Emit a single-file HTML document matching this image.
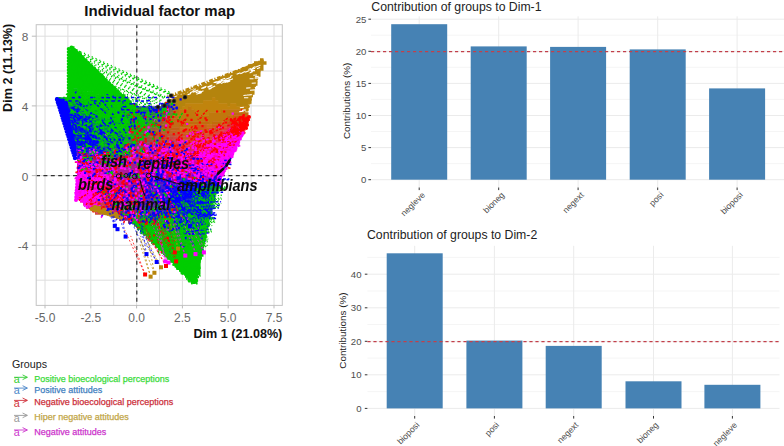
<!DOCTYPE html>
<html><head><meta charset="utf-8"><style>
html,body{margin:0;padding:0;background:#fff;width:784px;height:446px;overflow:hidden}
svg{display:block;font-family:"Liberation Sans",sans-serif}
</style></head><body>
<svg width="784" height="446" viewBox="0 0 784 446" font-family="Liberation Sans, sans-serif">
<rect width="784" height="446" fill="#fff"/>
<rect x="36.2" y="24.7" width="246.10000000000002" height="280.7" fill="#fff"/>
<line x1="45.0" y1="24.7" x2="45.0" y2="305.4" stroke="#dedede" stroke-width="1"/>
<line x1="67.9" y1="24.7" x2="67.9" y2="305.4" stroke="#dedede" stroke-width="1"/>
<line x1="90.8" y1="24.7" x2="90.8" y2="305.4" stroke="#dedede" stroke-width="1"/>
<line x1="113.7" y1="24.7" x2="113.7" y2="305.4" stroke="#dedede" stroke-width="1"/>
<line x1="136.6" y1="24.7" x2="136.6" y2="305.4" stroke="#dedede" stroke-width="1"/>
<line x1="159.5" y1="24.7" x2="159.5" y2="305.4" stroke="#dedede" stroke-width="1"/>
<line x1="182.4" y1="24.7" x2="182.4" y2="305.4" stroke="#dedede" stroke-width="1"/>
<line x1="205.3" y1="24.7" x2="205.3" y2="305.4" stroke="#dedede" stroke-width="1"/>
<line x1="228.2" y1="24.7" x2="228.2" y2="305.4" stroke="#dedede" stroke-width="1"/>
<line x1="251.1" y1="24.7" x2="251.1" y2="305.4" stroke="#dedede" stroke-width="1"/>
<line x1="274.0" y1="24.7" x2="274.0" y2="305.4" stroke="#dedede" stroke-width="1"/>
<line x1="36.2" y1="36.2" x2="282.3" y2="36.2" stroke="#dedede" stroke-width="1"/>
<line x1="36.2" y1="71.0" x2="282.3" y2="71.0" stroke="#dedede" stroke-width="1"/>
<line x1="36.2" y1="105.9" x2="282.3" y2="105.9" stroke="#dedede" stroke-width="1"/>
<line x1="36.2" y1="140.7" x2="282.3" y2="140.7" stroke="#dedede" stroke-width="1"/>
<line x1="36.2" y1="175.6" x2="282.3" y2="175.6" stroke="#dedede" stroke-width="1"/>
<line x1="36.2" y1="210.5" x2="282.3" y2="210.5" stroke="#dedede" stroke-width="1"/>
<line x1="36.2" y1="245.3" x2="282.3" y2="245.3" stroke="#dedede" stroke-width="1"/>
<line x1="36.2" y1="280.2" x2="282.3" y2="280.2" stroke="#dedede" stroke-width="1"/>
<clipPath id="pc"><rect x="36.2" y="24.7" width="246.10000000000002" height="280.7"/></clipPath>
<filter id="bl" x="-2%" y="-2%" width="104%" height="104%"><feGaussianBlur stdDeviation="0.4"/></filter>
<g clip-path="url(#pc)"><g filter="url(#bl)">
<line x1="36" y1="175.6" x2="283" y2="175.6" stroke="#333" stroke-width="1.2" stroke-dasharray="4,3.4"/>
<line x1="136.8" y1="24" x2="136.8" y2="306" stroke="#333" stroke-width="1.2" stroke-dasharray="4,3.4"/>
<path d="M73.3 49.3L172.2 94.3M76.1 52L171.3 94.3M78.5 54.2L170.3 95M82.3 57.9L170.3 94.4M83.9 59.5L167 97.3M86.6 62.1L165.2 99M90.5 65.8L165 97.5M92.2 67.5L164.6 97.6M95.3 70.4L164.4 97.7M98.5 73.6L162.3 100.7M101.4 76.4L160.4 101.2M104.5 79.3L159.8 101.2M107.8 82.6L156.5 104.5M110.1 84.8L158 102.2M112.2 86.8L158.1 103.3M115.2 89.7L154 105.2M119 93.3L152.4 105.4M120.5 94.8L151.6 106.9M124.6 98.7L151.8 106M126.8 100.9L150 107.5M72.5 48L172 93" stroke="#00cd00" stroke-width="1.25" fill="none" stroke-dasharray="1.2,3"/>
<path d="M254.7 63.7L179.5 102.1M252.1 64.5L166.5 96.5M195.1 86.7L173.4 99.6M246 68.1L167 101.1M252.2 64.9L168.2 98.2M180.4 94L169.6 103.1M244.3 67.9L177.8 101.1M253.6 65.8L168.2 98.1M197.1 86.3L169.4 96.6M254.4 64.4L168.6 100.8M230.8 73.4L179.4 99.9M213.7 81.1L167.7 97.2M185.7 92L168.7 97.5M199.9 86.8L167.9 103.6" stroke="#b8860b" stroke-width="1.3" fill="none" stroke-dasharray="4,1.6,1.2,1.6"/>
<path d="M71 46.3h3.5v3.5h-3.5zM68 49.3h3.5v3.5h-3.5zM71 49.3h3.5v3.5h-3.5zM74 49.3h3.5v3.5h-3.5zM68 52.3h3.5v3.5h-3.5zM71 52.3h3.5v3.5h-3.5zM74 52.3h3.5v3.5h-3.5zM77 52.3h3.5v3.5h-3.5zM68 55.3h3.5v3.5h-3.5zM71 55.3h3.5v3.5h-3.5zM74 55.3h3.5v3.5h-3.5zM77 55.3h3.5v3.5h-3.5zM80 55.3h3.5v3.5h-3.5zM68 58.3h3.5v3.5h-3.5zM71 58.3h3.5v3.5h-3.5zM74 58.3h3.5v3.5h-3.5zM77 58.3h3.5v3.5h-3.5zM80 58.3h3.5v3.5h-3.5zM83 58.3h3.5v3.5h-3.5zM68 61.3h3.5v3.5h-3.5zM71 61.3h3.5v3.5h-3.5zM74 61.3h3.5v3.5h-3.5zM77 61.3h3.5v3.5h-3.5zM80 61.3h3.5v3.5h-3.5zM83 61.3h3.5v3.5h-3.5zM86 61.3h3.5v3.5h-3.5zM68 64.3h3.5v3.5h-3.5zM71 64.3h3.5v3.5h-3.5zM74 64.3h3.5v3.5h-3.5zM77 64.3h3.5v3.5h-3.5zM80 64.3h3.5v3.5h-3.5zM83 64.3h3.5v3.5h-3.5zM86 64.3h3.5v3.5h-3.5zM89 64.3h3.5v3.5h-3.5zM68 67.3h3.5v3.5h-3.5zM71 67.3h3.5v3.5h-3.5zM74 67.3h3.5v3.5h-3.5zM77 67.3h3.5v3.5h-3.5zM80 67.3h3.5v3.5h-3.5zM83 67.3h3.5v3.5h-3.5zM86 67.3h3.5v3.5h-3.5zM89 67.3h3.5v3.5h-3.5zM92 67.3h3.5v3.5h-3.5zM68 70.3h3.5v3.5h-3.5zM71 70.3h3.5v3.5h-3.5zM74 70.3h3.5v3.5h-3.5zM77 70.3h3.5v3.5h-3.5zM80 70.3h3.5v3.5h-3.5zM83 70.3h3.5v3.5h-3.5zM86 70.3h3.5v3.5h-3.5zM89 70.3h3.5v3.5h-3.5zM92 70.3h3.5v3.5h-3.5zM95 70.3h3.5v3.5h-3.5zM68 73.3h3.5v3.5h-3.5zM71 73.3h3.5v3.5h-3.5zM74 73.3h3.5v3.5h-3.5zM77 73.3h3.5v3.5h-3.5zM80 73.3h3.5v3.5h-3.5zM83 73.3h3.5v3.5h-3.5zM86 73.3h3.5v3.5h-3.5zM89 73.3h3.5v3.5h-3.5zM92 73.3h3.5v3.5h-3.5zM95 73.3h3.5v3.5h-3.5zM98 73.3h3.5v3.5h-3.5zM68 76.3h3.5v3.5h-3.5zM71 76.3h3.5v3.5h-3.5zM74 76.3h3.5v3.5h-3.5zM77 76.3h3.5v3.5h-3.5zM80 76.3h3.5v3.5h-3.5zM83 76.3h3.5v3.5h-3.5zM86 76.3h3.5v3.5h-3.5zM89 76.3h3.5v3.5h-3.5zM92 76.3h3.5v3.5h-3.5zM95 76.3h3.5v3.5h-3.5zM98 76.3h3.5v3.5h-3.5zM101 76.3h3.5v3.5h-3.5zM68 79.3h3.5v3.5h-3.5zM71 79.3h3.5v3.5h-3.5zM74 79.3h3.5v3.5h-3.5zM77 79.3h3.5v3.5h-3.5zM80 79.3h3.5v3.5h-3.5zM83 79.3h3.5v3.5h-3.5zM86 79.3h3.5v3.5h-3.5zM89 79.3h3.5v3.5h-3.5zM92 79.3h3.5v3.5h-3.5zM95 79.3h3.5v3.5h-3.5zM98 79.3h3.5v3.5h-3.5zM101 79.3h3.5v3.5h-3.5zM104 79.3h3.5v3.5h-3.5zM68 82.3h3.5v3.5h-3.5zM71 82.3h3.5v3.5h-3.5zM74 82.3h3.5v3.5h-3.5zM77 82.3h3.5v3.5h-3.5zM80 82.3h3.5v3.5h-3.5zM83 82.3h3.5v3.5h-3.5zM86 82.3h3.5v3.5h-3.5zM89 82.3h3.5v3.5h-3.5zM92 82.3h3.5v3.5h-3.5zM95 82.3h3.5v3.5h-3.5zM98 82.3h3.5v3.5h-3.5zM101 82.3h3.5v3.5h-3.5zM104 82.3h3.5v3.5h-3.5zM107 82.3h3.5v3.5h-3.5zM68 85.3h3.5v3.5h-3.5zM71 85.3h3.5v3.5h-3.5zM74 85.3h3.5v3.5h-3.5zM77 85.3h3.5v3.5h-3.5zM80 85.3h3.5v3.5h-3.5zM83 85.3h3.5v3.5h-3.5zM86 85.3h3.5v3.5h-3.5zM89 85.3h3.5v3.5h-3.5zM92 85.3h3.5v3.5h-3.5zM95 85.3h3.5v3.5h-3.5zM98 85.3h3.5v3.5h-3.5zM101 85.3h3.5v3.5h-3.5zM104 85.3h3.5v3.5h-3.5zM107 85.3h3.5v3.5h-3.5zM110 85.3h3.5v3.5h-3.5zM83 88.3h3.5v3.5h-3.5zM86 88.3h3.5v3.5h-3.5zM89 88.3h3.5v3.5h-3.5zM92 88.3h3.5v3.5h-3.5zM95 88.3h3.5v3.5h-3.5zM98 88.3h3.5v3.5h-3.5zM101 88.3h3.5v3.5h-3.5zM104 88.3h3.5v3.5h-3.5zM107 88.3h3.5v3.5h-3.5zM110 88.3h3.5v3.5h-3.5zM113 88.3h3.5v3.5h-3.5zM95 91.3h3.5v3.5h-3.5zM98 91.3h3.5v3.5h-3.5zM101 91.3h3.5v3.5h-3.5zM104 91.3h3.5v3.5h-3.5zM107 91.3h3.5v3.5h-3.5zM110 91.3h3.5v3.5h-3.5zM113 91.3h3.5v3.5h-3.5zM116 91.3h3.5v3.5h-3.5zM110 94.3h3.5v3.5h-3.5zM113 94.3h3.5v3.5h-3.5zM182 250.3h3.5v3.5h-3.5zM185 250.3h3.5v3.5h-3.5zM188 250.3h3.5v3.5h-3.5zM173 253.3h3.5v3.5h-3.5zM176 253.3h3.5v3.5h-3.5zM179 253.3h3.5v3.5h-3.5zM182 253.3h3.5v3.5h-3.5zM185 253.3h3.5v3.5h-3.5zM188 253.3h3.5v3.5h-3.5zM191 253.3h3.5v3.5h-3.5zM194 253.3h3.5v3.5h-3.5zM170 256.3h3.5v3.5h-3.5zM173 256.3h3.5v3.5h-3.5zM176 256.3h3.5v3.5h-3.5zM179 256.3h3.5v3.5h-3.5zM182 256.3h3.5v3.5h-3.5zM185 256.3h3.5v3.5h-3.5zM188 256.3h3.5v3.5h-3.5zM191 256.3h3.5v3.5h-3.5zM194 256.3h3.5v3.5h-3.5zM197 256.3h3.5v3.5h-3.5zM170 259.3h3.5v3.5h-3.5zM173 259.3h3.5v3.5h-3.5zM176 259.3h3.5v3.5h-3.5zM179 259.3h3.5v3.5h-3.5zM182 259.3h3.5v3.5h-3.5zM185 259.3h3.5v3.5h-3.5zM188 259.3h3.5v3.5h-3.5zM191 259.3h3.5v3.5h-3.5zM194 259.3h3.5v3.5h-3.5zM197 259.3h3.5v3.5h-3.5zM173 262.3h3.5v3.5h-3.5zM176 262.3h3.5v3.5h-3.5zM179 262.3h3.5v3.5h-3.5zM182 262.3h3.5v3.5h-3.5zM185 262.3h3.5v3.5h-3.5zM188 262.3h3.5v3.5h-3.5zM191 262.3h3.5v3.5h-3.5zM194 262.3h3.5v3.5h-3.5zM197 262.3h3.5v3.5h-3.5zM176 265.3h3.5v3.5h-3.5zM179 265.3h3.5v3.5h-3.5zM182 265.3h3.5v3.5h-3.5zM185 265.3h3.5v3.5h-3.5zM188 265.3h3.5v3.5h-3.5zM191 265.3h3.5v3.5h-3.5zM194 265.3h3.5v3.5h-3.5zM197 265.3h3.5v3.5h-3.5zM179 268.3h3.5v3.5h-3.5zM182 268.3h3.5v3.5h-3.5zM185 268.3h3.5v3.5h-3.5zM188 268.3h3.5v3.5h-3.5zM191 268.3h3.5v3.5h-3.5zM194 268.3h3.5v3.5h-3.5zM197 268.3h3.5v3.5h-3.5zM182 271.3h3.5v3.5h-3.5zM185 271.3h3.5v3.5h-3.5zM188 271.3h3.5v3.5h-3.5zM191 271.3h3.5v3.5h-3.5zM194 271.3h3.5v3.5h-3.5zM197 271.3h3.5v3.5h-3.5zM185 274.3h3.5v3.5h-3.5zM188 274.3h3.5v3.5h-3.5zM191 274.3h3.5v3.5h-3.5zM194 274.3h3.5v3.5h-3.5zM188 277.3h3.5v3.5h-3.5zM191 277.3h3.5v3.5h-3.5zM194 277.3h3.5v3.5h-3.5zM191 280.3h3.5v3.5h-3.5zM194 280.3h3.5v3.5h-3.5z" fill="#00cc00"/>
<path d="M260 58.3h3.5v3.5h-3.5zM254 61.3h3.5v3.5h-3.5zM257 61.3h3.5v3.5h-3.5zM260 61.3h3.5v3.5h-3.5zM263 61.3h3.5v3.5h-3.5zM248 64.3h3.5v3.5h-3.5zM251 64.3h3.5v3.5h-3.5zM254 64.3h3.5v3.5h-3.5zM257 64.3h3.5v3.5h-3.5zM260 64.3h3.5v3.5h-3.5zM242 67.3h3.5v3.5h-3.5zM245 67.3h3.5v3.5h-3.5zM248 67.3h3.5v3.5h-3.5zM251 67.3h3.5v3.5h-3.5zM254 67.3h3.5v3.5h-3.5zM257 67.3h3.5v3.5h-3.5zM260 67.3h3.5v3.5h-3.5zM236 70.3h3.5v3.5h-3.5zM239 70.3h3.5v3.5h-3.5zM242 70.3h3.5v3.5h-3.5zM245 70.3h3.5v3.5h-3.5zM248 70.3h3.5v3.5h-3.5zM251 70.3h3.5v3.5h-3.5zM254 70.3h3.5v3.5h-3.5zM257 70.3h3.5v3.5h-3.5zM230 73.3h3.5v3.5h-3.5zM233 73.3h3.5v3.5h-3.5zM236 73.3h3.5v3.5h-3.5zM239 73.3h3.5v3.5h-3.5zM242 73.3h3.5v3.5h-3.5zM245 73.3h3.5v3.5h-3.5zM248 73.3h3.5v3.5h-3.5zM251 73.3h3.5v3.5h-3.5zM254 73.3h3.5v3.5h-3.5zM257 73.3h3.5v3.5h-3.5zM221 76.3h3.5v3.5h-3.5zM224 76.3h3.5v3.5h-3.5zM227 76.3h3.5v3.5h-3.5zM230 76.3h3.5v3.5h-3.5zM233 76.3h3.5v3.5h-3.5zM236 76.3h3.5v3.5h-3.5zM239 76.3h3.5v3.5h-3.5zM242 76.3h3.5v3.5h-3.5zM245 76.3h3.5v3.5h-3.5zM248 76.3h3.5v3.5h-3.5zM251 76.3h3.5v3.5h-3.5zM254 76.3h3.5v3.5h-3.5zM215 79.3h3.5v3.5h-3.5zM218 79.3h3.5v3.5h-3.5zM221 79.3h3.5v3.5h-3.5zM224 79.3h3.5v3.5h-3.5zM227 79.3h3.5v3.5h-3.5zM230 79.3h3.5v3.5h-3.5zM233 79.3h3.5v3.5h-3.5zM236 79.3h3.5v3.5h-3.5zM239 79.3h3.5v3.5h-3.5zM242 79.3h3.5v3.5h-3.5zM245 79.3h3.5v3.5h-3.5zM248 79.3h3.5v3.5h-3.5zM251 79.3h3.5v3.5h-3.5zM254 79.3h3.5v3.5h-3.5zM209 82.3h3.5v3.5h-3.5zM212 82.3h3.5v3.5h-3.5zM215 82.3h3.5v3.5h-3.5zM218 82.3h3.5v3.5h-3.5zM221 82.3h3.5v3.5h-3.5zM224 82.3h3.5v3.5h-3.5zM227 82.3h3.5v3.5h-3.5zM230 82.3h3.5v3.5h-3.5zM233 82.3h3.5v3.5h-3.5zM236 82.3h3.5v3.5h-3.5zM239 82.3h3.5v3.5h-3.5zM242 82.3h3.5v3.5h-3.5zM245 82.3h3.5v3.5h-3.5zM248 82.3h3.5v3.5h-3.5zM251 82.3h3.5v3.5h-3.5zM254 82.3h3.5v3.5h-3.5zM203 85.3h3.5v3.5h-3.5zM206 85.3h3.5v3.5h-3.5zM209 85.3h3.5v3.5h-3.5zM212 85.3h3.5v3.5h-3.5zM215 85.3h3.5v3.5h-3.5zM218 85.3h3.5v3.5h-3.5zM221 85.3h3.5v3.5h-3.5zM224 85.3h3.5v3.5h-3.5zM227 85.3h3.5v3.5h-3.5zM230 85.3h3.5v3.5h-3.5zM233 85.3h3.5v3.5h-3.5zM236 85.3h3.5v3.5h-3.5zM239 85.3h3.5v3.5h-3.5zM242 85.3h3.5v3.5h-3.5zM245 85.3h3.5v3.5h-3.5zM248 85.3h3.5v3.5h-3.5zM251 85.3h3.5v3.5h-3.5zM197 88.3h3.5v3.5h-3.5zM200 88.3h3.5v3.5h-3.5zM203 88.3h3.5v3.5h-3.5zM206 88.3h3.5v3.5h-3.5zM209 88.3h3.5v3.5h-3.5zM212 88.3h3.5v3.5h-3.5zM215 88.3h3.5v3.5h-3.5zM218 88.3h3.5v3.5h-3.5zM221 88.3h3.5v3.5h-3.5zM224 88.3h3.5v3.5h-3.5zM227 88.3h3.5v3.5h-3.5zM230 88.3h3.5v3.5h-3.5zM233 88.3h3.5v3.5h-3.5zM236 88.3h3.5v3.5h-3.5zM239 88.3h3.5v3.5h-3.5zM242 88.3h3.5v3.5h-3.5zM245 88.3h3.5v3.5h-3.5zM248 88.3h3.5v3.5h-3.5zM251 88.3h3.5v3.5h-3.5zM191 91.3h3.5v3.5h-3.5zM194 91.3h3.5v3.5h-3.5zM197 91.3h3.5v3.5h-3.5zM200 91.3h3.5v3.5h-3.5zM203 91.3h3.5v3.5h-3.5zM206 91.3h3.5v3.5h-3.5zM209 91.3h3.5v3.5h-3.5zM212 91.3h3.5v3.5h-3.5zM215 91.3h3.5v3.5h-3.5zM218 91.3h3.5v3.5h-3.5zM221 91.3h3.5v3.5h-3.5zM224 91.3h3.5v3.5h-3.5zM227 91.3h3.5v3.5h-3.5zM230 91.3h3.5v3.5h-3.5zM233 91.3h3.5v3.5h-3.5zM236 91.3h3.5v3.5h-3.5zM239 91.3h3.5v3.5h-3.5zM242 91.3h3.5v3.5h-3.5zM245 91.3h3.5v3.5h-3.5zM248 91.3h3.5v3.5h-3.5zM251 91.3h3.5v3.5h-3.5zM185 94.3h3.5v3.5h-3.5zM188 94.3h3.5v3.5h-3.5zM191 94.3h3.5v3.5h-3.5zM194 94.3h3.5v3.5h-3.5zM197 94.3h3.5v3.5h-3.5zM200 94.3h3.5v3.5h-3.5zM203 94.3h3.5v3.5h-3.5zM206 94.3h3.5v3.5h-3.5zM209 94.3h3.5v3.5h-3.5zM212 94.3h3.5v3.5h-3.5zM215 94.3h3.5v3.5h-3.5zM218 94.3h3.5v3.5h-3.5zM221 94.3h3.5v3.5h-3.5zM224 94.3h3.5v3.5h-3.5zM227 94.3h3.5v3.5h-3.5zM230 94.3h3.5v3.5h-3.5zM233 94.3h3.5v3.5h-3.5zM236 94.3h3.5v3.5h-3.5zM239 94.3h3.5v3.5h-3.5zM242 94.3h3.5v3.5h-3.5zM245 94.3h3.5v3.5h-3.5zM248 94.3h3.5v3.5h-3.5zM176 97.3h3.5v3.5h-3.5zM179 97.3h3.5v3.5h-3.5zM182 97.3h3.5v3.5h-3.5zM185 97.3h3.5v3.5h-3.5zM188 97.3h3.5v3.5h-3.5zM191 97.3h3.5v3.5h-3.5zM194 97.3h3.5v3.5h-3.5zM197 97.3h3.5v3.5h-3.5zM200 97.3h3.5v3.5h-3.5zM203 97.3h3.5v3.5h-3.5zM206 97.3h3.5v3.5h-3.5zM209 97.3h3.5v3.5h-3.5zM215 97.3h3.5v3.5h-3.5zM218 97.3h3.5v3.5h-3.5zM221 97.3h3.5v3.5h-3.5zM224 97.3h3.5v3.5h-3.5zM227 97.3h3.5v3.5h-3.5zM230 97.3h3.5v3.5h-3.5zM233 97.3h3.5v3.5h-3.5zM236 97.3h3.5v3.5h-3.5zM239 97.3h3.5v3.5h-3.5zM242 97.3h3.5v3.5h-3.5zM245 97.3h3.5v3.5h-3.5zM248 97.3h3.5v3.5h-3.5zM176 100.3h3.5v3.5h-3.5zM179 100.3h3.5v3.5h-3.5zM182 100.3h3.5v3.5h-3.5zM185 100.3h3.5v3.5h-3.5zM188 100.3h3.5v3.5h-3.5zM191 100.3h3.5v3.5h-3.5zM194 100.3h3.5v3.5h-3.5zM197 100.3h3.5v3.5h-3.5zM200 100.3h3.5v3.5h-3.5zM218 100.3h3.5v3.5h-3.5zM221 100.3h3.5v3.5h-3.5zM224 100.3h3.5v3.5h-3.5zM227 100.3h3.5v3.5h-3.5zM230 100.3h3.5v3.5h-3.5zM233 100.3h3.5v3.5h-3.5zM236 100.3h3.5v3.5h-3.5zM239 100.3h3.5v3.5h-3.5zM242 100.3h3.5v3.5h-3.5zM245 100.3h3.5v3.5h-3.5zM248 100.3h3.5v3.5h-3.5zM176 103.3h3.5v3.5h-3.5zM179 103.3h3.5v3.5h-3.5zM182 103.3h3.5v3.5h-3.5zM227 103.3h3.5v3.5h-3.5zM236 103.3h3.5v3.5h-3.5zM239 103.3h3.5v3.5h-3.5zM242 103.3h3.5v3.5h-3.5zM245 103.3h3.5v3.5h-3.5zM179 106.3h3.5v3.5h-3.5z" fill="#b4840c"/>
<path d="M68 88.3h3.5v3.5h-3.5zM71 88.3h3.5v3.5h-3.5zM74 88.3h3.5v3.5h-3.5zM77 91.3h3.5v3.5h-3.5zM80 91.3h3.5v3.5h-3.5zM83 91.3h3.5v3.5h-3.5zM86 94.3h3.5v3.5h-3.5zM89 94.3h3.5v3.5h-3.5zM92 94.3h3.5v3.5h-3.5zM95 94.3h3.5v3.5h-3.5zM98 94.3h3.5v3.5h-3.5zM101 94.3h3.5v3.5h-3.5zM119 94.3h3.5v3.5h-3.5zM122 94.3h3.5v3.5h-3.5zM98 97.3h3.5v3.5h-3.5zM101 97.3h3.5v3.5h-3.5zM104 97.3h3.5v3.5h-3.5zM107 97.3h3.5v3.5h-3.5zM110 97.3h3.5v3.5h-3.5zM113 97.3h3.5v3.5h-3.5zM116 97.3h3.5v3.5h-3.5zM119 97.3h3.5v3.5h-3.5zM104 100.3h3.5v3.5h-3.5zM107 100.3h3.5v3.5h-3.5zM110 100.3h3.5v3.5h-3.5zM113 100.3h3.5v3.5h-3.5zM116 100.3h3.5v3.5h-3.5zM107 103.3h3.5v3.5h-3.5zM110 103.3h3.5v3.5h-3.5zM113 103.3h3.5v3.5h-3.5zM185 247.3h3.5v3.5h-3.5zM188 247.3h3.5v3.5h-3.5zM194 250.3h3.5v3.5h-3.5zM200 253.3h3.5v3.5h-3.5z" fill="#00c00c"/>
<path d="M77 88.3h3.5v3.5h-3.5zM80 88.3h3.5v3.5h-3.5zM86 91.3h3.5v3.5h-3.5zM89 91.3h3.5v3.5h-3.5zM92 91.3h3.5v3.5h-3.5zM104 94.3h3.5v3.5h-3.5zM107 94.3h3.5v3.5h-3.5zM116 94.3h3.5v3.5h-3.5zM191 250.3h3.5v3.5h-3.5zM197 253.3h3.5v3.5h-3.5z" fill="#00cc0c"/>
<path d="M68 91.3h3.5v3.5h-3.5zM71 91.3h3.5v3.5h-3.5zM74 91.3h3.5v3.5h-3.5zM83 94.3h3.5v3.5h-3.5zM89 97.3h3.5v3.5h-3.5zM92 97.3h3.5v3.5h-3.5zM95 97.3h3.5v3.5h-3.5zM122 97.3h3.5v3.5h-3.5zM125 97.3h3.5v3.5h-3.5zM98 100.3h3.5v3.5h-3.5zM101 100.3h3.5v3.5h-3.5zM119 100.3h3.5v3.5h-3.5zM122 100.3h3.5v3.5h-3.5zM101 103.3h3.5v3.5h-3.5zM104 103.3h3.5v3.5h-3.5zM116 103.3h3.5v3.5h-3.5zM119 103.3h3.5v3.5h-3.5zM104 106.3h3.5v3.5h-3.5zM107 106.3h3.5v3.5h-3.5zM110 106.3h3.5v3.5h-3.5zM113 106.3h3.5v3.5h-3.5zM116 106.3h3.5v3.5h-3.5zM119 106.3h3.5v3.5h-3.5zM107 109.3h3.5v3.5h-3.5zM110 109.3h3.5v3.5h-3.5zM113 109.3h3.5v3.5h-3.5zM116 109.3h3.5v3.5h-3.5zM113 112.3h3.5v3.5h-3.5zM116 112.3h3.5v3.5h-3.5zM191 247.3h3.5v3.5h-3.5zM194 247.3h3.5v3.5h-3.5zM197 250.3h3.5v3.5h-3.5zM200 250.3h3.5v3.5h-3.5z" fill="#00c018"/>
<path d="M68 94.3h3.5v3.5h-3.5zM71 94.3h3.5v3.5h-3.5zM74 94.3h3.5v3.5h-3.5zM80 97.3h3.5v3.5h-3.5zM86 100.3h3.5v3.5h-3.5zM92 103.3h3.5v3.5h-3.5zM95 106.3h3.5v3.5h-3.5zM98 109.3h3.5v3.5h-3.5zM101 112.3h3.5v3.5h-3.5zM104 112.3h3.5v3.5h-3.5zM104 115.3h3.5v3.5h-3.5zM107 115.3h3.5v3.5h-3.5zM110 118.3h3.5v3.5h-3.5zM113 118.3h3.5v3.5h-3.5zM116 118.3h3.5v3.5h-3.5zM116 121.3h3.5v3.5h-3.5zM119 121.3h3.5v3.5h-3.5zM191 232.3h3.5v3.5h-3.5zM194 232.3h3.5v3.5h-3.5zM197 232.3h3.5v3.5h-3.5zM200 232.3h3.5v3.5h-3.5zM203 232.3h3.5v3.5h-3.5zM185 235.3h3.5v3.5h-3.5zM188 235.3h3.5v3.5h-3.5zM191 235.3h3.5v3.5h-3.5zM194 235.3h3.5v3.5h-3.5zM197 235.3h3.5v3.5h-3.5zM191 238.3h3.5v3.5h-3.5zM194 238.3h3.5v3.5h-3.5z" fill="#00b424"/>
<path d="M77 94.3h3.5v3.5h-3.5zM80 94.3h3.5v3.5h-3.5zM83 97.3h3.5v3.5h-3.5zM86 97.3h3.5v3.5h-3.5zM89 100.3h3.5v3.5h-3.5zM92 100.3h3.5v3.5h-3.5zM95 100.3h3.5v3.5h-3.5zM125 100.3h3.5v3.5h-3.5zM128 100.3h3.5v3.5h-3.5zM95 103.3h3.5v3.5h-3.5zM98 103.3h3.5v3.5h-3.5zM122 103.3h3.5v3.5h-3.5zM125 103.3h3.5v3.5h-3.5zM128 103.3h3.5v3.5h-3.5zM98 106.3h3.5v3.5h-3.5zM101 106.3h3.5v3.5h-3.5zM122 106.3h3.5v3.5h-3.5zM125 106.3h3.5v3.5h-3.5zM101 109.3h3.5v3.5h-3.5zM104 109.3h3.5v3.5h-3.5zM119 109.3h3.5v3.5h-3.5zM122 109.3h3.5v3.5h-3.5zM107 112.3h3.5v3.5h-3.5zM110 112.3h3.5v3.5h-3.5zM119 112.3h3.5v3.5h-3.5zM122 112.3h3.5v3.5h-3.5zM110 115.3h3.5v3.5h-3.5zM113 115.3h3.5v3.5h-3.5zM116 115.3h3.5v3.5h-3.5zM119 115.3h3.5v3.5h-3.5zM122 115.3h3.5v3.5h-3.5zM119 118.3h3.5v3.5h-3.5zM200 235.3h3.5v3.5h-3.5zM203 235.3h3.5v3.5h-3.5zM185 238.3h3.5v3.5h-3.5zM188 238.3h3.5v3.5h-3.5zM197 238.3h3.5v3.5h-3.5zM200 238.3h3.5v3.5h-3.5zM188 241.3h3.5v3.5h-3.5zM191 241.3h3.5v3.5h-3.5zM194 241.3h3.5v3.5h-3.5zM197 241.3h3.5v3.5h-3.5zM200 241.3h3.5v3.5h-3.5zM188 244.3h3.5v3.5h-3.5zM191 244.3h3.5v3.5h-3.5zM194 244.3h3.5v3.5h-3.5zM197 244.3h3.5v3.5h-3.5zM200 244.3h3.5v3.5h-3.5zM197 247.3h3.5v3.5h-3.5zM200 247.3h3.5v3.5h-3.5z" fill="#00b418"/>
<path d="M56 97.3h3.5v3.5h-3.5zM68 100.3h3.5v3.5h-3.5zM71 100.3h3.5v3.5h-3.5zM77 103.3h3.5v3.5h-3.5zM86 109.3h3.5v3.5h-3.5zM89 112.3h3.5v3.5h-3.5zM92 115.3h3.5v3.5h-3.5zM95 118.3h3.5v3.5h-3.5zM98 121.3h3.5v3.5h-3.5zM101 124.3h3.5v3.5h-3.5zM104 127.3h3.5v3.5h-3.5zM107 130.3h3.5v3.5h-3.5zM110 133.3h3.5v3.5h-3.5zM194 223.3h3.5v3.5h-3.5zM197 223.3h3.5v3.5h-3.5zM200 223.3h3.5v3.5h-3.5zM203 223.3h3.5v3.5h-3.5zM206 223.3h3.5v3.5h-3.5zM179 226.3h3.5v3.5h-3.5zM182 226.3h3.5v3.5h-3.5z" fill="#009048"/>
<path d="M59 97.3h3.5v3.5h-3.5zM62 97.3h3.5v3.5h-3.5zM65 97.3h3.5v3.5h-3.5zM68 97.3h3.5v3.5h-3.5zM77 100.3h3.5v3.5h-3.5zM80 103.3h3.5v3.5h-3.5zM86 106.3h3.5v3.5h-3.5zM89 109.3h3.5v3.5h-3.5zM92 112.3h3.5v3.5h-3.5zM95 115.3h3.5v3.5h-3.5zM98 118.3h3.5v3.5h-3.5zM101 121.3h3.5v3.5h-3.5zM104 121.3h3.5v3.5h-3.5zM104 124.3h3.5v3.5h-3.5zM107 127.3h3.5v3.5h-3.5zM110 127.3h3.5v3.5h-3.5zM110 130.3h3.5v3.5h-3.5zM113 130.3h3.5v3.5h-3.5zM188 226.3h3.5v3.5h-3.5zM191 226.3h3.5v3.5h-3.5zM194 226.3h3.5v3.5h-3.5zM197 226.3h3.5v3.5h-3.5zM200 226.3h3.5v3.5h-3.5zM203 226.3h3.5v3.5h-3.5zM179 229.3h3.5v3.5h-3.5zM182 229.3h3.5v3.5h-3.5z" fill="#009c3c"/>
<path d="M71 97.3h3.5v3.5h-3.5zM83 103.3h3.5v3.5h-3.5zM107 124.3h3.5v3.5h-3.5z" fill="#009c30"/>
<path d="M74 97.3h3.5v3.5h-3.5zM77 97.3h3.5v3.5h-3.5zM80 100.3h3.5v3.5h-3.5zM86 103.3h3.5v3.5h-3.5zM89 106.3h3.5v3.5h-3.5zM92 109.3h3.5v3.5h-3.5zM95 112.3h3.5v3.5h-3.5zM98 115.3h3.5v3.5h-3.5zM101 115.3h3.5v3.5h-3.5zM101 118.3h3.5v3.5h-3.5zM104 118.3h3.5v3.5h-3.5zM107 121.3h3.5v3.5h-3.5zM110 121.3h3.5v3.5h-3.5zM110 124.3h3.5v3.5h-3.5zM113 124.3h3.5v3.5h-3.5zM113 127.3h3.5v3.5h-3.5zM116 127.3h3.5v3.5h-3.5zM185 229.3h3.5v3.5h-3.5zM188 229.3h3.5v3.5h-3.5zM191 229.3h3.5v3.5h-3.5zM194 229.3h3.5v3.5h-3.5zM197 229.3h3.5v3.5h-3.5zM200 229.3h3.5v3.5h-3.5z" fill="#00a830"/>
<path d="M212 97.3h3.5v3.5h-3.5zM203 100.3h3.5v3.5h-3.5zM206 100.3h3.5v3.5h-3.5zM209 100.3h3.5v3.5h-3.5zM212 100.3h3.5v3.5h-3.5zM215 100.3h3.5v3.5h-3.5zM185 103.3h3.5v3.5h-3.5zM188 103.3h3.5v3.5h-3.5zM191 103.3h3.5v3.5h-3.5zM194 103.3h3.5v3.5h-3.5zM197 103.3h3.5v3.5h-3.5zM200 103.3h3.5v3.5h-3.5zM203 103.3h3.5v3.5h-3.5zM206 103.3h3.5v3.5h-3.5zM209 103.3h3.5v3.5h-3.5zM212 103.3h3.5v3.5h-3.5zM215 103.3h3.5v3.5h-3.5zM218 103.3h3.5v3.5h-3.5zM221 103.3h3.5v3.5h-3.5zM224 103.3h3.5v3.5h-3.5zM230 103.3h3.5v3.5h-3.5zM233 103.3h3.5v3.5h-3.5zM182 106.3h3.5v3.5h-3.5zM185 106.3h3.5v3.5h-3.5zM191 106.3h3.5v3.5h-3.5zM194 106.3h3.5v3.5h-3.5zM197 106.3h3.5v3.5h-3.5zM200 106.3h3.5v3.5h-3.5zM203 106.3h3.5v3.5h-3.5zM206 106.3h3.5v3.5h-3.5zM209 106.3h3.5v3.5h-3.5zM212 106.3h3.5v3.5h-3.5zM215 106.3h3.5v3.5h-3.5zM218 106.3h3.5v3.5h-3.5zM221 106.3h3.5v3.5h-3.5zM224 106.3h3.5v3.5h-3.5zM227 106.3h3.5v3.5h-3.5zM230 106.3h3.5v3.5h-3.5zM233 106.3h3.5v3.5h-3.5zM236 106.3h3.5v3.5h-3.5zM239 106.3h3.5v3.5h-3.5zM242 106.3h3.5v3.5h-3.5zM245 106.3h3.5v3.5h-3.5zM194 109.3h3.5v3.5h-3.5zM197 109.3h3.5v3.5h-3.5zM200 109.3h3.5v3.5h-3.5zM203 109.3h3.5v3.5h-3.5zM206 109.3h3.5v3.5h-3.5zM209 109.3h3.5v3.5h-3.5zM212 109.3h3.5v3.5h-3.5zM215 109.3h3.5v3.5h-3.5zM218 109.3h3.5v3.5h-3.5zM197 112.3h3.5v3.5h-3.5zM200 112.3h3.5v3.5h-3.5zM203 112.3h3.5v3.5h-3.5zM206 112.3h3.5v3.5h-3.5z" fill="#c0840c"/>
<path d="M56 100.3h3.5v3.5h-3.5zM59 100.3h3.5v3.5h-3.5zM68 103.3h3.5v3.5h-3.5zM71 103.3h3.5v3.5h-3.5zM77 106.3h3.5v3.5h-3.5zM80 109.3h3.5v3.5h-3.5zM83 112.3h3.5v3.5h-3.5zM86 115.3h3.5v3.5h-3.5zM92 121.3h3.5v3.5h-3.5zM95 124.3h3.5v3.5h-3.5zM98 127.3h3.5v3.5h-3.5zM101 130.3h3.5v3.5h-3.5zM104 133.3h3.5v3.5h-3.5zM194 220.3h3.5v3.5h-3.5zM197 220.3h3.5v3.5h-3.5zM200 220.3h3.5v3.5h-3.5zM203 220.3h3.5v3.5h-3.5z" fill="#008460"/>
<path d="M62 100.3h3.5v3.5h-3.5zM74 103.3h3.5v3.5h-3.5zM86 112.3h3.5v3.5h-3.5zM89 115.3h3.5v3.5h-3.5zM92 118.3h3.5v3.5h-3.5zM95 121.3h3.5v3.5h-3.5zM98 124.3h3.5v3.5h-3.5zM107 133.3h3.5v3.5h-3.5zM206 220.3h3.5v3.5h-3.5zM179 223.3h3.5v3.5h-3.5zM182 223.3h3.5v3.5h-3.5zM185 223.3h3.5v3.5h-3.5z" fill="#008454"/>
<path d="M65 100.3h3.5v3.5h-3.5zM80 106.3h3.5v3.5h-3.5zM83 109.3h3.5v3.5h-3.5zM101 127.3h3.5v3.5h-3.5zM104 130.3h3.5v3.5h-3.5zM188 223.3h3.5v3.5h-3.5zM191 223.3h3.5v3.5h-3.5z" fill="#009054"/>
<path d="M74 100.3h3.5v3.5h-3.5zM83 106.3h3.5v3.5h-3.5zM185 226.3h3.5v3.5h-3.5z" fill="#009c48"/>
<path d="M83 100.3h3.5v3.5h-3.5zM89 103.3h3.5v3.5h-3.5zM92 106.3h3.5v3.5h-3.5zM95 109.3h3.5v3.5h-3.5zM98 112.3h3.5v3.5h-3.5zM107 118.3h3.5v3.5h-3.5zM113 121.3h3.5v3.5h-3.5zM116 124.3h3.5v3.5h-3.5zM119 124.3h3.5v3.5h-3.5zM203 229.3h3.5v3.5h-3.5zM182 232.3h3.5v3.5h-3.5zM185 232.3h3.5v3.5h-3.5zM188 232.3h3.5v3.5h-3.5z" fill="#00a824"/>
<path d="M167 100.3h3.5v3.5h-3.5zM167 112.3h3.5v3.5h-3.5z" fill="#6c6c48"/>
<path d="M170 100.3h3.5v3.5h-3.5z" fill="#907830"/>
<path d="M173 100.3h3.5v3.5h-3.5z" fill="#a88418"/>
<path d="M59 103.3h3.5v3.5h-3.5zM95 130.3h3.5v3.5h-3.5zM98 133.3h3.5v3.5h-3.5z" fill="#006c6c"/>
<path d="M62 103.3h3.5v3.5h-3.5zM65 103.3h3.5v3.5h-3.5zM71 106.3h3.5v3.5h-3.5zM74 106.3h3.5v3.5h-3.5zM77 109.3h3.5v3.5h-3.5zM80 112.3h3.5v3.5h-3.5zM83 115.3h3.5v3.5h-3.5zM86 118.3h3.5v3.5h-3.5zM89 121.3h3.5v3.5h-3.5zM92 124.3h3.5v3.5h-3.5zM95 127.3h3.5v3.5h-3.5zM98 130.3h3.5v3.5h-3.5zM101 133.3h3.5v3.5h-3.5zM101 136.3h3.5v3.5h-3.5zM194 217.3h3.5v3.5h-3.5zM197 217.3h3.5v3.5h-3.5zM200 217.3h3.5v3.5h-3.5zM203 217.3h3.5v3.5h-3.5zM206 217.3h3.5v3.5h-3.5zM182 220.3h3.5v3.5h-3.5zM185 220.3h3.5v3.5h-3.5zM188 220.3h3.5v3.5h-3.5z" fill="#00786c"/>
<path d="M131 103.3h3.5v3.5h-3.5zM131 106.3h3.5v3.5h-3.5zM131 109.3h3.5v3.5h-3.5zM125 118.3h3.5v3.5h-3.5zM128 118.3h3.5v3.5h-3.5zM122 121.3h3.5v3.5h-3.5zM125 121.3h3.5v3.5h-3.5zM122 124.3h3.5v3.5h-3.5zM125 124.3h3.5v3.5h-3.5zM125 127.3h3.5v3.5h-3.5zM173 232.3h3.5v3.5h-3.5zM176 232.3h3.5v3.5h-3.5zM179 232.3h3.5v3.5h-3.5z" fill="#0ca824"/>
<path d="M134 103.3h3.5v3.5h-3.5zM116 130.3h3.5v3.5h-3.5zM119 130.3h3.5v3.5h-3.5zM122 130.3h3.5v3.5h-3.5zM173 229.3h3.5v3.5h-3.5z" fill="#0c9c30"/>
<path d="M161 103.3h3.5v3.5h-3.5zM158 106.3h3.5v3.5h-3.5zM161 106.3h3.5v3.5h-3.5zM164 106.3h3.5v3.5h-3.5zM158 109.3h3.5v3.5h-3.5zM161 109.3h3.5v3.5h-3.5zM128 145.3h3.5v3.5h-3.5zM122 148.3h3.5v3.5h-3.5z" fill="#486060"/>
<path d="M164 103.3h3.5v3.5h-3.5zM125 148.3h3.5v3.5h-3.5z" fill="#546060"/>
<path d="M167 103.3h3.5v3.5h-3.5zM167 106.3h3.5v3.5h-3.5zM167 109.3h3.5v3.5h-3.5zM137 142.3h3.5v3.5h-3.5z" fill="#606054"/>
<path d="M170 103.3h3.5v3.5h-3.5zM170 109.3h3.5v3.5h-3.5z" fill="#846c3c"/>
<path d="M173 103.3h3.5v3.5h-3.5zM173 112.3h3.5v3.5h-3.5z" fill="#a87818"/>
<path d="M59 106.3h3.5v3.5h-3.5zM62 109.3h3.5v3.5h-3.5zM65 109.3h3.5v3.5h-3.5zM68 109.3h3.5v3.5h-3.5zM71 112.3h3.5v3.5h-3.5zM74 112.3h3.5v3.5h-3.5zM77 115.3h3.5v3.5h-3.5zM86 124.3h3.5v3.5h-3.5zM89 127.3h3.5v3.5h-3.5zM92 133.3h3.5v3.5h-3.5zM95 136.3h3.5v3.5h-3.5zM98 139.3h3.5v3.5h-3.5zM188 214.3h3.5v3.5h-3.5zM191 214.3h3.5v3.5h-3.5z" fill="#006084"/>
<path d="M62 106.3h3.5v3.5h-3.5zM65 106.3h3.5v3.5h-3.5zM68 106.3h3.5v3.5h-3.5zM71 109.3h3.5v3.5h-3.5zM74 109.3h3.5v3.5h-3.5zM77 112.3h3.5v3.5h-3.5zM80 115.3h3.5v3.5h-3.5zM89 124.3h3.5v3.5h-3.5zM92 127.3h3.5v3.5h-3.5zM92 130.3h3.5v3.5h-3.5zM95 133.3h3.5v3.5h-3.5zM98 136.3h3.5v3.5h-3.5zM197 214.3h3.5v3.5h-3.5zM200 214.3h3.5v3.5h-3.5zM203 214.3h3.5v3.5h-3.5zM206 214.3h3.5v3.5h-3.5zM179 217.3h3.5v3.5h-3.5zM182 217.3h3.5v3.5h-3.5zM185 217.3h3.5v3.5h-3.5zM188 217.3h3.5v3.5h-3.5zM191 217.3h3.5v3.5h-3.5z" fill="#006c78"/>
<path d="M128 106.3h3.5v3.5h-3.5zM125 109.3h3.5v3.5h-3.5zM128 109.3h3.5v3.5h-3.5zM125 112.3h3.5v3.5h-3.5zM128 112.3h3.5v3.5h-3.5zM125 115.3h3.5v3.5h-3.5zM176 235.3h3.5v3.5h-3.5zM179 235.3h3.5v3.5h-3.5zM173 238.3h3.5v3.5h-3.5zM176 238.3h3.5v3.5h-3.5zM179 238.3h3.5v3.5h-3.5zM182 238.3h3.5v3.5h-3.5zM182 241.3h3.5v3.5h-3.5zM185 241.3h3.5v3.5h-3.5z" fill="#0cb418"/>
<path d="M134 106.3h3.5v3.5h-3.5zM125 130.3h3.5v3.5h-3.5zM128 130.3h3.5v3.5h-3.5zM170 229.3h3.5v3.5h-3.5z" fill="#189c30"/>
<path d="M137 106.3h3.5v3.5h-3.5zM116 139.3h3.5v3.5h-3.5zM119 139.3h3.5v3.5h-3.5zM170 223.3h3.5v3.5h-3.5z" fill="#188448"/>
<path d="M140 106.3h3.5v3.5h-3.5zM113 145.3h3.5v3.5h-3.5z" fill="#246c60"/>
<path d="M143 106.3h3.5v3.5h-3.5zM110 145.3h3.5v3.5h-3.5zM170 217.3h3.5v3.5h-3.5z" fill="#246c6c"/>
<path d="M146 106.3h3.5v3.5h-3.5z" fill="#306c6c"/>
<path d="M152 106.3h3.5v3.5h-3.5zM155 106.3h3.5v3.5h-3.5zM155 109.3h3.5v3.5h-3.5zM119 148.3h3.5v3.5h-3.5zM146 214.3h3.5v3.5h-3.5zM152 217.3h3.5v3.5h-3.5z" fill="#3c6060"/>
<path d="M170 106.3h3.5v3.5h-3.5zM161 118.3h3.5v3.5h-3.5zM155 121.3h3.5v3.5h-3.5z" fill="#786c3c"/>
<path d="M173 106.3h3.5v3.5h-3.5z" fill="#9c7824"/>
<path d="M176 106.3h3.5v3.5h-3.5zM176 109.3h3.5v3.5h-3.5zM176 112.3h3.5v3.5h-3.5z" fill="#b4780c"/>
<path d="M188 106.3h3.5v3.5h-3.5zM179 109.3h3.5v3.5h-3.5zM182 109.3h3.5v3.5h-3.5zM185 109.3h3.5v3.5h-3.5zM188 109.3h3.5v3.5h-3.5zM191 109.3h3.5v3.5h-3.5zM221 109.3h3.5v3.5h-3.5zM224 109.3h3.5v3.5h-3.5zM227 109.3h3.5v3.5h-3.5zM230 109.3h3.5v3.5h-3.5zM233 109.3h3.5v3.5h-3.5zM236 109.3h3.5v3.5h-3.5zM239 109.3h3.5v3.5h-3.5zM242 109.3h3.5v3.5h-3.5zM179 112.3h3.5v3.5h-3.5zM182 112.3h3.5v3.5h-3.5zM185 112.3h3.5v3.5h-3.5zM188 112.3h3.5v3.5h-3.5zM191 112.3h3.5v3.5h-3.5zM194 112.3h3.5v3.5h-3.5zM209 112.3h3.5v3.5h-3.5zM212 112.3h3.5v3.5h-3.5zM215 112.3h3.5v3.5h-3.5zM218 112.3h3.5v3.5h-3.5zM221 112.3h3.5v3.5h-3.5zM224 112.3h3.5v3.5h-3.5zM227 112.3h3.5v3.5h-3.5zM230 112.3h3.5v3.5h-3.5zM176 115.3h3.5v3.5h-3.5zM179 115.3h3.5v3.5h-3.5zM182 115.3h3.5v3.5h-3.5zM185 115.3h3.5v3.5h-3.5zM188 115.3h3.5v3.5h-3.5zM191 115.3h3.5v3.5h-3.5zM194 115.3h3.5v3.5h-3.5zM197 115.3h3.5v3.5h-3.5zM200 115.3h3.5v3.5h-3.5zM203 115.3h3.5v3.5h-3.5zM206 115.3h3.5v3.5h-3.5zM209 115.3h3.5v3.5h-3.5zM212 115.3h3.5v3.5h-3.5zM215 115.3h3.5v3.5h-3.5zM218 115.3h3.5v3.5h-3.5zM221 115.3h3.5v3.5h-3.5zM224 115.3h3.5v3.5h-3.5zM179 118.3h3.5v3.5h-3.5zM182 118.3h3.5v3.5h-3.5zM185 118.3h3.5v3.5h-3.5zM188 118.3h3.5v3.5h-3.5zM191 118.3h3.5v3.5h-3.5zM194 118.3h3.5v3.5h-3.5zM197 118.3h3.5v3.5h-3.5zM200 118.3h3.5v3.5h-3.5zM203 118.3h3.5v3.5h-3.5zM206 118.3h3.5v3.5h-3.5zM209 118.3h3.5v3.5h-3.5zM212 118.3h3.5v3.5h-3.5zM215 118.3h3.5v3.5h-3.5zM218 118.3h3.5v3.5h-3.5zM221 118.3h3.5v3.5h-3.5zM209 121.3h3.5v3.5h-3.5z" fill="#c0780c"/>
<path d="M134 109.3h3.5v3.5h-3.5zM134 112.3h3.5v3.5h-3.5zM131 124.3h3.5v3.5h-3.5zM128 127.3h3.5v3.5h-3.5zM167 229.3h3.5v3.5h-3.5z" fill="#189c24"/>
<path d="M137 109.3h3.5v3.5h-3.5zM125 136.3h3.5v3.5h-3.5z" fill="#24903c"/>
<path d="M140 109.3h3.5v3.5h-3.5zM122 142.3h3.5v3.5h-3.5zM125 142.3h3.5v3.5h-3.5zM155 220.3h3.5v3.5h-3.5zM158 220.3h3.5v3.5h-3.5zM161 220.3h3.5v3.5h-3.5zM164 220.3h3.5v3.5h-3.5z" fill="#307854"/>
<path d="M143 109.3h3.5v3.5h-3.5zM146 109.3h3.5v3.5h-3.5zM149 109.3h3.5v3.5h-3.5zM116 145.3h3.5v3.5h-3.5zM119 145.3h3.5v3.5h-3.5zM167 217.3h3.5v3.5h-3.5z" fill="#306c60"/>
<path d="M152 109.3h3.5v3.5h-3.5z" fill="#3c6c60"/>
<path d="M164 109.3h3.5v3.5h-3.5zM164 112.3h3.5v3.5h-3.5zM134 142.3h3.5v3.5h-3.5zM140 214.3h3.5v3.5h-3.5zM137 217.3h3.5v3.5h-3.5z" fill="#546054"/>
<path d="M173 109.3h3.5v3.5h-3.5z" fill="#a87824"/>
<path d="M62 112.3h3.5v3.5h-3.5zM65 112.3h3.5v3.5h-3.5zM65 115.3h3.5v3.5h-3.5zM68 115.3h3.5v3.5h-3.5zM71 115.3h3.5v3.5h-3.5zM77 118.3h3.5v3.5h-3.5zM86 127.3h3.5v3.5h-3.5zM92 136.3h3.5v3.5h-3.5zM188 211.3h3.5v3.5h-3.5zM191 211.3h3.5v3.5h-3.5zM194 211.3h3.5v3.5h-3.5zM197 211.3h3.5v3.5h-3.5zM200 211.3h3.5v3.5h-3.5zM203 211.3h3.5v3.5h-3.5zM206 211.3h3.5v3.5h-3.5zM209 211.3h3.5v3.5h-3.5z" fill="#005490"/>
<path d="M68 112.3h3.5v3.5h-3.5zM74 115.3h3.5v3.5h-3.5zM80 118.3h3.5v3.5h-3.5zM83 121.3h3.5v3.5h-3.5zM89 130.3h3.5v3.5h-3.5zM95 139.3h3.5v3.5h-3.5zM182 214.3h3.5v3.5h-3.5zM185 214.3h3.5v3.5h-3.5z" fill="#006090"/>
<path d="M131 112.3h3.5v3.5h-3.5zM128 115.3h3.5v3.5h-3.5zM173 235.3h3.5v3.5h-3.5z" fill="#0ca818"/>
<path d="M137 112.3h3.5v3.5h-3.5zM131 130.3h3.5v3.5h-3.5zM128 133.3h3.5v3.5h-3.5zM152 223.3h3.5v3.5h-3.5zM158 226.3h3.5v3.5h-3.5zM161 226.3h3.5v3.5h-3.5zM164 226.3h3.5v3.5h-3.5zM167 226.3h3.5v3.5h-3.5z" fill="#249030"/>
<path d="M140 112.3h3.5v3.5h-3.5zM128 136.3h3.5v3.5h-3.5zM131 136.3h3.5v3.5h-3.5z" fill="#30843c"/>
<path d="M143 112.3h3.5v3.5h-3.5zM131 139.3h3.5v3.5h-3.5zM128 142.3h3.5v3.5h-3.5z" fill="#3c7848"/>
<path d="M146 112.3h3.5v3.5h-3.5zM149 112.3h3.5v3.5h-3.5zM152 112.3h3.5v3.5h-3.5zM155 112.3h3.5v3.5h-3.5zM122 145.3h3.5v3.5h-3.5z" fill="#3c6c54"/>
<path d="M158 112.3h3.5v3.5h-3.5zM125 145.3h3.5v3.5h-3.5z" fill="#486c54"/>
<path d="M161 112.3h3.5v3.5h-3.5z" fill="#486054"/>
<path d="M170 112.3h3.5v3.5h-3.5zM161 121.3h3.5v3.5h-3.5z" fill="#906c30"/>
<path d="M233 112.3h3.5v3.5h-3.5zM236 112.3h3.5v3.5h-3.5zM239 112.3h3.5v3.5h-3.5zM242 112.3h3.5v3.5h-3.5zM245 112.3h3.5v3.5h-3.5zM227 115.3h3.5v3.5h-3.5zM176 118.3h3.5v3.5h-3.5zM224 118.3h3.5v3.5h-3.5zM179 121.3h3.5v3.5h-3.5zM182 121.3h3.5v3.5h-3.5zM185 121.3h3.5v3.5h-3.5zM188 121.3h3.5v3.5h-3.5zM191 121.3h3.5v3.5h-3.5zM194 121.3h3.5v3.5h-3.5zM197 121.3h3.5v3.5h-3.5zM200 121.3h3.5v3.5h-3.5zM203 121.3h3.5v3.5h-3.5zM206 121.3h3.5v3.5h-3.5zM212 121.3h3.5v3.5h-3.5zM215 121.3h3.5v3.5h-3.5zM218 121.3h3.5v3.5h-3.5zM179 124.3h3.5v3.5h-3.5zM182 124.3h3.5v3.5h-3.5zM185 124.3h3.5v3.5h-3.5z" fill="#c06c0c"/>
<path d="M62 115.3h3.5v3.5h-3.5zM65 118.3h3.5v3.5h-3.5zM68 118.3h3.5v3.5h-3.5zM71 118.3h3.5v3.5h-3.5zM74 118.3h3.5v3.5h-3.5zM80 121.3h3.5v3.5h-3.5zM83 124.3h3.5v3.5h-3.5zM86 130.3h3.5v3.5h-3.5zM89 133.3h3.5v3.5h-3.5zM92 139.3h3.5v3.5h-3.5zM182 211.3h3.5v3.5h-3.5zM185 211.3h3.5v3.5h-3.5z" fill="#00549c"/>
<path d="M131 115.3h3.5v3.5h-3.5zM167 235.3h3.5v3.5h-3.5zM170 235.3h3.5v3.5h-3.5z" fill="#18a818"/>
<path d="M134 115.3h3.5v3.5h-3.5zM134 118.3h3.5v3.5h-3.5zM134 121.3h3.5v3.5h-3.5zM134 124.3h3.5v3.5h-3.5zM131 127.3h3.5v3.5h-3.5zM134 127.3h3.5v3.5h-3.5zM152 226.3h3.5v3.5h-3.5zM155 226.3h3.5v3.5h-3.5zM161 229.3h3.5v3.5h-3.5zM164 229.3h3.5v3.5h-3.5z" fill="#249c24"/>
<path d="M137 115.3h3.5v3.5h-3.5zM137 118.3h3.5v3.5h-3.5zM137 121.3h3.5v3.5h-3.5zM137 124.3h3.5v3.5h-3.5zM137 127.3h3.5v3.5h-3.5zM140 220.3h3.5v3.5h-3.5zM143 220.3h3.5v3.5h-3.5zM140 223.3h3.5v3.5h-3.5zM137 226.3h3.5v3.5h-3.5z" fill="#309024"/>
<path d="M140 115.3h3.5v3.5h-3.5zM137 130.3h3.5v3.5h-3.5zM134 133.3h3.5v3.5h-3.5z" fill="#3c8430"/>
<path d="M143 115.3h3.5v3.5h-3.5zM134 136.3h3.5v3.5h-3.5zM137 220.3h3.5v3.5h-3.5z" fill="#3c783c"/>
<path d="M146 115.3h3.5v3.5h-3.5zM134 139.3h3.5v3.5h-3.5z" fill="#487848"/>
<path d="M149 115.3h3.5v3.5h-3.5zM152 115.3h3.5v3.5h-3.5zM155 115.3h3.5v3.5h-3.5zM131 142.3h3.5v3.5h-3.5z" fill="#486c48"/>
<path d="M158 115.3h3.5v3.5h-3.5zM161 115.3h3.5v3.5h-3.5zM137 139.3h3.5v3.5h-3.5z" fill="#546c48"/>
<path d="M164 115.3h3.5v3.5h-3.5zM143 136.3h3.5v3.5h-3.5z" fill="#6c6c3c"/>
<path d="M167 115.3h3.5v3.5h-3.5zM164 118.3h3.5v3.5h-3.5zM158 121.3h3.5v3.5h-3.5zM152 124.3h3.5v3.5h-3.5zM149 127.3h3.5v3.5h-3.5z" fill="#846c30"/>
<path d="M170 115.3h3.5v3.5h-3.5z" fill="#a86c24"/>
<path d="M173 115.3h3.5v3.5h-3.5zM170 118.3h3.5v3.5h-3.5zM170 121.3h3.5v3.5h-3.5z" fill="#b46c18"/>
<path d="M230 115.3h3.5v3.5h-3.5zM188 124.3h3.5v3.5h-3.5zM191 124.3h3.5v3.5h-3.5z" fill="#cc6c0c"/>
<path d="M233 115.3h3.5v3.5h-3.5zM236 115.3h3.5v3.5h-3.5zM239 115.3h3.5v3.5h-3.5zM227 118.3h3.5v3.5h-3.5z" fill="#cc600c"/>
<path d="M242 115.3h3.5v3.5h-3.5zM245 115.3h3.5v3.5h-3.5zM230 118.3h3.5v3.5h-3.5z" fill="#cc540c"/>
<path d="M83 118.3h3.5v3.5h-3.5zM86 121.3h3.5v3.5h-3.5zM194 214.3h3.5v3.5h-3.5z" fill="#006c84"/>
<path d="M89 118.3h3.5v3.5h-3.5zM104 136.3h3.5v3.5h-3.5zM179 220.3h3.5v3.5h-3.5zM191 220.3h3.5v3.5h-3.5z" fill="#007860"/>
<path d="M122 118.3h3.5v3.5h-3.5zM182 235.3h3.5v3.5h-3.5z" fill="#0cb424"/>
<path d="M131 118.3h3.5v3.5h-3.5zM128 121.3h3.5v3.5h-3.5zM131 121.3h3.5v3.5h-3.5zM128 124.3h3.5v3.5h-3.5zM170 232.3h3.5v3.5h-3.5z" fill="#18a824"/>
<path d="M140 118.3h3.5v3.5h-3.5z" fill="#3c9030"/>
<path d="M143 118.3h3.5v3.5h-3.5zM140 130.3h3.5v3.5h-3.5zM137 133.3h3.5v3.5h-3.5z" fill="#488430"/>
<path d="M146 118.3h3.5v3.5h-3.5zM149 118.3h3.5v3.5h-3.5zM140 133.3h3.5v3.5h-3.5z" fill="#54783c"/>
<path d="M152 118.3h3.5v3.5h-3.5zM140 136.3h3.5v3.5h-3.5z" fill="#546c3c"/>
<path d="M155 118.3h3.5v3.5h-3.5zM140 139.3h3.5v3.5h-3.5z" fill="#606c48"/>
<path d="M158 118.3h3.5v3.5h-3.5zM143 133.3h3.5v3.5h-3.5z" fill="#606c3c"/>
<path d="M167 118.3h3.5v3.5h-3.5zM164 121.3h3.5v3.5h-3.5z" fill="#9c6c24"/>
<path d="M173 118.3h3.5v3.5h-3.5zM173 121.3h3.5v3.5h-3.5zM176 121.3h3.5v3.5h-3.5zM170 124.3h3.5v3.5h-3.5zM173 124.3h3.5v3.5h-3.5zM176 124.3h3.5v3.5h-3.5z" fill="#c06c18"/>
<path d="M233 118.3h3.5v3.5h-3.5zM236 118.3h3.5v3.5h-3.5z" fill="#d8480c"/>
<path d="M239 118.3h3.5v3.5h-3.5z" fill="#d83c0c"/>
<path d="M242 118.3h3.5v3.5h-3.5zM245 118.3h3.5v3.5h-3.5z" fill="#e43c0c"/>
<path d="M65 121.3h3.5v3.5h-3.5zM68 121.3h3.5v3.5h-3.5zM71 121.3h3.5v3.5h-3.5zM74 121.3h3.5v3.5h-3.5zM77 121.3h3.5v3.5h-3.5zM80 124.3h3.5v3.5h-3.5zM83 130.3h3.5v3.5h-3.5zM83 133.3h3.5v3.5h-3.5zM86 133.3h3.5v3.5h-3.5zM86 136.3h3.5v3.5h-3.5zM89 139.3h3.5v3.5h-3.5zM188 205.3h3.5v3.5h-3.5zM191 205.3h3.5v3.5h-3.5zM194 205.3h3.5v3.5h-3.5zM194 208.3h3.5v3.5h-3.5zM197 208.3h3.5v3.5h-3.5zM200 208.3h3.5v3.5h-3.5zM203 208.3h3.5v3.5h-3.5zM206 208.3h3.5v3.5h-3.5zM209 208.3h3.5v3.5h-3.5z" fill="#0048a8"/>
<path d="M140 121.3h3.5v3.5h-3.5zM140 124.3h3.5v3.5h-3.5z" fill="#3c9024"/>
<path d="M143 121.3h3.5v3.5h-3.5zM143 127.3h3.5v3.5h-3.5z" fill="#548430"/>
<path d="M146 121.3h3.5v3.5h-3.5z" fill="#547830"/>
<path d="M149 121.3h3.5v3.5h-3.5zM146 124.3h3.5v3.5h-3.5zM143 130.3h3.5v3.5h-3.5z" fill="#607830"/>
<path d="M152 121.3h3.5v3.5h-3.5z" fill="#6c6c30"/>
<path d="M167 121.3h3.5v3.5h-3.5z" fill="#b46c24"/>
<path d="M221 121.3h3.5v3.5h-3.5zM194 124.3h3.5v3.5h-3.5zM206 124.3h3.5v3.5h-3.5zM209 124.3h3.5v3.5h-3.5zM179 127.3h3.5v3.5h-3.5zM182 127.3h3.5v3.5h-3.5zM185 127.3h3.5v3.5h-3.5zM188 127.3h3.5v3.5h-3.5z" fill="#cc6c18"/>
<path d="M224 121.3h3.5v3.5h-3.5zM197 124.3h3.5v3.5h-3.5zM200 124.3h3.5v3.5h-3.5zM203 124.3h3.5v3.5h-3.5zM212 124.3h3.5v3.5h-3.5zM215 124.3h3.5v3.5h-3.5zM218 124.3h3.5v3.5h-3.5zM191 127.3h3.5v3.5h-3.5zM194 127.3h3.5v3.5h-3.5zM197 127.3h3.5v3.5h-3.5zM200 127.3h3.5v3.5h-3.5zM203 127.3h3.5v3.5h-3.5zM206 127.3h3.5v3.5h-3.5zM209 127.3h3.5v3.5h-3.5zM179 130.3h3.5v3.5h-3.5zM182 130.3h3.5v3.5h-3.5zM185 130.3h3.5v3.5h-3.5zM188 130.3h3.5v3.5h-3.5zM191 130.3h3.5v3.5h-3.5z" fill="#cc6018"/>
<path d="M227 121.3h3.5v3.5h-3.5z" fill="#cc5418"/>
<path d="M230 121.3h3.5v3.5h-3.5z" fill="#d84818"/>
<path d="M233 121.3h3.5v3.5h-3.5zM236 121.3h3.5v3.5h-3.5z" fill="#e43018"/>
<path d="M239 121.3h3.5v3.5h-3.5zM242 121.3h3.5v3.5h-3.5zM245 121.3h3.5v3.5h-3.5z" fill="#f02418"/>
<path d="M65 124.3h3.5v3.5h-3.5zM68 124.3h3.5v3.5h-3.5zM71 124.3h3.5v3.5h-3.5zM74 124.3h3.5v3.5h-3.5zM68 127.3h3.5v3.5h-3.5zM71 127.3h3.5v3.5h-3.5zM74 127.3h3.5v3.5h-3.5zM77 127.3h3.5v3.5h-3.5zM74 130.3h3.5v3.5h-3.5zM77 130.3h3.5v3.5h-3.5zM80 130.3h3.5v3.5h-3.5zM74 133.3h3.5v3.5h-3.5zM77 133.3h3.5v3.5h-3.5zM80 133.3h3.5v3.5h-3.5zM71 136.3h3.5v3.5h-3.5zM74 136.3h3.5v3.5h-3.5zM77 136.3h3.5v3.5h-3.5zM80 136.3h3.5v3.5h-3.5zM83 136.3h3.5v3.5h-3.5zM71 139.3h3.5v3.5h-3.5zM74 139.3h3.5v3.5h-3.5zM77 139.3h3.5v3.5h-3.5zM80 139.3h3.5v3.5h-3.5zM83 139.3h3.5v3.5h-3.5zM71 142.3h3.5v3.5h-3.5zM74 142.3h3.5v3.5h-3.5zM77 142.3h3.5v3.5h-3.5zM80 142.3h3.5v3.5h-3.5zM206 187.3h3.5v3.5h-3.5zM209 187.3h3.5v3.5h-3.5zM212 187.3h3.5v3.5h-3.5zM200 190.3h3.5v3.5h-3.5zM203 190.3h3.5v3.5h-3.5zM206 190.3h3.5v3.5h-3.5zM209 190.3h3.5v3.5h-3.5zM212 190.3h3.5v3.5h-3.5zM215 190.3h3.5v3.5h-3.5zM197 193.3h3.5v3.5h-3.5zM200 193.3h3.5v3.5h-3.5zM203 193.3h3.5v3.5h-3.5zM206 193.3h3.5v3.5h-3.5zM209 193.3h3.5v3.5h-3.5zM212 193.3h3.5v3.5h-3.5zM197 196.3h3.5v3.5h-3.5zM200 196.3h3.5v3.5h-3.5zM203 196.3h3.5v3.5h-3.5zM206 196.3h3.5v3.5h-3.5zM209 196.3h3.5v3.5h-3.5zM212 196.3h3.5v3.5h-3.5zM194 199.3h3.5v3.5h-3.5zM197 199.3h3.5v3.5h-3.5zM200 199.3h3.5v3.5h-3.5zM203 199.3h3.5v3.5h-3.5zM206 199.3h3.5v3.5h-3.5zM209 199.3h3.5v3.5h-3.5zM212 199.3h3.5v3.5h-3.5zM188 202.3h3.5v3.5h-3.5zM191 202.3h3.5v3.5h-3.5zM194 202.3h3.5v3.5h-3.5zM197 202.3h3.5v3.5h-3.5zM200 202.3h3.5v3.5h-3.5zM203 202.3h3.5v3.5h-3.5zM206 202.3h3.5v3.5h-3.5zM209 202.3h3.5v3.5h-3.5zM200 205.3h3.5v3.5h-3.5zM203 205.3h3.5v3.5h-3.5zM206 205.3h3.5v3.5h-3.5zM209 205.3h3.5v3.5h-3.5z" fill="#003cb4"/>
<path d="M77 124.3h3.5v3.5h-3.5zM80 127.3h3.5v3.5h-3.5zM86 139.3h3.5v3.5h-3.5zM197 205.3h3.5v3.5h-3.5z" fill="#003ca8"/>
<path d="M143 124.3h3.5v3.5h-3.5z" fill="#548424"/>
<path d="M149 124.3h3.5v3.5h-3.5zM146 130.3h3.5v3.5h-3.5zM146 133.3h3.5v3.5h-3.5z" fill="#786c30"/>
<path d="M155 124.3h3.5v3.5h-3.5zM158 124.3h3.5v3.5h-3.5zM152 127.3h3.5v3.5h-3.5zM149 130.3h3.5v3.5h-3.5zM149 133.3h3.5v3.5h-3.5z" fill="#906030"/>
<path d="M161 124.3h3.5v3.5h-3.5z" fill="#9c6024"/>
<path d="M164 124.3h3.5v3.5h-3.5zM161 127.3h3.5v3.5h-3.5z" fill="#a86024"/>
<path d="M167 124.3h3.5v3.5h-3.5zM164 127.3h3.5v3.5h-3.5zM167 127.3h3.5v3.5h-3.5zM164 130.3h3.5v3.5h-3.5zM167 130.3h3.5v3.5h-3.5z" fill="#b46024"/>
<path d="M221 124.3h3.5v3.5h-3.5zM212 127.3h3.5v3.5h-3.5zM176 130.3h3.5v3.5h-3.5zM194 130.3h3.5v3.5h-3.5zM185 133.3h3.5v3.5h-3.5zM188 133.3h3.5v3.5h-3.5z" fill="#cc6024"/>
<path d="M224 124.3h3.5v3.5h-3.5zM209 130.3h3.5v3.5h-3.5zM194 133.3h3.5v3.5h-3.5z" fill="#d85424"/>
<path d="M227 124.3h3.5v3.5h-3.5z" fill="#d83c30"/>
<path d="M230 124.3h3.5v3.5h-3.5z" fill="#e43030"/>
<path d="M233 124.3h3.5v3.5h-3.5z" fill="#f02430"/>
<path d="M236 124.3h3.5v3.5h-3.5zM239 124.3h3.5v3.5h-3.5z" fill="#f01830"/>
<path d="M242 124.3h3.5v3.5h-3.5z" fill="#fc0c24"/>
<path d="M83 127.3h3.5v3.5h-3.5zM89 136.3h3.5v3.5h-3.5zM185 208.3h3.5v3.5h-3.5zM188 208.3h3.5v3.5h-3.5zM191 208.3h3.5v3.5h-3.5z" fill="#00489c"/>
<path d="M119 127.3h3.5v3.5h-3.5zM122 127.3h3.5v3.5h-3.5z" fill="#0ca830"/>
<path d="M140 127.3h3.5v3.5h-3.5z" fill="#488424"/>
<path d="M146 127.3h3.5v3.5h-3.5z" fill="#6c7830"/>
<path d="M155 127.3h3.5v3.5h-3.5zM152 130.3h3.5v3.5h-3.5z" fill="#9c6030"/>
<path d="M158 127.3h3.5v3.5h-3.5zM155 130.3h3.5v3.5h-3.5zM158 130.3h3.5v3.5h-3.5z" fill="#a86030"/>
<path d="M170 127.3h3.5v3.5h-3.5zM173 127.3h3.5v3.5h-3.5zM176 127.3h3.5v3.5h-3.5z" fill="#c06018"/>
<path d="M215 127.3h3.5v3.5h-3.5zM197 130.3h3.5v3.5h-3.5zM200 130.3h3.5v3.5h-3.5zM203 130.3h3.5v3.5h-3.5zM206 130.3h3.5v3.5h-3.5zM179 133.3h3.5v3.5h-3.5zM182 133.3h3.5v3.5h-3.5zM191 133.3h3.5v3.5h-3.5zM185 136.3h3.5v3.5h-3.5zM188 136.3h3.5v3.5h-3.5z" fill="#cc5424"/>
<path d="M218 127.3h3.5v3.5h-3.5zM212 130.3h3.5v3.5h-3.5zM197 133.3h3.5v3.5h-3.5zM200 133.3h3.5v3.5h-3.5zM203 133.3h3.5v3.5h-3.5zM206 133.3h3.5v3.5h-3.5z" fill="#d85430"/>
<path d="M221 127.3h3.5v3.5h-3.5zM215 130.3h3.5v3.5h-3.5zM209 133.3h3.5v3.5h-3.5zM191 136.3h3.5v3.5h-3.5zM194 136.3h3.5v3.5h-3.5zM203 136.3h3.5v3.5h-3.5z" fill="#d84830"/>
<path d="M224 127.3h3.5v3.5h-3.5z" fill="#e43c3c"/>
<path d="M227 127.3h3.5v3.5h-3.5z" fill="#e43048"/>
<path d="M230 127.3h3.5v3.5h-3.5zM233 127.3h3.5v3.5h-3.5z" fill="#f01848"/>
<path d="M236 127.3h3.5v3.5h-3.5z" fill="#fc0c48"/>
<path d="M239 127.3h3.5v3.5h-3.5zM242 127.3h3.5v3.5h-3.5z" fill="#ff0c3c"/>
<path d="M68 130.3h3.5v3.5h-3.5zM71 130.3h3.5v3.5h-3.5zM71 133.3h3.5v3.5h-3.5zM197 190.3h3.5v3.5h-3.5zM194 196.3h3.5v3.5h-3.5z" fill="#003cc0"/>
<path d="M134 130.3h3.5v3.5h-3.5zM131 133.3h3.5v3.5h-3.5z" fill="#309030"/>
<path d="M161 130.3h3.5v3.5h-3.5z" fill="#b46030"/>
<path d="M170 130.3h3.5v3.5h-3.5zM173 130.3h3.5v3.5h-3.5z" fill="#c06024"/>
<path d="M218 130.3h3.5v3.5h-3.5zM212 133.3h3.5v3.5h-3.5zM197 136.3h3.5v3.5h-3.5zM200 136.3h3.5v3.5h-3.5zM206 136.3h3.5v3.5h-3.5zM209 136.3h3.5v3.5h-3.5zM182 139.3h3.5v3.5h-3.5zM185 139.3h3.5v3.5h-3.5zM188 139.3h3.5v3.5h-3.5zM191 139.3h3.5v3.5h-3.5zM98 205.3h3.5v3.5h-3.5zM95 208.3h3.5v3.5h-3.5z" fill="#d8483c"/>
<path d="M221 130.3h3.5v3.5h-3.5zM218 133.3h3.5v3.5h-3.5zM209 139.3h3.5v3.5h-3.5z" fill="#e43c54"/>
<path d="M224 130.3h3.5v3.5h-3.5zM212 139.3h3.5v3.5h-3.5zM191 145.3h3.5v3.5h-3.5zM95 202.3h3.5v3.5h-3.5z" fill="#e43060"/>
<path d="M227 130.3h3.5v3.5h-3.5zM230 130.3h3.5v3.5h-3.5z" fill="#f01860"/>
<path d="M233 130.3h3.5v3.5h-3.5z" fill="#fc0c60"/>
<path d="M236 130.3h3.5v3.5h-3.5z" fill="#ff0c60"/>
<path d="M239 130.3h3.5v3.5h-3.5z" fill="#ff0054"/>
<path d="M68 133.3h3.5v3.5h-3.5zM194 193.3h3.5v3.5h-3.5zM191 196.3h3.5v3.5h-3.5zM191 199.3h3.5v3.5h-3.5z" fill="#0030c0"/>
<path d="M113 133.3h3.5v3.5h-3.5zM113 136.3h3.5v3.5h-3.5zM116 136.3h3.5v3.5h-3.5zM176 226.3h3.5v3.5h-3.5z" fill="#0c9048"/>
<path d="M116 133.3h3.5v3.5h-3.5zM173 226.3h3.5v3.5h-3.5z" fill="#0c903c"/>
<path d="M119 133.3h3.5v3.5h-3.5zM176 229.3h3.5v3.5h-3.5z" fill="#0c9c3c"/>
<path d="M122 133.3h3.5v3.5h-3.5zM119 136.3h3.5v3.5h-3.5zM122 136.3h3.5v3.5h-3.5zM170 226.3h3.5v3.5h-3.5z" fill="#18903c"/>
<path d="M125 133.3h3.5v3.5h-3.5z" fill="#189030"/>
<path d="M152 133.3h3.5v3.5h-3.5z" fill="#9c5430"/>
<path d="M155 133.3h3.5v3.5h-3.5z" fill="#a85430"/>
<path d="M158 133.3h3.5v3.5h-3.5zM161 133.3h3.5v3.5h-3.5zM164 133.3h3.5v3.5h-3.5zM164 136.3h3.5v3.5h-3.5z" fill="#b45430"/>
<path d="M167 133.3h3.5v3.5h-3.5zM170 133.3h3.5v3.5h-3.5zM173 133.3h3.5v3.5h-3.5z" fill="#c05430"/>
<path d="M176 133.3h3.5v3.5h-3.5zM182 136.3h3.5v3.5h-3.5zM98 208.3h3.5v3.5h-3.5zM101 208.3h3.5v3.5h-3.5zM95 211.3h3.5v3.5h-3.5zM98 211.3h3.5v3.5h-3.5zM101 211.3h3.5v3.5h-3.5z" fill="#cc5430"/>
<path d="M215 133.3h3.5v3.5h-3.5zM179 139.3h3.5v3.5h-3.5zM182 142.3h3.5v3.5h-3.5zM185 142.3h3.5v3.5h-3.5zM188 142.3h3.5v3.5h-3.5zM98 202.3h3.5v3.5h-3.5z" fill="#d83c48"/>
<path d="M221 133.3h3.5v3.5h-3.5z" fill="#e4306c"/>
<path d="M224 133.3h3.5v3.5h-3.5zM221 136.3h3.5v3.5h-3.5zM212 142.3h3.5v3.5h-3.5z" fill="#f02478"/>
<path d="M227 133.3h3.5v3.5h-3.5zM218 139.3h3.5v3.5h-3.5zM215 142.3h3.5v3.5h-3.5zM212 145.3h3.5v3.5h-3.5zM206 148.3h3.5v3.5h-3.5zM200 151.3h3.5v3.5h-3.5zM203 151.3h3.5v3.5h-3.5z" fill="#f01884"/>
<path d="M230 133.3h3.5v3.5h-3.5z" fill="#fc0c84"/>
<path d="M233 133.3h3.5v3.5h-3.5z" fill="#ff0c78"/>
<path d="M236 133.3h3.5v3.5h-3.5zM239 133.3h3.5v3.5h-3.5z" fill="#ff0078"/>
<path d="M107 136.3h3.5v3.5h-3.5z" fill="#0c8460"/>
<path d="M110 136.3h3.5v3.5h-3.5zM110 139.3h3.5v3.5h-3.5zM113 139.3h3.5v3.5h-3.5zM176 223.3h3.5v3.5h-3.5z" fill="#0c8454"/>
<path d="M137 136.3h3.5v3.5h-3.5zM134 223.3h3.5v3.5h-3.5z" fill="#48783c"/>
<path d="M146 136.3h3.5v3.5h-3.5z" fill="#84603c"/>
<path d="M149 136.3h3.5v3.5h-3.5z" fill="#9c543c"/>
<path d="M152 136.3h3.5v3.5h-3.5z" fill="#a8543c"/>
<path d="M155 136.3h3.5v3.5h-3.5zM158 136.3h3.5v3.5h-3.5zM161 136.3h3.5v3.5h-3.5z" fill="#b4543c"/>
<path d="M167 136.3h3.5v3.5h-3.5z" fill="#c0543c"/>
<path d="M170 136.3h3.5v3.5h-3.5zM164 139.3h3.5v3.5h-3.5z" fill="#c0483c"/>
<path d="M173 136.3h3.5v3.5h-3.5zM176 136.3h3.5v3.5h-3.5zM101 205.3h3.5v3.5h-3.5zM104 208.3h3.5v3.5h-3.5zM104 211.3h3.5v3.5h-3.5z" fill="#cc483c"/>
<path d="M179 136.3h3.5v3.5h-3.5z" fill="#cc4830"/>
<path d="M212 136.3h3.5v3.5h-3.5zM194 139.3h3.5v3.5h-3.5zM197 139.3h3.5v3.5h-3.5zM200 139.3h3.5v3.5h-3.5zM203 139.3h3.5v3.5h-3.5zM206 139.3h3.5v3.5h-3.5zM191 142.3h3.5v3.5h-3.5z" fill="#e43c48"/>
<path d="M215 136.3h3.5v3.5h-3.5zM194 142.3h3.5v3.5h-3.5zM197 142.3h3.5v3.5h-3.5zM200 142.3h3.5v3.5h-3.5zM203 142.3h3.5v3.5h-3.5zM206 142.3h3.5v3.5h-3.5z" fill="#e43054"/>
<path d="M218 136.3h3.5v3.5h-3.5zM191 148.3h3.5v3.5h-3.5zM194 148.3h3.5v3.5h-3.5z" fill="#e4246c"/>
<path d="M224 136.3h3.5v3.5h-3.5zM221 139.3h3.5v3.5h-3.5zM218 142.3h3.5v3.5h-3.5z" fill="#f01890"/>
<path d="M227 136.3h3.5v3.5h-3.5zM224 139.3h3.5v3.5h-3.5zM221 142.3h3.5v3.5h-3.5zM218 145.3h3.5v3.5h-3.5zM212 148.3h3.5v3.5h-3.5zM215 148.3h3.5v3.5h-3.5zM209 151.3h3.5v3.5h-3.5z" fill="#fc0c9c"/>
<path d="M230 136.3h3.5v3.5h-3.5z" fill="#ff0c9c"/>
<path d="M233 136.3h3.5v3.5h-3.5z" fill="#ff009c"/>
<path d="M236 136.3h3.5v3.5h-3.5z" fill="#ff0090"/>
<path d="M101 139.3h3.5v3.5h-3.5z" fill="#0c6c78"/>
<path d="M104 139.3h3.5v3.5h-3.5zM107 142.3h3.5v3.5h-3.5z" fill="#0c786c"/>
<path d="M107 139.3h3.5v3.5h-3.5zM176 220.3h3.5v3.5h-3.5z" fill="#0c7860"/>
<path d="M122 139.3h3.5v3.5h-3.5zM164 223.3h3.5v3.5h-3.5zM167 223.3h3.5v3.5h-3.5z" fill="#248448"/>
<path d="M125 139.3h3.5v3.5h-3.5zM128 139.3h3.5v3.5h-3.5z" fill="#308448"/>
<path d="M143 139.3h3.5v3.5h-3.5z" fill="#6c6048"/>
<path d="M146 139.3h3.5v3.5h-3.5z" fill="#845448"/>
<path d="M149 139.3h3.5v3.5h-3.5z" fill="#9c4848"/>
<path d="M152 139.3h3.5v3.5h-3.5z" fill="#a84848"/>
<path d="M155 139.3h3.5v3.5h-3.5z" fill="#b44848"/>
<path d="M158 139.3h3.5v3.5h-3.5zM161 139.3h3.5v3.5h-3.5z" fill="#b4483c"/>
<path d="M167 139.3h3.5v3.5h-3.5z" fill="#c04848"/>
<path d="M170 139.3h3.5v3.5h-3.5zM176 139.3h3.5v3.5h-3.5zM101 202.3h3.5v3.5h-3.5zM104 205.3h3.5v3.5h-3.5zM107 211.3h3.5v3.5h-3.5z" fill="#cc3c48"/>
<path d="M173 139.3h3.5v3.5h-3.5zM107 208.3h3.5v3.5h-3.5z" fill="#cc3c54"/>
<path d="M215 139.3h3.5v3.5h-3.5zM206 145.3h3.5v3.5h-3.5zM197 148.3h3.5v3.5h-3.5zM200 148.3h3.5v3.5h-3.5z" fill="#f0246c"/>
<path d="M227 139.3h3.5v3.5h-3.5zM221 145.3h3.5v3.5h-3.5zM218 148.3h3.5v3.5h-3.5zM212 151.3h3.5v3.5h-3.5z" fill="#ff0ca8"/>
<path d="M230 139.3h3.5v3.5h-3.5zM233 139.3h3.5v3.5h-3.5zM236 139.3h3.5v3.5h-3.5zM224 145.3h3.5v3.5h-3.5zM221 148.3h3.5v3.5h-3.5zM218 151.3h3.5v3.5h-3.5zM212 154.3h3.5v3.5h-3.5zM215 154.3h3.5v3.5h-3.5z" fill="#ff00b4"/>
<path d="M83 142.3h3.5v3.5h-3.5zM80 145.3h3.5v3.5h-3.5zM200 187.3h3.5v3.5h-3.5zM203 187.3h3.5v3.5h-3.5zM215 187.3h3.5v3.5h-3.5zM182 205.3h3.5v3.5h-3.5z" fill="#0c3cb4"/>
<path d="M86 142.3h3.5v3.5h-3.5zM185 205.3h3.5v3.5h-3.5zM179 208.3h3.5v3.5h-3.5z" fill="#0c3ca8"/>
<path d="M89 142.3h3.5v3.5h-3.5zM182 208.3h3.5v3.5h-3.5z" fill="#0c48a8"/>
<path d="M92 142.3h3.5v3.5h-3.5zM176 211.3h3.5v3.5h-3.5zM179 211.3h3.5v3.5h-3.5z" fill="#0c489c"/>
<path d="M95 142.3h3.5v3.5h-3.5z" fill="#0c5490"/>
<path d="M98 142.3h3.5v3.5h-3.5zM179 214.3h3.5v3.5h-3.5z" fill="#0c6084"/>
<path d="M101 142.3h3.5v3.5h-3.5z" fill="#0c6078"/>
<path d="M104 142.3h3.5v3.5h-3.5zM176 217.3h3.5v3.5h-3.5z" fill="#0c6c6c"/>
<path d="M110 142.3h3.5v3.5h-3.5zM173 220.3h3.5v3.5h-3.5z" fill="#187860"/>
<path d="M113 142.3h3.5v3.5h-3.5z" fill="#187854"/>
<path d="M116 142.3h3.5v3.5h-3.5zM119 142.3h3.5v3.5h-3.5zM167 220.3h3.5v3.5h-3.5zM170 220.3h3.5v3.5h-3.5z" fill="#247854"/>
<path d="M140 142.3h3.5v3.5h-3.5z" fill="#6c5454"/>
<path d="M143 142.3h3.5v3.5h-3.5z" fill="#785454"/>
<path d="M146 142.3h3.5v3.5h-3.5z" fill="#904860"/>
<path d="M149 142.3h3.5v3.5h-3.5z" fill="#a83c60"/>
<path d="M152 142.3h3.5v3.5h-3.5zM155 142.3h3.5v3.5h-3.5z" fill="#b43c54"/>
<path d="M158 142.3h3.5v3.5h-3.5zM161 142.3h3.5v3.5h-3.5zM164 142.3h3.5v3.5h-3.5z" fill="#c03c48"/>
<path d="M167 142.3h3.5v3.5h-3.5z" fill="#c03c54"/>
<path d="M170 142.3h3.5v3.5h-3.5zM167 145.3h3.5v3.5h-3.5z" fill="#cc3060"/>
<path d="M173 142.3h3.5v3.5h-3.5zM179 145.3h3.5v3.5h-3.5z" fill="#d83060"/>
<path d="M176 142.3h3.5v3.5h-3.5zM179 142.3h3.5v3.5h-3.5zM182 145.3h3.5v3.5h-3.5zM185 145.3h3.5v3.5h-3.5zM188 145.3h3.5v3.5h-3.5z" fill="#d83054"/>
<path d="M209 142.3h3.5v3.5h-3.5zM194 145.3h3.5v3.5h-3.5zM197 145.3h3.5v3.5h-3.5zM200 145.3h3.5v3.5h-3.5z" fill="#e42460"/>
<path d="M224 142.3h3.5v3.5h-3.5zM206 154.3h3.5v3.5h-3.5z" fill="#fc0ca8"/>
<path d="M227 142.3h3.5v3.5h-3.5zM230 142.3h3.5v3.5h-3.5zM227 145.3h3.5v3.5h-3.5zM224 148.3h3.5v3.5h-3.5zM221 151.3h3.5v3.5h-3.5zM218 154.3h3.5v3.5h-3.5z" fill="#ff00c0"/>
<path d="M233 142.3h3.5v3.5h-3.5zM236 142.3h3.5v3.5h-3.5zM230 145.3h3.5v3.5h-3.5zM227 148.3h3.5v3.5h-3.5zM224 151.3h3.5v3.5h-3.5zM221 154.3h3.5v3.5h-3.5zM77 178.3h3.5v3.5h-3.5zM80 178.3h3.5v3.5h-3.5zM83 181.3h3.5v3.5h-3.5zM86 184.3h3.5v3.5h-3.5zM86 190.3h3.5v3.5h-3.5zM83 193.3h3.5v3.5h-3.5z" fill="#ff00cc"/>
<path d="M74 145.3h3.5v3.5h-3.5zM77 145.3h3.5v3.5h-3.5zM83 145.3h3.5v3.5h-3.5zM86 145.3h3.5v3.5h-3.5z" fill="#183cb4"/>
<path d="M89 145.3h3.5v3.5h-3.5zM92 145.3h3.5v3.5h-3.5zM176 208.3h3.5v3.5h-3.5z" fill="#183ca8"/>
<path d="M95 145.3h3.5v3.5h-3.5zM173 211.3h3.5v3.5h-3.5z" fill="#18489c"/>
<path d="M98 145.3h3.5v3.5h-3.5z" fill="#185490"/>
<path d="M101 145.3h3.5v3.5h-3.5z" fill="#186084"/>
<path d="M104 145.3h3.5v3.5h-3.5z" fill="#186078"/>
<path d="M107 145.3h3.5v3.5h-3.5zM173 217.3h3.5v3.5h-3.5z" fill="#186c6c"/>
<path d="M131 145.3h3.5v3.5h-3.5z" fill="#606060"/>
<path d="M134 145.3h3.5v3.5h-3.5z" fill="#6c5460"/>
<path d="M137 145.3h3.5v3.5h-3.5z" fill="#784860"/>
<path d="M140 145.3h3.5v3.5h-3.5z" fill="#844860"/>
<path d="M143 145.3h3.5v3.5h-3.5z" fill="#903c6c"/>
<path d="M146 145.3h3.5v3.5h-3.5z" fill="#a8306c"/>
<path d="M149 145.3h3.5v3.5h-3.5z" fill="#b4246c"/>
<path d="M152 145.3h3.5v3.5h-3.5zM155 145.3h3.5v3.5h-3.5zM113 205.3h3.5v3.5h-3.5zM113 208.3h3.5v3.5h-3.5zM113 211.3h3.5v3.5h-3.5zM113 214.3h3.5v3.5h-3.5z" fill="#c0246c"/>
<path d="M158 145.3h3.5v3.5h-3.5zM161 145.3h3.5v3.5h-3.5zM164 145.3h3.5v3.5h-3.5zM110 208.3h3.5v3.5h-3.5zM110 211.3h3.5v3.5h-3.5z" fill="#c03060"/>
<path d="M170 145.3h3.5v3.5h-3.5zM110 202.3h3.5v3.5h-3.5z" fill="#cc246c"/>
<path d="M173 145.3h3.5v3.5h-3.5zM176 148.3h3.5v3.5h-3.5zM179 148.3h3.5v3.5h-3.5zM182 148.3h3.5v3.5h-3.5zM185 148.3h3.5v3.5h-3.5zM188 148.3h3.5v3.5h-3.5z" fill="#d8246c"/>
<path d="M176 145.3h3.5v3.5h-3.5zM98 199.3h3.5v3.5h-3.5z" fill="#d82460"/>
<path d="M203 145.3h3.5v3.5h-3.5z" fill="#f02460"/>
<path d="M209 145.3h3.5v3.5h-3.5zM203 148.3h3.5v3.5h-3.5zM197 151.3h3.5v3.5h-3.5z" fill="#f01878"/>
<path d="M215 145.3h3.5v3.5h-3.5zM206 151.3h3.5v3.5h-3.5z" fill="#fc0c90"/>
<path d="M233 145.3h3.5v3.5h-3.5zM230 148.3h3.5v3.5h-3.5zM233 148.3h3.5v3.5h-3.5zM227 151.3h3.5v3.5h-3.5zM230 151.3h3.5v3.5h-3.5zM224 154.3h3.5v3.5h-3.5zM227 154.3h3.5v3.5h-3.5zM77 181.3h3.5v3.5h-3.5zM80 181.3h3.5v3.5h-3.5zM80 184.3h3.5v3.5h-3.5zM83 184.3h3.5v3.5h-3.5zM80 187.3h3.5v3.5h-3.5zM83 187.3h3.5v3.5h-3.5zM86 187.3h3.5v3.5h-3.5zM77 190.3h3.5v3.5h-3.5zM80 190.3h3.5v3.5h-3.5zM83 190.3h3.5v3.5h-3.5zM77 193.3h3.5v3.5h-3.5zM80 193.3h3.5v3.5h-3.5z" fill="#ff00d8"/>
<path d="M74 148.3h3.5v3.5h-3.5zM77 148.3h3.5v3.5h-3.5zM89 151.3h3.5v3.5h-3.5z" fill="#3c30b4"/>
<path d="M80 148.3h3.5v3.5h-3.5zM83 148.3h3.5v3.5h-3.5z" fill="#3030b4"/>
<path d="M86 148.3h3.5v3.5h-3.5zM203 184.3h3.5v3.5h-3.5zM212 184.3h3.5v3.5h-3.5zM170 205.3h3.5v3.5h-3.5z" fill="#2430b4"/>
<path d="M89 148.3h3.5v3.5h-3.5zM92 148.3h3.5v3.5h-3.5zM95 148.3h3.5v3.5h-3.5z" fill="#243ca8"/>
<path d="M98 148.3h3.5v3.5h-3.5z" fill="#24489c"/>
<path d="M101 148.3h3.5v3.5h-3.5zM170 211.3h3.5v3.5h-3.5z" fill="#244890"/>
<path d="M104 148.3h3.5v3.5h-3.5z" fill="#245484"/>
<path d="M107 148.3h3.5v3.5h-3.5z" fill="#246078"/>
<path d="M110 148.3h3.5v3.5h-3.5z" fill="#306078"/>
<path d="M113 148.3h3.5v3.5h-3.5zM161 217.3h3.5v3.5h-3.5z" fill="#30606c"/>
<path d="M116 148.3h3.5v3.5h-3.5zM155 217.3h3.5v3.5h-3.5zM158 217.3h3.5v3.5h-3.5z" fill="#3c606c"/>
<path d="M128 148.3h3.5v3.5h-3.5zM125 151.3h3.5v3.5h-3.5z" fill="#60546c"/>
<path d="M131 148.3h3.5v3.5h-3.5zM128 151.3h3.5v3.5h-3.5zM134 217.3h3.5v3.5h-3.5z" fill="#6c486c"/>
<path d="M134 148.3h3.5v3.5h-3.5z" fill="#843c6c"/>
<path d="M137 148.3h3.5v3.5h-3.5z" fill="#903c78"/>
<path d="M140 148.3h3.5v3.5h-3.5z" fill="#9c3078"/>
<path d="M143 148.3h3.5v3.5h-3.5z" fill="#a82478"/>
<path d="M146 148.3h3.5v3.5h-3.5z" fill="#b42484"/>
<path d="M149 148.3h3.5v3.5h-3.5zM152 148.3h3.5v3.5h-3.5zM149 151.3h3.5v3.5h-3.5z" fill="#c01884"/>
<path d="M155 148.3h3.5v3.5h-3.5zM158 148.3h3.5v3.5h-3.5zM161 148.3h3.5v3.5h-3.5zM164 148.3h3.5v3.5h-3.5zM116 199.3h3.5v3.5h-3.5zM113 202.3h3.5v3.5h-3.5zM116 202.3h3.5v3.5h-3.5zM116 205.3h3.5v3.5h-3.5z" fill="#c01878"/>
<path d="M167 148.3h3.5v3.5h-3.5zM170 148.3h3.5v3.5h-3.5zM113 199.3h3.5v3.5h-3.5z" fill="#cc1878"/>
<path d="M173 148.3h3.5v3.5h-3.5zM176 151.3h3.5v3.5h-3.5z" fill="#d81878"/>
<path d="M209 148.3h3.5v3.5h-3.5zM200 154.3h3.5v3.5h-3.5z" fill="#f00c90"/>
<path d="M74 151.3h3.5v3.5h-3.5z" fill="#7818b4"/>
<path d="M77 151.3h3.5v3.5h-3.5z" fill="#6c24b4"/>
<path d="M80 151.3h3.5v3.5h-3.5zM86 154.3h3.5v3.5h-3.5z" fill="#6024b4"/>
<path d="M83 151.3h3.5v3.5h-3.5zM89 154.3h3.5v3.5h-3.5zM158 196.3h3.5v3.5h-3.5z" fill="#5424b4"/>
<path d="M86 151.3h3.5v3.5h-3.5z" fill="#4830b4"/>
<path d="M92 151.3h3.5v3.5h-3.5zM95 151.3h3.5v3.5h-3.5zM164 202.3h3.5v3.5h-3.5z" fill="#3c30a8"/>
<path d="M98 151.3h3.5v3.5h-3.5z" fill="#3c3c9c"/>
<path d="M101 151.3h3.5v3.5h-3.5z" fill="#3c4890"/>
<path d="M104 151.3h3.5v3.5h-3.5zM167 211.3h3.5v3.5h-3.5z" fill="#304884"/>
<path d="M107 151.3h3.5v3.5h-3.5z" fill="#305484"/>
<path d="M110 151.3h3.5v3.5h-3.5zM113 151.3h3.5v3.5h-3.5zM161 214.3h3.5v3.5h-3.5zM164 214.3h3.5v3.5h-3.5z" fill="#3c5478"/>
<path d="M116 151.3h3.5v3.5h-3.5z" fill="#485478"/>
<path d="M119 151.3h3.5v3.5h-3.5zM122 151.3h3.5v3.5h-3.5z" fill="#54546c"/>
<path d="M131 151.3h3.5v3.5h-3.5z" fill="#843c78"/>
<path d="M134 151.3h3.5v3.5h-3.5z" fill="#903078"/>
<path d="M137 151.3h3.5v3.5h-3.5zM134 154.3h3.5v3.5h-3.5zM128 160.3h3.5v3.5h-3.5zM131 160.3h3.5v3.5h-3.5zM122 208.3h3.5v3.5h-3.5zM122 211.3h3.5v3.5h-3.5zM119 214.3h3.5v3.5h-3.5zM119 217.3h3.5v3.5h-3.5z" fill="#9c2484"/>
<path d="M140 151.3h3.5v3.5h-3.5zM137 154.3h3.5v3.5h-3.5zM134 157.3h3.5v3.5h-3.5zM119 211.3h3.5v3.5h-3.5z" fill="#a82484"/>
<path d="M143 151.3h3.5v3.5h-3.5zM146 151.3h3.5v3.5h-3.5zM119 199.3h3.5v3.5h-3.5zM119 202.3h3.5v3.5h-3.5zM119 205.3h3.5v3.5h-3.5z" fill="#b41884"/>
<path d="M152 151.3h3.5v3.5h-3.5zM155 151.3h3.5v3.5h-3.5zM113 181.3h3.5v3.5h-3.5zM113 184.3h3.5v3.5h-3.5zM113 187.3h3.5v3.5h-3.5zM116 187.3h3.5v3.5h-3.5zM116 190.3h3.5v3.5h-3.5zM116 193.3h3.5v3.5h-3.5zM119 193.3h3.5v3.5h-3.5zM116 196.3h3.5v3.5h-3.5zM119 196.3h3.5v3.5h-3.5z" fill="#c00c84"/>
<path d="M158 151.3h3.5v3.5h-3.5zM161 151.3h3.5v3.5h-3.5zM164 151.3h3.5v3.5h-3.5zM167 151.3h3.5v3.5h-3.5zM149 154.3h3.5v3.5h-3.5zM152 154.3h3.5v3.5h-3.5zM155 154.3h3.5v3.5h-3.5zM146 157.3h3.5v3.5h-3.5zM149 157.3h3.5v3.5h-3.5zM152 157.3h3.5v3.5h-3.5zM149 160.3h3.5v3.5h-3.5zM110 175.3h3.5v3.5h-3.5zM113 175.3h3.5v3.5h-3.5zM113 178.3h3.5v3.5h-3.5zM116 178.3h3.5v3.5h-3.5zM119 178.3h3.5v3.5h-3.5zM122 178.3h3.5v3.5h-3.5zM125 178.3h3.5v3.5h-3.5zM116 181.3h3.5v3.5h-3.5zM119 181.3h3.5v3.5h-3.5zM122 181.3h3.5v3.5h-3.5zM116 184.3h3.5v3.5h-3.5zM119 184.3h3.5v3.5h-3.5zM122 184.3h3.5v3.5h-3.5zM119 187.3h3.5v3.5h-3.5zM122 187.3h3.5v3.5h-3.5zM119 190.3h3.5v3.5h-3.5z" fill="#c00c90"/>
<path d="M170 151.3h3.5v3.5h-3.5zM110 181.3h3.5v3.5h-3.5zM110 184.3h3.5v3.5h-3.5zM113 190.3h3.5v3.5h-3.5z" fill="#cc0c84"/>
<path d="M173 151.3h3.5v3.5h-3.5z" fill="#cc1884"/>
<path d="M179 151.3h3.5v3.5h-3.5zM182 151.3h3.5v3.5h-3.5zM185 151.3h3.5v3.5h-3.5zM188 151.3h3.5v3.5h-3.5z" fill="#d81884"/>
<path d="M191 151.3h3.5v3.5h-3.5zM197 154.3h3.5v3.5h-3.5zM95 196.3h3.5v3.5h-3.5z" fill="#e41884"/>
<path d="M194 151.3h3.5v3.5h-3.5z" fill="#e41878"/>
<path d="M215 151.3h3.5v3.5h-3.5zM209 154.3h3.5v3.5h-3.5z" fill="#ff00a8"/>
<path d="M77 154.3h3.5v3.5h-3.5zM83 157.3h3.5v3.5h-3.5zM89 160.3h3.5v3.5h-3.5z" fill="#9018b4"/>
<path d="M80 154.3h3.5v3.5h-3.5zM86 157.3h3.5v3.5h-3.5z" fill="#8418b4"/>
<path d="M83 154.3h3.5v3.5h-3.5zM89 157.3h3.5v3.5h-3.5z" fill="#7824b4"/>
<path d="M92 154.3h3.5v3.5h-3.5z" fill="#5430a8"/>
<path d="M95 154.3h3.5v3.5h-3.5z" fill="#4830a8"/>
<path d="M98 154.3h3.5v3.5h-3.5zM161 202.3h3.5v3.5h-3.5zM158 205.3h3.5v3.5h-3.5zM161 205.3h3.5v3.5h-3.5zM155 208.3h3.5v3.5h-3.5z" fill="#48309c"/>
<path d="M101 154.3h3.5v3.5h-3.5z" fill="#483c9c"/>
<path d="M104 154.3h3.5v3.5h-3.5zM158 208.3h3.5v3.5h-3.5zM161 208.3h3.5v3.5h-3.5zM152 211.3h3.5v3.5h-3.5zM155 211.3h3.5v3.5h-3.5zM158 211.3h3.5v3.5h-3.5z" fill="#483c90"/>
<path d="M107 154.3h3.5v3.5h-3.5zM110 154.3h3.5v3.5h-3.5zM152 214.3h3.5v3.5h-3.5zM155 214.3h3.5v3.5h-3.5z" fill="#484884"/>
<path d="M113 154.3h3.5v3.5h-3.5z" fill="#544884"/>
<path d="M116 154.3h3.5v3.5h-3.5zM119 154.3h3.5v3.5h-3.5z" fill="#604878"/>
<path d="M122 154.3h3.5v3.5h-3.5zM125 154.3h3.5v3.5h-3.5z" fill="#6c4878"/>
<path d="M128 154.3h3.5v3.5h-3.5z" fill="#783c78"/>
<path d="M131 154.3h3.5v3.5h-3.5zM128 157.3h3.5v3.5h-3.5z" fill="#903084"/>
<path d="M140 154.3h3.5v3.5h-3.5zM122 199.3h3.5v3.5h-3.5zM122 202.3h3.5v3.5h-3.5zM119 208.3h3.5v3.5h-3.5z" fill="#a81884"/>
<path d="M143 154.3h3.5v3.5h-3.5zM140 157.3h3.5v3.5h-3.5zM143 157.3h3.5v3.5h-3.5zM140 160.3h3.5v3.5h-3.5zM143 160.3h3.5v3.5h-3.5zM137 163.3h3.5v3.5h-3.5zM140 163.3h3.5v3.5h-3.5zM134 166.3h3.5v3.5h-3.5zM131 169.3h3.5v3.5h-3.5zM134 169.3h3.5v3.5h-3.5zM128 172.3h3.5v3.5h-3.5zM131 172.3h3.5v3.5h-3.5z" fill="#b41890"/>
<path d="M146 154.3h3.5v3.5h-3.5z" fill="#c01890"/>
<path d="M158 154.3h3.5v3.5h-3.5zM161 154.3h3.5v3.5h-3.5zM170 154.3h3.5v3.5h-3.5zM155 157.3h3.5v3.5h-3.5zM152 160.3h3.5v3.5h-3.5zM155 160.3h3.5v3.5h-3.5zM104 172.3h3.5v3.5h-3.5z" fill="#c00c9c"/>
<path d="M164 154.3h3.5v3.5h-3.5zM167 154.3h3.5v3.5h-3.5zM158 157.3h3.5v3.5h-3.5zM161 157.3h3.5v3.5h-3.5zM170 157.3h3.5v3.5h-3.5zM158 160.3h3.5v3.5h-3.5zM158 163.3h3.5v3.5h-3.5z" fill="#c0009c"/>
<path d="M173 154.3h3.5v3.5h-3.5zM110 178.3h3.5v3.5h-3.5z" fill="#cc0c90"/>
<path d="M176 154.3h3.5v3.5h-3.5zM179 154.3h3.5v3.5h-3.5zM182 154.3h3.5v3.5h-3.5zM188 154.3h3.5v3.5h-3.5zM107 178.3h3.5v3.5h-3.5z" fill="#d80c90"/>
<path d="M185 154.3h3.5v3.5h-3.5zM191 157.3h3.5v3.5h-3.5zM101 175.3h3.5v3.5h-3.5zM104 175.3h3.5v3.5h-3.5z" fill="#d80c9c"/>
<path d="M191 154.3h3.5v3.5h-3.5zM194 154.3h3.5v3.5h-3.5zM95 190.3h3.5v3.5h-3.5z" fill="#e40c90"/>
<path d="M203 154.3h3.5v3.5h-3.5zM200 157.3h3.5v3.5h-3.5zM92 196.3h3.5v3.5h-3.5z" fill="#f00c9c"/>
<path d="M230 154.3h3.5v3.5h-3.5zM227 157.3h3.5v3.5h-3.5zM77 184.3h3.5v3.5h-3.5zM77 187.3h3.5v3.5h-3.5z" fill="#ff00e4"/>
<path d="M77 157.3h3.5v3.5h-3.5zM83 160.3h3.5v3.5h-3.5zM89 163.3h3.5v3.5h-3.5z" fill="#a818b4"/>
<path d="M80 157.3h3.5v3.5h-3.5zM86 160.3h3.5v3.5h-3.5z" fill="#9c18b4"/>
<path d="M92 157.3h3.5v3.5h-3.5zM95 157.3h3.5v3.5h-3.5zM149 196.3h3.5v3.5h-3.5zM146 199.3h3.5v3.5h-3.5zM146 202.3h3.5v3.5h-3.5z" fill="#6c24a8"/>
<path d="M98 157.3h3.5v3.5h-3.5zM143 202.3h3.5v3.5h-3.5zM143 205.3h3.5v3.5h-3.5z" fill="#6c249c"/>
<path d="M101 157.3h3.5v3.5h-3.5zM146 208.3h3.5v3.5h-3.5z" fill="#60309c"/>
<path d="M104 157.3h3.5v3.5h-3.5z" fill="#603090"/>
<path d="M107 157.3h3.5v3.5h-3.5z" fill="#603c90"/>
<path d="M110 157.3h3.5v3.5h-3.5z" fill="#603c84"/>
<path d="M113 157.3h3.5v3.5h-3.5z" fill="#6c3c84"/>
<path d="M116 157.3h3.5v3.5h-3.5z" fill="#783084"/>
<path d="M119 157.3h3.5v3.5h-3.5zM122 157.3h3.5v3.5h-3.5zM125 157.3h3.5v3.5h-3.5z" fill="#843084"/>
<path d="M131 157.3h3.5v3.5h-3.5z" fill="#9c3084"/>
<path d="M137 157.3h3.5v3.5h-3.5zM137 160.3h3.5v3.5h-3.5zM116 163.3h3.5v3.5h-3.5zM119 163.3h3.5v3.5h-3.5zM122 163.3h3.5v3.5h-3.5zM125 163.3h3.5v3.5h-3.5zM131 163.3h3.5v3.5h-3.5zM134 163.3h3.5v3.5h-3.5zM128 166.3h3.5v3.5h-3.5zM131 166.3h3.5v3.5h-3.5zM125 196.3h3.5v3.5h-3.5z" fill="#a81890"/>
<path d="M164 157.3h3.5v3.5h-3.5zM167 157.3h3.5v3.5h-3.5zM161 160.3h3.5v3.5h-3.5zM164 160.3h3.5v3.5h-3.5zM167 160.3h3.5v3.5h-3.5zM170 160.3h3.5v3.5h-3.5zM173 160.3h3.5v3.5h-3.5zM161 163.3h3.5v3.5h-3.5zM176 163.3h3.5v3.5h-3.5zM179 166.3h3.5v3.5h-3.5z" fill="#c000a8"/>
<path d="M173 157.3h3.5v3.5h-3.5z" fill="#cc009c"/>
<path d="M176 157.3h3.5v3.5h-3.5zM98 172.3h3.5v3.5h-3.5zM101 172.3h3.5v3.5h-3.5zM107 175.3h3.5v3.5h-3.5z" fill="#cc0c9c"/>
<path d="M179 157.3h3.5v3.5h-3.5zM182 157.3h3.5v3.5h-3.5zM185 157.3h3.5v3.5h-3.5zM188 157.3h3.5v3.5h-3.5z" fill="#d8009c"/>
<path d="M194 157.3h3.5v3.5h-3.5zM197 157.3h3.5v3.5h-3.5z" fill="#e40c9c"/>
<path d="M203 157.3h3.5v3.5h-3.5zM92 193.3h3.5v3.5h-3.5zM86 205.3h3.5v3.5h-3.5z" fill="#f00ca8"/>
<path d="M206 157.3h3.5v3.5h-3.5z" fill="#fc00a8"/>
<path d="M209 157.3h3.5v3.5h-3.5z" fill="#fc00b4"/>
<path d="M212 157.3h3.5v3.5h-3.5zM215 157.3h3.5v3.5h-3.5zM86 181.3h3.5v3.5h-3.5zM89 184.3h3.5v3.5h-3.5zM89 187.3h3.5v3.5h-3.5zM89 190.3h3.5v3.5h-3.5z" fill="#fc00c0"/>
<path d="M218 157.3h3.5v3.5h-3.5zM77 175.3h3.5v3.5h-3.5zM83 178.3h3.5v3.5h-3.5z" fill="#fc00cc"/>
<path d="M221 157.3h3.5v3.5h-3.5z" fill="#fc00d8"/>
<path d="M224 157.3h3.5v3.5h-3.5zM227 160.3h3.5v3.5h-3.5z" fill="#fc00e4"/>
<path d="M77 160.3h3.5v3.5h-3.5z" fill="#b40cc0"/>
<path d="M80 160.3h3.5v3.5h-3.5zM83 163.3h3.5v3.5h-3.5zM89 166.3h3.5v3.5h-3.5z" fill="#b40cb4"/>
<path d="M92 160.3h3.5v3.5h-3.5zM95 160.3h3.5v3.5h-3.5z" fill="#8418a8"/>
<path d="M98 160.3h3.5v3.5h-3.5zM101 160.3h3.5v3.5h-3.5z" fill="#84249c"/>
<path d="M104 160.3h3.5v3.5h-3.5z" fill="#782490"/>
<path d="M107 160.3h3.5v3.5h-3.5zM110 160.3h3.5v3.5h-3.5z" fill="#783090"/>
<path d="M113 160.3h3.5v3.5h-3.5z" fill="#843090"/>
<path d="M116 160.3h3.5v3.5h-3.5zM107 163.3h3.5v3.5h-3.5zM110 163.3h3.5v3.5h-3.5z" fill="#902490"/>
<path d="M119 160.3h3.5v3.5h-3.5zM122 160.3h3.5v3.5h-3.5zM125 160.3h3.5v3.5h-3.5zM113 163.3h3.5v3.5h-3.5z" fill="#9c2490"/>
<path d="M134 160.3h3.5v3.5h-3.5zM128 163.3h3.5v3.5h-3.5z" fill="#a82490"/>
<path d="M146 160.3h3.5v3.5h-3.5zM143 163.3h3.5v3.5h-3.5zM146 163.3h3.5v3.5h-3.5zM137 166.3h3.5v3.5h-3.5zM140 166.3h3.5v3.5h-3.5zM116 175.3h3.5v3.5h-3.5zM119 175.3h3.5v3.5h-3.5zM122 175.3h3.5v3.5h-3.5zM125 175.3h3.5v3.5h-3.5zM128 175.3h3.5v3.5h-3.5zM131 175.3h3.5v3.5h-3.5zM134 175.3h3.5v3.5h-3.5zM128 178.3h3.5v3.5h-3.5zM131 178.3h3.5v3.5h-3.5zM125 181.3h3.5v3.5h-3.5zM128 181.3h3.5v3.5h-3.5zM125 184.3h3.5v3.5h-3.5zM128 184.3h3.5v3.5h-3.5zM125 187.3h3.5v3.5h-3.5zM122 190.3h3.5v3.5h-3.5zM125 190.3h3.5v3.5h-3.5zM122 193.3h3.5v3.5h-3.5z" fill="#b40c90"/>
<path d="M176 160.3h3.5v3.5h-3.5zM179 163.3h3.5v3.5h-3.5zM182 166.3h3.5v3.5h-3.5z" fill="#cc00a8"/>
<path d="M179 160.3h3.5v3.5h-3.5zM182 160.3h3.5v3.5h-3.5zM185 160.3h3.5v3.5h-3.5zM188 160.3h3.5v3.5h-3.5zM191 160.3h3.5v3.5h-3.5zM194 160.3h3.5v3.5h-3.5zM197 160.3h3.5v3.5h-3.5zM182 163.3h3.5v3.5h-3.5zM185 163.3h3.5v3.5h-3.5zM188 163.3h3.5v3.5h-3.5z" fill="#d800a8"/>
<path d="M200 160.3h3.5v3.5h-3.5zM203 160.3h3.5v3.5h-3.5zM89 172.3h3.5v3.5h-3.5z" fill="#e400b4"/>
<path d="M206 160.3h3.5v3.5h-3.5zM89 175.3h3.5v3.5h-3.5zM89 178.3h3.5v3.5h-3.5zM89 181.3h3.5v3.5h-3.5zM92 184.3h3.5v3.5h-3.5zM92 187.3h3.5v3.5h-3.5z" fill="#f000b4"/>
<path d="M209 160.3h3.5v3.5h-3.5zM83 175.3h3.5v3.5h-3.5zM86 175.3h3.5v3.5h-3.5zM86 178.3h3.5v3.5h-3.5z" fill="#f000c0"/>
<path d="M212 160.3h3.5v3.5h-3.5zM215 160.3h3.5v3.5h-3.5zM77 172.3h3.5v3.5h-3.5zM80 172.3h3.5v3.5h-3.5zM80 175.3h3.5v3.5h-3.5z" fill="#f000cc"/>
<path d="M218 160.3h3.5v3.5h-3.5zM212 163.3h3.5v3.5h-3.5zM215 163.3h3.5v3.5h-3.5z" fill="#f000d8"/>
<path d="M221 160.3h3.5v3.5h-3.5zM224 160.3h3.5v3.5h-3.5zM218 163.3h3.5v3.5h-3.5zM221 163.3h3.5v3.5h-3.5zM224 163.3h3.5v3.5h-3.5z" fill="#f000e4"/>
<path d="M77 163.3h3.5v3.5h-3.5zM83 166.3h3.5v3.5h-3.5z" fill="#cc0cc0"/>
<path d="M80 163.3h3.5v3.5h-3.5z" fill="#c00cc0"/>
<path d="M86 163.3h3.5v3.5h-3.5z" fill="#a80cb4"/>
<path d="M92 163.3h3.5v3.5h-3.5zM95 163.3h3.5v3.5h-3.5z" fill="#9c18a8"/>
<path d="M98 163.3h3.5v3.5h-3.5zM104 166.3h3.5v3.5h-3.5zM107 166.3h3.5v3.5h-3.5zM110 166.3h3.5v3.5h-3.5z" fill="#9c189c"/>
<path d="M101 163.3h3.5v3.5h-3.5zM143 184.3h3.5v3.5h-3.5z" fill="#90189c"/>
<path d="M104 163.3h3.5v3.5h-3.5z" fill="#90249c"/>
<path d="M149 163.3h3.5v3.5h-3.5zM152 163.3h3.5v3.5h-3.5zM155 163.3h3.5v3.5h-3.5zM143 166.3h3.5v3.5h-3.5zM146 166.3h3.5v3.5h-3.5zM149 166.3h3.5v3.5h-3.5zM152 166.3h3.5v3.5h-3.5zM155 166.3h3.5v3.5h-3.5zM98 169.3h3.5v3.5h-3.5zM101 169.3h3.5v3.5h-3.5zM137 169.3h3.5v3.5h-3.5zM140 169.3h3.5v3.5h-3.5zM143 169.3h3.5v3.5h-3.5zM146 169.3h3.5v3.5h-3.5zM149 169.3h3.5v3.5h-3.5zM152 169.3h3.5v3.5h-3.5zM155 169.3h3.5v3.5h-3.5zM107 172.3h3.5v3.5h-3.5zM134 172.3h3.5v3.5h-3.5zM137 172.3h3.5v3.5h-3.5zM140 172.3h3.5v3.5h-3.5zM143 172.3h3.5v3.5h-3.5zM146 172.3h3.5v3.5h-3.5zM149 172.3h3.5v3.5h-3.5zM152 172.3h3.5v3.5h-3.5zM137 175.3h3.5v3.5h-3.5zM140 175.3h3.5v3.5h-3.5zM143 175.3h3.5v3.5h-3.5zM146 175.3h3.5v3.5h-3.5zM149 175.3h3.5v3.5h-3.5z" fill="#b40c9c"/>
<path d="M164 163.3h3.5v3.5h-3.5zM167 163.3h3.5v3.5h-3.5zM170 163.3h3.5v3.5h-3.5zM173 163.3h3.5v3.5h-3.5zM158 166.3h3.5v3.5h-3.5zM161 166.3h3.5v3.5h-3.5zM164 166.3h3.5v3.5h-3.5zM167 166.3h3.5v3.5h-3.5zM170 166.3h3.5v3.5h-3.5zM176 166.3h3.5v3.5h-3.5zM158 169.3h3.5v3.5h-3.5z" fill="#b400a8"/>
<path d="M191 163.3h3.5v3.5h-3.5zM194 163.3h3.5v3.5h-3.5zM185 166.3h3.5v3.5h-3.5zM188 166.3h3.5v3.5h-3.5z" fill="#cc00b4"/>
<path d="M197 163.3h3.5v3.5h-3.5zM200 163.3h3.5v3.5h-3.5zM191 166.3h3.5v3.5h-3.5z" fill="#cc00c0"/>
<path d="M203 163.3h3.5v3.5h-3.5z" fill="#d800c0"/>
<path d="M206 163.3h3.5v3.5h-3.5zM77 169.3h3.5v3.5h-3.5zM80 169.3h3.5v3.5h-3.5zM83 172.3h3.5v3.5h-3.5zM86 172.3h3.5v3.5h-3.5z" fill="#e400c0"/>
<path d="M209 163.3h3.5v3.5h-3.5z" fill="#e400cc"/>
<path d="M77 166.3h3.5v3.5h-3.5zM80 166.3h3.5v3.5h-3.5zM83 169.3h3.5v3.5h-3.5zM86 169.3h3.5v3.5h-3.5z" fill="#d80cc0"/>
<path d="M86 166.3h3.5v3.5h-3.5z" fill="#c00cb4"/>
<path d="M92 166.3h3.5v3.5h-3.5z" fill="#b40ca8"/>
<path d="M95 166.3h3.5v3.5h-3.5z" fill="#a818a8"/>
<path d="M98 166.3h3.5v3.5h-3.5zM101 166.3h3.5v3.5h-3.5zM113 166.3h3.5v3.5h-3.5zM116 166.3h3.5v3.5h-3.5zM119 166.3h3.5v3.5h-3.5zM125 166.3h3.5v3.5h-3.5zM107 169.3h3.5v3.5h-3.5zM110 169.3h3.5v3.5h-3.5zM113 169.3h3.5v3.5h-3.5z" fill="#a8189c"/>
<path d="M122 166.3h3.5v3.5h-3.5zM104 169.3h3.5v3.5h-3.5zM116 169.3h3.5v3.5h-3.5zM119 169.3h3.5v3.5h-3.5zM122 169.3h3.5v3.5h-3.5zM125 169.3h3.5v3.5h-3.5zM128 169.3h3.5v3.5h-3.5zM110 172.3h3.5v3.5h-3.5zM113 172.3h3.5v3.5h-3.5zM116 172.3h3.5v3.5h-3.5zM119 172.3h3.5v3.5h-3.5zM122 172.3h3.5v3.5h-3.5zM125 172.3h3.5v3.5h-3.5z" fill="#b4189c"/>
<path d="M173 166.3h3.5v3.5h-3.5zM179 169.3h3.5v3.5h-3.5z" fill="#b400b4"/>
<path d="M194 166.3h3.5v3.5h-3.5zM188 169.3h3.5v3.5h-3.5zM191 169.3h3.5v3.5h-3.5z" fill="#c000c0"/>
<path d="M197 166.3h3.5v3.5h-3.5zM200 166.3h3.5v3.5h-3.5zM194 169.3h3.5v3.5h-3.5zM197 169.3h3.5v3.5h-3.5zM200 169.3h3.5v3.5h-3.5zM203 169.3h3.5v3.5h-3.5zM191 172.3h3.5v3.5h-3.5zM194 172.3h3.5v3.5h-3.5zM197 172.3h3.5v3.5h-3.5zM200 172.3h3.5v3.5h-3.5zM203 172.3h3.5v3.5h-3.5zM206 172.3h3.5v3.5h-3.5zM197 175.3h3.5v3.5h-3.5zM200 175.3h3.5v3.5h-3.5zM203 175.3h3.5v3.5h-3.5zM206 175.3h3.5v3.5h-3.5z" fill="#c000cc"/>
<path d="M203 166.3h3.5v3.5h-3.5zM206 169.3h3.5v3.5h-3.5z" fill="#cc00cc"/>
<path d="M206 166.3h3.5v3.5h-3.5z" fill="#d800cc"/>
<path d="M209 166.3h3.5v3.5h-3.5zM212 166.3h3.5v3.5h-3.5z" fill="#e400d8"/>
<path d="M215 166.3h3.5v3.5h-3.5zM218 166.3h3.5v3.5h-3.5zM221 166.3h3.5v3.5h-3.5zM224 166.3h3.5v3.5h-3.5zM212 169.3h3.5v3.5h-3.5zM215 169.3h3.5v3.5h-3.5zM218 169.3h3.5v3.5h-3.5zM221 169.3h3.5v3.5h-3.5zM215 172.3h3.5v3.5h-3.5zM218 172.3h3.5v3.5h-3.5zM221 172.3h3.5v3.5h-3.5zM215 175.3h3.5v3.5h-3.5zM218 175.3h3.5v3.5h-3.5zM218 178.3h3.5v3.5h-3.5z" fill="#e400e4"/>
<path d="M89 169.3h3.5v3.5h-3.5z" fill="#cc0cb4"/>
<path d="M92 169.3h3.5v3.5h-3.5zM95 169.3h3.5v3.5h-3.5z" fill="#c00ca8"/>
<path d="M161 169.3h3.5v3.5h-3.5z" fill="#a800a8"/>
<path d="M164 169.3h3.5v3.5h-3.5zM167 169.3h3.5v3.5h-3.5zM170 169.3h3.5v3.5h-3.5zM173 169.3h3.5v3.5h-3.5zM176 169.3h3.5v3.5h-3.5zM173 172.3h3.5v3.5h-3.5zM176 172.3h3.5v3.5h-3.5zM179 172.3h3.5v3.5h-3.5zM182 172.3h3.5v3.5h-3.5z" fill="#a800b4"/>
<path d="M182 169.3h3.5v3.5h-3.5zM185 169.3h3.5v3.5h-3.5z" fill="#c000b4"/>
<path d="M209 169.3h3.5v3.5h-3.5zM212 175.3h3.5v3.5h-3.5z" fill="#d800d8"/>
<path d="M92 172.3h3.5v3.5h-3.5zM95 172.3h3.5v3.5h-3.5z" fill="#d80ca8"/>
<path d="M155 172.3h3.5v3.5h-3.5zM152 175.3h3.5v3.5h-3.5zM140 178.3h3.5v3.5h-3.5zM143 178.3h3.5v3.5h-3.5zM146 178.3h3.5v3.5h-3.5zM149 178.3h3.5v3.5h-3.5z" fill="#a80c9c"/>
<path d="M158 172.3h3.5v3.5h-3.5z" fill="#a80ca8"/>
<path d="M161 172.3h3.5v3.5h-3.5zM164 172.3h3.5v3.5h-3.5zM167 172.3h3.5v3.5h-3.5zM170 172.3h3.5v3.5h-3.5zM170 175.3h3.5v3.5h-3.5zM173 175.3h3.5v3.5h-3.5zM176 175.3h3.5v3.5h-3.5z" fill="#9c00b4"/>
<path d="M185 172.3h3.5v3.5h-3.5z" fill="#b400c0"/>
<path d="M188 172.3h3.5v3.5h-3.5zM191 175.3h3.5v3.5h-3.5zM194 175.3h3.5v3.5h-3.5z" fill="#b400cc"/>
<path d="M209 172.3h3.5v3.5h-3.5zM209 175.3h3.5v3.5h-3.5z" fill="#cc00d8"/>
<path d="M212 172.3h3.5v3.5h-3.5zM215 178.3h3.5v3.5h-3.5z" fill="#d800e4"/>
<path d="M92 175.3h3.5v3.5h-3.5zM95 175.3h3.5v3.5h-3.5zM98 175.3h3.5v3.5h-3.5z" fill="#e400a8"/>
<path d="M155 175.3h3.5v3.5h-3.5zM152 178.3h3.5v3.5h-3.5z" fill="#9c0ca8"/>
<path d="M158 175.3h3.5v3.5h-3.5zM161 175.3h3.5v3.5h-3.5z" fill="#900cb4"/>
<path d="M164 175.3h3.5v3.5h-3.5zM167 175.3h3.5v3.5h-3.5z" fill="#9000b4"/>
<path d="M179 175.3h3.5v3.5h-3.5z" fill="#9000c0"/>
<path d="M182 175.3h3.5v3.5h-3.5zM167 178.3h3.5v3.5h-3.5z" fill="#840cc0"/>
<path d="M185 175.3h3.5v3.5h-3.5z" fill="#840ccc"/>
<path d="M188 175.3h3.5v3.5h-3.5z" fill="#9c00cc"/>
<path d="M92 178.3h3.5v3.5h-3.5zM95 178.3h3.5v3.5h-3.5zM98 178.3h3.5v3.5h-3.5zM92 181.3h3.5v3.5h-3.5zM95 181.3h3.5v3.5h-3.5zM92 190.3h3.5v3.5h-3.5z" fill="#f000a8"/>
<path d="M101 178.3h3.5v3.5h-3.5zM104 178.3h3.5v3.5h-3.5zM101 181.3h3.5v3.5h-3.5z" fill="#e4009c"/>
<path d="M134 178.3h3.5v3.5h-3.5zM137 178.3h3.5v3.5h-3.5zM131 181.3h3.5v3.5h-3.5zM131 184.3h3.5v3.5h-3.5zM128 187.3h3.5v3.5h-3.5zM128 190.3h3.5v3.5h-3.5zM125 193.3h3.5v3.5h-3.5z" fill="#a80c90"/>
<path d="M155 178.3h3.5v3.5h-3.5z" fill="#840cb4"/>
<path d="M158 178.3h3.5v3.5h-3.5zM161 178.3h3.5v3.5h-3.5zM164 178.3h3.5v3.5h-3.5z" fill="#780cc0"/>
<path d="M170 178.3h3.5v3.5h-3.5zM173 178.3h3.5v3.5h-3.5zM176 178.3h3.5v3.5h-3.5z" fill="#8400c0"/>
<path d="M179 178.3h3.5v3.5h-3.5zM194 181.3h3.5v3.5h-3.5z" fill="#6c0ccc"/>
<path d="M182 178.3h3.5v3.5h-3.5zM185 178.3h3.5v3.5h-3.5z" fill="#480cd8"/>
<path d="M188 178.3h3.5v3.5h-3.5z" fill="#6c0cd8"/>
<path d="M191 178.3h3.5v3.5h-3.5z" fill="#900ccc"/>
<path d="M194 178.3h3.5v3.5h-3.5zM197 178.3h3.5v3.5h-3.5z" fill="#a800cc"/>
<path d="M200 178.3h3.5v3.5h-3.5zM203 178.3h3.5v3.5h-3.5zM209 178.3h3.5v3.5h-3.5z" fill="#a80ccc"/>
<path d="M206 178.3h3.5v3.5h-3.5z" fill="#9c0ccc"/>
<path d="M212 178.3h3.5v3.5h-3.5zM218 181.3h3.5v3.5h-3.5z" fill="#c00cd8"/>
<path d="M98 181.3h3.5v3.5h-3.5zM95 184.3h3.5v3.5h-3.5zM95 187.3h3.5v3.5h-3.5z" fill="#f0009c"/>
<path d="M104 181.3h3.5v3.5h-3.5z" fill="#e40090"/>
<path d="M107 181.3h3.5v3.5h-3.5z" fill="#d80c84"/>
<path d="M134 181.3h3.5v3.5h-3.5zM137 181.3h3.5v3.5h-3.5zM134 184.3h3.5v3.5h-3.5zM137 184.3h3.5v3.5h-3.5zM131 187.3h3.5v3.5h-3.5zM134 187.3h3.5v3.5h-3.5zM137 187.3h3.5v3.5h-3.5zM131 190.3h3.5v3.5h-3.5zM134 190.3h3.5v3.5h-3.5zM128 193.3h3.5v3.5h-3.5zM131 193.3h3.5v3.5h-3.5zM134 193.3h3.5v3.5h-3.5zM128 196.3h3.5v3.5h-3.5zM131 196.3h3.5v3.5h-3.5zM128 199.3h3.5v3.5h-3.5zM131 199.3h3.5v3.5h-3.5z" fill="#9c1890"/>
<path d="M140 181.3h3.5v3.5h-3.5z" fill="#9c0c90"/>
<path d="M143 181.3h3.5v3.5h-3.5zM146 181.3h3.5v3.5h-3.5z" fill="#9c0c9c"/>
<path d="M149 181.3h3.5v3.5h-3.5z" fill="#900ca8"/>
<path d="M152 181.3h3.5v3.5h-3.5z" fill="#780cb4"/>
<path d="M155 181.3h3.5v3.5h-3.5zM158 181.3h3.5v3.5h-3.5zM161 181.3h3.5v3.5h-3.5zM164 181.3h3.5v3.5h-3.5z" fill="#600cc0"/>
<path d="M167 181.3h3.5v3.5h-3.5zM170 181.3h3.5v3.5h-3.5zM173 181.3h3.5v3.5h-3.5z" fill="#6c0cc0"/>
<path d="M176 181.3h3.5v3.5h-3.5z" fill="#600ccc"/>
<path d="M179 181.3h3.5v3.5h-3.5zM176 184.3h3.5v3.5h-3.5z" fill="#3c0cd8"/>
<path d="M182 181.3h3.5v3.5h-3.5z" fill="#240cd8"/>
<path d="M185 181.3h3.5v3.5h-3.5z" fill="#2418e4"/>
<path d="M188 181.3h3.5v3.5h-3.5z" fill="#300ce4"/>
<path d="M191 181.3h3.5v3.5h-3.5z" fill="#540cd8"/>
<path d="M197 181.3h3.5v3.5h-3.5z" fill="#7818cc"/>
<path d="M200 181.3h3.5v3.5h-3.5z" fill="#7818c0"/>
<path d="M203 181.3h3.5v3.5h-3.5z" fill="#6c18c0"/>
<path d="M206 181.3h3.5v3.5h-3.5z" fill="#6024c0"/>
<path d="M209 181.3h3.5v3.5h-3.5z" fill="#5424c0"/>
<path d="M212 181.3h3.5v3.5h-3.5z" fill="#6c24cc"/>
<path d="M215 181.3h3.5v3.5h-3.5z" fill="#9c18d8"/>
<path d="M98 184.3h3.5v3.5h-3.5z" fill="#f00090"/>
<path d="M101 184.3h3.5v3.5h-3.5z" fill="#e40084"/>
<path d="M104 184.3h3.5v3.5h-3.5zM107 184.3h3.5v3.5h-3.5zM104 187.3h3.5v3.5h-3.5zM107 187.3h3.5v3.5h-3.5z" fill="#d80c78"/>
<path d="M140 184.3h3.5v3.5h-3.5zM140 187.3h3.5v3.5h-3.5zM137 190.3h3.5v3.5h-3.5zM140 190.3h3.5v3.5h-3.5zM137 193.3h3.5v3.5h-3.5zM134 196.3h3.5v3.5h-3.5zM137 196.3h3.5v3.5h-3.5zM134 199.3h3.5v3.5h-3.5zM137 199.3h3.5v3.5h-3.5zM134 202.3h3.5v3.5h-3.5z" fill="#901890"/>
<path d="M146 184.3h3.5v3.5h-3.5zM143 187.3h3.5v3.5h-3.5zM143 190.3h3.5v3.5h-3.5zM140 196.3h3.5v3.5h-3.5zM140 199.3h3.5v3.5h-3.5z" fill="#84189c"/>
<path d="M149 184.3h3.5v3.5h-3.5zM149 190.3h3.5v3.5h-3.5zM149 193.3h3.5v3.5h-3.5zM146 196.3h3.5v3.5h-3.5z" fill="#6c18a8"/>
<path d="M152 184.3h3.5v3.5h-3.5z" fill="#6018c0"/>
<path d="M155 184.3h3.5v3.5h-3.5zM155 190.3h3.5v3.5h-3.5z" fill="#5418c0"/>
<path d="M158 184.3h3.5v3.5h-3.5zM161 184.3h3.5v3.5h-3.5zM158 187.3h3.5v3.5h-3.5zM161 187.3h3.5v3.5h-3.5zM164 187.3h3.5v3.5h-3.5zM167 187.3h3.5v3.5h-3.5zM170 187.3h3.5v3.5h-3.5zM161 190.3h3.5v3.5h-3.5z" fill="#4818cc"/>
<path d="M164 184.3h3.5v3.5h-3.5zM167 184.3h3.5v3.5h-3.5zM170 184.3h3.5v3.5h-3.5zM173 184.3h3.5v3.5h-3.5z" fill="#540ccc"/>
<path d="M179 184.3h3.5v3.5h-3.5zM191 184.3h3.5v3.5h-3.5zM176 187.3h3.5v3.5h-3.5zM173 190.3h3.5v3.5h-3.5z" fill="#2418d8"/>
<path d="M182 184.3h3.5v3.5h-3.5zM185 184.3h3.5v3.5h-3.5zM188 184.3h3.5v3.5h-3.5zM179 187.3h3.5v3.5h-3.5zM179 190.3h3.5v3.5h-3.5z" fill="#1818e4"/>
<path d="M194 184.3h3.5v3.5h-3.5z" fill="#3024cc"/>
<path d="M197 184.3h3.5v3.5h-3.5z" fill="#3024c0"/>
<path d="M200 184.3h3.5v3.5h-3.5zM215 184.3h3.5v3.5h-3.5z" fill="#3030c0"/>
<path d="M206 184.3h3.5v3.5h-3.5zM209 184.3h3.5v3.5h-3.5zM176 205.3h3.5v3.5h-3.5z" fill="#1830b4"/>
<path d="M98 187.3h3.5v3.5h-3.5zM95 193.3h3.5v3.5h-3.5z" fill="#e40c84"/>
<path d="M101 187.3h3.5v3.5h-3.5zM98 190.3h3.5v3.5h-3.5z" fill="#e40c78"/>
<path d="M110 187.3h3.5v3.5h-3.5zM110 190.3h3.5v3.5h-3.5zM113 193.3h3.5v3.5h-3.5zM113 196.3h3.5v3.5h-3.5z" fill="#cc0c78"/>
<path d="M146 187.3h3.5v3.5h-3.5zM143 193.3h3.5v3.5h-3.5zM143 196.3h3.5v3.5h-3.5zM140 202.3h3.5v3.5h-3.5z" fill="#78189c"/>
<path d="M149 187.3h3.5v3.5h-3.5zM152 193.3h3.5v3.5h-3.5z" fill="#6018a8"/>
<path d="M152 187.3h3.5v3.5h-3.5zM155 193.3h3.5v3.5h-3.5z" fill="#5418b4"/>
<path d="M155 187.3h3.5v3.5h-3.5zM158 190.3h3.5v3.5h-3.5zM158 193.3h3.5v3.5h-3.5zM161 193.3h3.5v3.5h-3.5z" fill="#4818c0"/>
<path d="M173 187.3h3.5v3.5h-3.5zM164 190.3h3.5v3.5h-3.5zM167 190.3h3.5v3.5h-3.5zM170 190.3h3.5v3.5h-3.5zM167 193.3h3.5v3.5h-3.5z" fill="#3c18cc"/>
<path d="M182 187.3h3.5v3.5h-3.5zM185 187.3h3.5v3.5h-3.5zM188 187.3h3.5v3.5h-3.5zM182 190.3h3.5v3.5h-3.5zM185 190.3h3.5v3.5h-3.5zM188 190.3h3.5v3.5h-3.5zM182 193.3h3.5v3.5h-3.5zM185 193.3h3.5v3.5h-3.5z" fill="#0c18e4"/>
<path d="M191 187.3h3.5v3.5h-3.5zM179 193.3h3.5v3.5h-3.5zM188 193.3h3.5v3.5h-3.5zM182 196.3h3.5v3.5h-3.5zM185 196.3h3.5v3.5h-3.5z" fill="#0c18d8"/>
<path d="M194 187.3h3.5v3.5h-3.5zM191 193.3h3.5v3.5h-3.5zM188 196.3h3.5v3.5h-3.5zM182 199.3h3.5v3.5h-3.5zM185 199.3h3.5v3.5h-3.5z" fill="#0c24cc"/>
<path d="M197 187.3h3.5v3.5h-3.5zM188 199.3h3.5v3.5h-3.5zM182 202.3h3.5v3.5h-3.5z" fill="#0c30c0"/>
<path d="M101 190.3h3.5v3.5h-3.5zM104 190.3h3.5v3.5h-3.5zM107 190.3h3.5v3.5h-3.5zM98 193.3h3.5v3.5h-3.5zM101 193.3h3.5v3.5h-3.5zM104 193.3h3.5v3.5h-3.5zM107 193.3h3.5v3.5h-3.5z" fill="#d80c6c"/>
<path d="M146 190.3h3.5v3.5h-3.5zM146 193.3h3.5v3.5h-3.5zM143 199.3h3.5v3.5h-3.5z" fill="#6c189c"/>
<path d="M152 190.3h3.5v3.5h-3.5z" fill="#6018b4"/>
<path d="M176 190.3h3.5v3.5h-3.5zM176 193.3h3.5v3.5h-3.5zM179 196.3h3.5v3.5h-3.5z" fill="#1818d8"/>
<path d="M191 190.3h3.5v3.5h-3.5z" fill="#0c24d8"/>
<path d="M194 190.3h3.5v3.5h-3.5z" fill="#0c30cc"/>
<path d="M86 193.3h3.5v3.5h-3.5zM77 196.3h3.5v3.5h-3.5zM80 196.3h3.5v3.5h-3.5z" fill="#ff0ccc"/>
<path d="M89 193.3h3.5v3.5h-3.5zM86 196.3h3.5v3.5h-3.5zM80 199.3h3.5v3.5h-3.5zM83 199.3h3.5v3.5h-3.5z" fill="#fc0cc0"/>
<path d="M110 193.3h3.5v3.5h-3.5zM110 196.3h3.5v3.5h-3.5z" fill="#cc0c6c"/>
<path d="M140 193.3h3.5v3.5h-3.5zM137 202.3h3.5v3.5h-3.5z" fill="#841890"/>
<path d="M164 193.3h3.5v3.5h-3.5zM164 196.3h3.5v3.5h-3.5z" fill="#3c18c0"/>
<path d="M170 193.3h3.5v3.5h-3.5z" fill="#3018cc"/>
<path d="M173 193.3h3.5v3.5h-3.5z" fill="#2418cc"/>
<path d="M83 196.3h3.5v3.5h-3.5z" fill="#ff0cc0"/>
<path d="M89 196.3h3.5v3.5h-3.5zM86 199.3h3.5v3.5h-3.5zM83 202.3h3.5v3.5h-3.5zM86 202.3h3.5v3.5h-3.5z" fill="#fc0cb4"/>
<path d="M98 196.3h3.5v3.5h-3.5z" fill="#d8186c"/>
<path d="M101 196.3h3.5v3.5h-3.5zM104 196.3h3.5v3.5h-3.5zM107 196.3h3.5v3.5h-3.5z" fill="#d81860"/>
<path d="M122 196.3h3.5v3.5h-3.5z" fill="#b40c84"/>
<path d="M152 196.3h3.5v3.5h-3.5zM155 196.3h3.5v3.5h-3.5zM149 199.3h3.5v3.5h-3.5zM152 199.3h3.5v3.5h-3.5zM155 199.3h3.5v3.5h-3.5zM149 202.3h3.5v3.5h-3.5z" fill="#6024a8"/>
<path d="M161 196.3h3.5v3.5h-3.5z" fill="#4824b4"/>
<path d="M167 196.3h3.5v3.5h-3.5z" fill="#3018c0"/>
<path d="M170 196.3h3.5v3.5h-3.5z" fill="#2418c0"/>
<path d="M173 196.3h3.5v3.5h-3.5zM176 196.3h3.5v3.5h-3.5z" fill="#1818cc"/>
<path d="M89 199.3h3.5v3.5h-3.5z" fill="#f00cb4"/>
<path d="M92 199.3h3.5v3.5h-3.5zM89 205.3h3.5v3.5h-3.5z" fill="#f0189c"/>
<path d="M95 199.3h3.5v3.5h-3.5z" fill="#e42478"/>
<path d="M101 199.3h3.5v3.5h-3.5zM104 199.3h3.5v3.5h-3.5z" fill="#d82454"/>
<path d="M107 199.3h3.5v3.5h-3.5z" fill="#cc1860"/>
<path d="M110 199.3h3.5v3.5h-3.5z" fill="#cc186c"/>
<path d="M125 199.3h3.5v3.5h-3.5zM125 202.3h3.5v3.5h-3.5zM122 205.3h3.5v3.5h-3.5z" fill="#9c1884"/>
<path d="M158 199.3h3.5v3.5h-3.5z" fill="#5424a8"/>
<path d="M161 199.3h3.5v3.5h-3.5z" fill="#4824a8"/>
<path d="M164 199.3h3.5v3.5h-3.5z" fill="#3c24b4"/>
<path d="M167 199.3h3.5v3.5h-3.5zM167 202.3h3.5v3.5h-3.5z" fill="#3024b4"/>
<path d="M170 199.3h3.5v3.5h-3.5z" fill="#2424c0"/>
<path d="M173 199.3h3.5v3.5h-3.5zM176 199.3h3.5v3.5h-3.5zM173 202.3h3.5v3.5h-3.5zM176 202.3h3.5v3.5h-3.5zM179 202.3h3.5v3.5h-3.5z" fill="#1824c0"/>
<path d="M179 199.3h3.5v3.5h-3.5z" fill="#1824cc"/>
<path d="M89 202.3h3.5v3.5h-3.5z" fill="#f018a8"/>
<path d="M92 202.3h3.5v3.5h-3.5z" fill="#f02490"/>
<path d="M104 202.3h3.5v3.5h-3.5z" fill="#cc3048"/>
<path d="M107 202.3h3.5v3.5h-3.5z" fill="#cc2454"/>
<path d="M128 202.3h3.5v3.5h-3.5zM131 202.3h3.5v3.5h-3.5z" fill="#901884"/>
<path d="M152 202.3h3.5v3.5h-3.5zM146 205.3h3.5v3.5h-3.5zM149 205.3h3.5v3.5h-3.5zM143 208.3h3.5v3.5h-3.5z" fill="#60249c"/>
<path d="M155 202.3h3.5v3.5h-3.5z" fill="#54249c"/>
<path d="M158 202.3h3.5v3.5h-3.5zM152 205.3h3.5v3.5h-3.5zM155 205.3h3.5v3.5h-3.5zM149 208.3h3.5v3.5h-3.5zM152 208.3h3.5v3.5h-3.5z" fill="#54309c"/>
<path d="M170 202.3h3.5v3.5h-3.5z" fill="#2424b4"/>
<path d="M185 202.3h3.5v3.5h-3.5zM179 205.3h3.5v3.5h-3.5z" fill="#0c30b4"/>
<path d="M92 205.3h3.5v3.5h-3.5z" fill="#e43078"/>
<path d="M95 205.3h3.5v3.5h-3.5z" fill="#d83c54"/>
<path d="M107 205.3h3.5v3.5h-3.5z" fill="#cc3054"/>
<path d="M110 205.3h3.5v3.5h-3.5z" fill="#c02460"/>
<path d="M125 205.3h3.5v3.5h-3.5zM128 205.3h3.5v3.5h-3.5zM125 208.3h3.5v3.5h-3.5zM125 211.3h3.5v3.5h-3.5zM122 214.3h3.5v3.5h-3.5zM122 217.3h3.5v3.5h-3.5z" fill="#902484"/>
<path d="M131 205.3h3.5v3.5h-3.5zM134 205.3h3.5v3.5h-3.5zM128 208.3h3.5v3.5h-3.5zM131 208.3h3.5v3.5h-3.5zM134 208.3h3.5v3.5h-3.5zM128 211.3h3.5v3.5h-3.5zM131 211.3h3.5v3.5h-3.5zM125 214.3h3.5v3.5h-3.5zM128 214.3h3.5v3.5h-3.5zM125 217.3h3.5v3.5h-3.5z" fill="#842484"/>
<path d="M137 205.3h3.5v3.5h-3.5z" fill="#842490"/>
<path d="M140 205.3h3.5v3.5h-3.5z" fill="#78249c"/>
<path d="M164 205.3h3.5v3.5h-3.5z" fill="#3c309c"/>
<path d="M167 205.3h3.5v3.5h-3.5z" fill="#3030a8"/>
<path d="M173 205.3h3.5v3.5h-3.5z" fill="#1824b4"/>
<path d="M92 208.3h3.5v3.5h-3.5z" fill="#e43c60"/>
<path d="M116 208.3h3.5v3.5h-3.5zM116 211.3h3.5v3.5h-3.5z" fill="#b41878"/>
<path d="M137 208.3h3.5v3.5h-3.5z" fill="#782484"/>
<path d="M140 208.3h3.5v3.5h-3.5z" fill="#6c2490"/>
<path d="M164 208.3h3.5v3.5h-3.5z" fill="#3c3c90"/>
<path d="M167 208.3h3.5v3.5h-3.5z" fill="#303c9c"/>
<path d="M170 208.3h3.5v3.5h-3.5z" fill="#2430a8"/>
<path d="M173 208.3h3.5v3.5h-3.5z" fill="#1830a8"/>
<path d="M134 211.3h3.5v3.5h-3.5zM137 211.3h3.5v3.5h-3.5zM134 214.3h3.5v3.5h-3.5zM131 217.3h3.5v3.5h-3.5zM128 220.3h3.5v3.5h-3.5z" fill="#783078"/>
<path d="M140 211.3h3.5v3.5h-3.5z" fill="#603c78"/>
<path d="M143 211.3h3.5v3.5h-3.5z" fill="#544878"/>
<path d="M146 211.3h3.5v3.5h-3.5z" fill="#543c84"/>
<path d="M149 211.3h3.5v3.5h-3.5z" fill="#543c90"/>
<path d="M161 211.3h3.5v3.5h-3.5zM164 211.3h3.5v3.5h-3.5z" fill="#3c4884"/>
<path d="M116 214.3h3.5v3.5h-3.5z" fill="#b42478"/>
<path d="M131 214.3h3.5v3.5h-3.5zM128 217.3h3.5v3.5h-3.5z" fill="#843078"/>
<path d="M137 214.3h3.5v3.5h-3.5z" fill="#6c4860"/>
<path d="M143 214.3h3.5v3.5h-3.5z" fill="#3c6c48"/>
<path d="M149 214.3h3.5v3.5h-3.5z" fill="#48546c"/>
<path d="M158 214.3h3.5v3.5h-3.5z" fill="#3c4878"/>
<path d="M167 214.3h3.5v3.5h-3.5z" fill="#305478"/>
<path d="M170 214.3h3.5v3.5h-3.5z" fill="#245478"/>
<path d="M173 214.3h3.5v3.5h-3.5z" fill="#185484"/>
<path d="M176 214.3h3.5v3.5h-3.5z" fill="#0c5484"/>
<path d="M140 217.3h3.5v3.5h-3.5z" fill="#3c7830"/>
<path d="M143 217.3h3.5v3.5h-3.5zM146 217.3h3.5v3.5h-3.5zM149 220.3h3.5v3.5h-3.5z" fill="#308430"/>
<path d="M149 217.3h3.5v3.5h-3.5zM152 220.3h3.5v3.5h-3.5z" fill="#307848"/>
<path d="M164 217.3h3.5v3.5h-3.5z" fill="#306060"/>
<path d="M131 220.3h3.5v3.5h-3.5z" fill="#6c3c6c"/>
<path d="M134 220.3h3.5v3.5h-3.5z" fill="#605454"/>
<path d="M146 220.3h3.5v3.5h-3.5zM149 223.3h3.5v3.5h-3.5z" fill="#249024"/>
<path d="M137 223.3h3.5v3.5h-3.5z" fill="#308424"/>
<path d="M143 223.3h3.5v3.5h-3.5zM146 223.3h3.5v3.5h-3.5zM140 226.3h3.5v3.5h-3.5zM143 226.3h3.5v3.5h-3.5zM146 226.3h3.5v3.5h-3.5zM149 226.3h3.5v3.5h-3.5zM140 229.3h3.5v3.5h-3.5zM143 229.3h3.5v3.5h-3.5zM146 229.3h3.5v3.5h-3.5zM149 229.3h3.5v3.5h-3.5zM152 229.3h3.5v3.5h-3.5zM155 229.3h3.5v3.5h-3.5zM158 229.3h3.5v3.5h-3.5zM143 232.3h3.5v3.5h-3.5zM146 232.3h3.5v3.5h-3.5zM149 232.3h3.5v3.5h-3.5zM146 235.3h3.5v3.5h-3.5z" fill="#249c18"/>
<path d="M155 223.3h3.5v3.5h-3.5zM158 223.3h3.5v3.5h-3.5zM161 223.3h3.5v3.5h-3.5z" fill="#24843c"/>
<path d="M173 223.3h3.5v3.5h-3.5z" fill="#0c8448"/>
<path d="M152 232.3h3.5v3.5h-3.5zM155 232.3h3.5v3.5h-3.5zM158 232.3h3.5v3.5h-3.5zM149 235.3h3.5v3.5h-3.5zM152 235.3h3.5v3.5h-3.5zM155 235.3h3.5v3.5h-3.5zM158 235.3h3.5v3.5h-3.5zM161 235.3h3.5v3.5h-3.5zM164 235.3h3.5v3.5h-3.5zM149 238.3h3.5v3.5h-3.5zM161 238.3h3.5v3.5h-3.5zM164 238.3h3.5v3.5h-3.5z" fill="#24a80c"/>
<path d="M161 232.3h3.5v3.5h-3.5zM164 232.3h3.5v3.5h-3.5z" fill="#24a818"/>
<path d="M167 232.3h3.5v3.5h-3.5z" fill="#189c18"/>
<path d="M152 238.3h3.5v3.5h-3.5zM155 238.3h3.5v3.5h-3.5zM158 238.3h3.5v3.5h-3.5zM152 241.3h3.5v3.5h-3.5zM155 241.3h3.5v3.5h-3.5zM158 241.3h3.5v3.5h-3.5zM161 241.3h3.5v3.5h-3.5zM164 241.3h3.5v3.5h-3.5zM155 244.3h3.5v3.5h-3.5zM158 244.3h3.5v3.5h-3.5zM161 244.3h3.5v3.5h-3.5z" fill="#24a800"/>
<path d="M167 238.3h3.5v3.5h-3.5z" fill="#18a80c"/>
<path d="M170 238.3h3.5v3.5h-3.5zM167 241.3h3.5v3.5h-3.5zM170 241.3h3.5v3.5h-3.5zM167 244.3h3.5v3.5h-3.5zM170 244.3h3.5v3.5h-3.5zM170 247.3h3.5v3.5h-3.5z" fill="#18b40c"/>
<path d="M173 241.3h3.5v3.5h-3.5zM176 241.3h3.5v3.5h-3.5zM179 241.3h3.5v3.5h-3.5zM173 244.3h3.5v3.5h-3.5zM176 244.3h3.5v3.5h-3.5zM179 244.3h3.5v3.5h-3.5zM182 244.3h3.5v3.5h-3.5zM185 244.3h3.5v3.5h-3.5z" fill="#0cb40c"/>
<path d="M164 244.3h3.5v3.5h-3.5zM158 247.3h3.5v3.5h-3.5zM161 247.3h3.5v3.5h-3.5zM164 247.3h3.5v3.5h-3.5zM161 250.3h3.5v3.5h-3.5zM164 250.3h3.5v3.5h-3.5zM164 253.3h3.5v3.5h-3.5z" fill="#24b400"/>
<path d="M167 247.3h3.5v3.5h-3.5zM167 250.3h3.5v3.5h-3.5z" fill="#18b400"/>
<path d="M173 247.3h3.5v3.5h-3.5zM176 247.3h3.5v3.5h-3.5zM179 247.3h3.5v3.5h-3.5zM182 247.3h3.5v3.5h-3.5zM170 250.3h3.5v3.5h-3.5zM173 250.3h3.5v3.5h-3.5z" fill="#0cc00c"/>
<path d="M176 250.3h3.5v3.5h-3.5zM179 250.3h3.5v3.5h-3.5z" fill="#00c000"/>
<path d="M167 253.3h3.5v3.5h-3.5z" fill="#18c000"/>
<path d="M170 253.3h3.5v3.5h-3.5zM167 256.3h3.5v3.5h-3.5z" fill="#0cc000"/>
<path d="M70.4 100.4h0M143.4 233.4h0M113.1 128.1h0M171.3 228.1h0M96.7 100.1h0M161.3 208.6h0M94 153.8h0M109.8 141.3h0M131.2 110.6h0M207.9 210.6h0M207 213.9h0M89 83.4h0M121.2 119.9h0M85.5 68.6h0M78.3 135.7h0M141.7 149h0M139.2 130.7h0M74.3 113.8h0M181 215.5h0M92 106.6h0M132.3 126.1h0M86.8 94.8h0M127.6 146.3h0M159.4 200.2h0M69.2 62.6h0M185.4 227.5h0M166.5 238.1h0M140.5 122.4h0M185.3 259.8h0M74.5 132.4h0M193 256.2h0M100.2 144.5h0M117.4 106.2h0M164.9 183.6h0M135.5 114.2h0M97.2 97.2h0M122.2 110.9h0M190.3 268.4h0M193.4 204.6h0M108.3 88.4h0M69.1 70.4h0M115.8 91.6h0M177 195.8h0M69.8 90.4h0M79.6 114.2h0M115.6 115.6h0M156.9 217.3h0M170.8 249h0M162 236.6h0M123.1 217.7h0M108.6 120.9h0M76.4 68.2h0M81.2 85.2h0M127.3 100.1h0M181.4 261.3h0M103.5 98.7h0M165.8 109.3h0M166.2 111.6h0M84.7 77.9h0M198.1 257.4h0M190.5 250.8h0M206.5 192.1h0M89.4 101.2h0M97.1 108.6h0M162.5 235.8h0M188.5 225.2h0M181.6 272.4h0M89.6 141h0M156.4 114h0M194.2 266.3h0M186.3 197h0M185.8 273.5h0M93.1 68.7h0M92.2 115.2h0M108.7 164.1h0M179 257.8h0M199.6 239.1h0M100.4 91.8h0M100.1 121.7h0M117.2 164.3h0M94.3 130.2h0M80.2 74.9h0M198.3 248.3h0M133.5 107h0M188.2 264.3h0M207 213.4h0M105.8 123.6h0M182 254.8h0M182.6 223.1h0M125 133.4h0M123.3 124.2h0M82.8 87.9h0M84.1 110.8h0M92.8 69.5h0M112.1 86h0M118.7 124.2h0M89.8 132.1h0M193.4 216.7h0M117.4 111.2h0M65.5 103.6h0M186 240.6h0M87.9 101.5h0M155.2 225.2h0M105.6 137.3h0M190.4 215.5h0M74.9 58.6h0M123.3 118.2h0M177.2 214.4h0M215.3 193.8h0M157.7 227.9h0M121 132.2h0M130.4 157.5h0M94.3 94.8h0M172 243.8h0M149.8 228h0M99.9 91.9h0M85.3 88.4h0M100 91.5h0M113.3 148.3h0M113.4 89.7h0M173.3 258.1h0M99.4 101.7h0M106.6 93.5h0M175.5 232.2h0M80.9 97.6h0M190.9 228.8h0M137 106.4h0M132.4 130.4h0M188.8 262.2h0M127.4 130.6h0M75.3 50.9h0M106.9 99.1h0M94.9 126.7h0M196.8 255h0M185.8 172.9h0M85.9 112.9h0M182.2 257.7h0M173.9 248.6h0M126 203.3h0M201.5 189.4h0M122.4 126h0M102.1 144h0M167.5 211.3h0M78.5 107.7h0M127.4 119.7h0M77.5 97.8h0M198.8 241.6h0M144.2 221.5h0M196.7 189.5h0M114.4 90.1h0M79.3 116.4h0M188.1 217.3h0M68.6 71.4h0M128.5 130.1h0M183.2 261h0M163.2 229.3h0M78.9 100.8h0M136.3 187.4h0M87.5 73h0M155.9 200.8h0M201.9 244.6h0M102.8 93.3h0M173.8 113.9h0M118 127.4h0M151 120.4h0M165.4 103.3h0M158 206.4h0M93.4 152.7h0M136.3 121.6h0M173 221h0M195.1 250.4h0M76.5 94h0M204.5 191.3h0M75.2 94.7h0M69.8 114h0M76.2 82.6h0M140.9 122.2h0M186.9 238h0M177.9 264.3h0M191.7 255.1h0M174.7 219.4h0M126.4 215.1h0M210.1 187.3h0M72.1 140.9h0M149.8 209.6h0M167 218.3h0M138.9 215.8h0M105 135.3h0M76.4 82.7h0M166.2 220.7h0M194.8 236.5h0M104.6 96.6h0M86.3 69.8h0M124.5 108h0M140.8 156.5h0M69.6 74.8h0M100.8 121.5h0M194.4 259.6h0M195.3 250.5h0M160 138.2h0M77.6 96.3h0M183.2 266.7h0M166.7 257.1h0M126.4 158.9h0M176 215.2h0M129.4 135.2h0M65.4 123.5h0M82.1 103.7h0M110 105h0M99.6 140.7h0M184.5 253.4h0M169.5 243.6h0M72.4 50.7h0M88.7 84.1h0M67.1 110.6h0M114.3 99.6h0M142.9 225.5h0M198.2 233.3h0M69.1 118.7h0M94.7 100.1h0M67.2 98.9h0M127.8 143.4h0M192.8 254.3h0M77.5 125.6h0M127.9 105.7h0M117.6 106.7h0M156.8 144.9h0M111.6 121.6h0M90 81.5h0M201 251.5h0M109.1 102h0M153.3 123.5h0M170.3 246.5h0M88.7 74.8h0M161.5 243.1h0M90.2 79.6h0M78.1 101h0M121.5 128.3h0M196.9 260.3h0M73 48.2h0M212.3 196.6h0M76.2 77.7h0M171.2 261h0M157.8 126.3h0M138.1 125h0M88 79.4h0M189.6 241.9h0M169.1 241.4h0M153.2 138.6h0M111.6 112.3h0M194.3 266.7h0M208.4 196.6h0M213.4 197.8h0M112.6 145h0M135.2 120.8h0M124 106.9h0M85.2 102.2h0M109.1 106.1h0M185.6 239.6h0M203 226.5h0M107.7 95.4h0M192.6 199.3h0M172.5 240.2h0M184.3 261.5h0M95.6 85.4h0M118.3 145.3h0M104 85.2h0M170.6 225.7h0M88.4 69.1h0M83.7 158.2h0M74.5 112h0M125.3 123.1h0M156.3 142.3h0M178.6 204h0M186.6 212.3h0M96.4 99.8h0M205.1 226.1h0M69.8 63h0M175.3 230.9h0M76.9 58.8h0M187.1 255.2h0M191.1 266.6h0M116.7 145.3h0M68.3 101.8h0M98.4 134h0M140.6 226.9h0M141 152.6h0M152.3 242.9h0M162.9 224.4h0M129.6 103.3h0M177.5 267.4h0M69.8 56.2h0M125.3 123.8h0M100.9 115.2h0M72.1 96.6h0M93 117.4h0M164.4 246h0M102 123.7h0M174.8 244.9h0M62.2 104.6h0M178.8 262.1h0M136.1 199.6h0M128.6 176h0M101.7 114.9h0M208.7 204.4h0M158.5 112.4h0M150.7 122h0M188.8 225.6h0M113 122.3h0M196.9 249h0M155.7 183.4h0M173.5 248.9h0M165.9 195.3h0M211 191.3h0M113.5 112.5h0M196.7 208.2h0M122.4 95.3h0M191.4 270.5h0M70.5 60.1h0" stroke="#00cd00" stroke-width="2.2" stroke-linecap="square" fill="none"/>
<path d="M178.1 190.4h0M178.2 121.2h0M155.8 121.4h0M124.5 156.8h0M89.5 158h0M174.2 161.1h0M98.8 146.9h0M138.2 204.1h0M166.2 170.6h0M186.1 170.7h0M140.3 158.8h0M84.5 166.3h0M132.6 107.7h0M129.4 148.3h0M99.3 195.2h0M117.4 210.8h0M119.2 166.4h0M146.2 153h0M179.9 169.4h0M109.1 159.7h0M163.7 136h0M186.7 143.6h0M148.6 238.6h0M161.6 157.2h0M134 213.6h0M167 144.2h0M84.7 186h0M184.6 130.2h0M80 198.4h0M191.5 119.8h0M203.4 147.6h0M94.7 179.2h0M150 152h0M105.3 192.4h0M182.6 174.6h0M102 187.1h0M97.8 184.9h0M162.5 243.7h0M103 212.3h0M93.3 180.8h0M201.3 165.8h0M94.3 168.9h0M162.6 117.7h0M216 178.6h0M204.7 158.4h0M122.6 168.5h0M173.8 208.1h0M122.2 210h0M93.1 194.5h0M202.1 175.2h0M138.7 164.3h0M217.4 151.5h0M169.2 122.6h0M104.5 196.4h0M144.4 199.4h0M137.3 208.6h0M168.7 168.4h0M214.3 135.3h0M174 168.8h0M132.3 210.8h0M105.2 163.8h0M239.7 136.1h0M106.6 184.1h0M240.8 124.1h0M78.6 167.4h0M221 134.6h0M90.4 208.4h0M113.7 177.7h0M155.4 184.9h0M83.5 180.3h0M166.4 239.3h0M156.2 110.9h0M151.2 133.5h0M178.2 152.7h0M132.6 139.4h0M168.4 164.4h0M246.1 118.6h0M166.4 184.7h0M118.5 196.4h0M242.9 118.6h0M164.5 163.2h0M111 147.9h0M191.1 159.5h0M121.3 213.2h0M225.9 122.5h0M107.5 155.3h0M151.3 177h0M195.3 134.4h0M146.7 221.9h0M167.9 105.9h0M208.5 143.6h0M234.4 129.6h0M175 223.9h0M200.4 179.9h0M117.7 181h0M93 186.6h0M150.8 158.9h0M145.6 117.1h0M198.3 161.5h0M112.1 196.9h0M138.2 116.2h0M176.9 149.6h0M107.8 178.3h0M207.2 155h0M168.7 222h0M203.1 136.3h0M128.1 179.8h0M168.7 226.2h0M121.2 166.7h0M160.1 232h0M238.8 125.3h0M236.6 131h0M79.6 183h0M232.7 130.5h0M111 175.3h0M137.2 193.5h0M104.5 180.2h0M177.5 156.8h0M99.8 169.7h0M135.9 195.8h0M155.2 156.1h0M172.6 156.3h0M134.2 208.5h0M147.7 169.5h0M198.3 156.9h0M137.8 220.7h0M177 160h0M217.3 150.6h0M196.4 169.7h0M127.7 209.2h0M197.1 132.5h0M197.8 136.7h0M141.8 165.7h0M115.2 150.7h0M91 186.6h0M87.5 168.3h0M181.8 216.5h0M170.2 123.9h0M112.1 196.6h0M179.7 154.4h0M138 122.7h0M134.2 194.6h0M122.1 163.4h0M194.6 139.7h0" stroke="#ff0000" stroke-width="2.2" stroke-linecap="square" fill="none"/>
<path d="M157 219.2h0M204.5 181.4h0M81.7 167.1h0M171.4 195.7h0M170 180.6h0M153.9 215.6h0M194.3 190.4h0M106.5 182.1h0M82.1 152.1h0M127.9 210.7h0M95 157.4h0M201.7 208.8h0M201.4 175.5h0M151.1 173.2h0M179.8 175.5h0M209.9 215h0M80.7 122h0M175 176.8h0M126.3 212.5h0M169.2 180.7h0M158.6 160.4h0M198.7 192h0M113.5 180.5h0M175.4 190.5h0M163.9 119.6h0M160.7 227.6h0M111 132.8h0M157.4 140.5h0M129.8 129.6h0M154 133.9h0M57.5 99.5h0M197.5 203.7h0M117.1 161.9h0M159.4 145.7h0M180.4 198.6h0M164.6 153.8h0M177 170.1h0M172.7 169.3h0M130.1 214.9h0M78.2 148.6h0M154.2 110.6h0M114.9 155.8h0M185 194.5h0M139 207.3h0M170.1 201.1h0M145.5 183.2h0M134.1 103.9h0M202.8 176.4h0M185.4 166.4h0M62.1 102.1h0M143.3 144h0M175.7 172.4h0M198.3 216.6h0M132.8 144.1h0M211.1 200.7h0M200.8 201.7h0M139.8 178.4h0M122.5 203.5h0M193.4 222.1h0M189.5 187.7h0M173.6 210.6h0M159.6 187.3h0M189.4 174.4h0M163.3 202.5h0M103 149.8h0M96.6 134.3h0M155 180.4h0M140.1 199.7h0M185.4 192h0M184.8 193.8h0M134 223.3h0M192.1 214.1h0M78.9 147.3h0M125.8 192.9h0M141.9 151.3h0M172.1 216.5h0M83.7 166.8h0M205.2 186.9h0M86.8 151.5h0M93.2 126.4h0M127 154.2h0M115.1 171.6h0M162.9 191h0M156.2 124.4h0M147.4 171.7h0M67.9 127.8h0M100.6 133.4h0M176.6 201.6h0M196.1 201.9h0M193.8 189.2h0M80.3 129.9h0M220.2 178.8h0M209.4 196.6h0M106.3 132.8h0M62.6 113h0M116.8 144.3h0M117.1 195.4h0M156.3 192.8h0M109.4 136.4h0M166.9 106.8h0M130.8 210.8h0M156 212.6h0M151.8 189.5h0M195.9 170.1h0M121.6 120h0M110 141.2h0M196 209.5h0M185.8 238.2h0M66.4 103.1h0M143.6 169h0M84.7 143.3h0M88 135.9h0M150.4 180.3h0M134.6 181h0M180.2 210.1h0M77.6 149.7h0M148.2 209h0M136.5 128.3h0M200.8 213.9h0M149.1 167.1h0M111.2 154.7h0M62.8 115.4h0M165.6 172.6h0M188.3 186.5h0M149.8 207.5h0M175.2 192.2h0M97.3 191.7h0M202.1 224.4h0M71.8 132.1h0M193.3 181.6h0M155.7 221.8h0M186 192.4h0M189.2 207.9h0M65.9 109.5h0M151 160h0M150.1 222.2h0M142.4 137.8h0M180 209.9h0M82.7 123.3h0M148.7 197.5h0M97.2 134.6h0M126.5 163.1h0M109.7 141.6h0M203.9 234.8h0M90.1 125.7h0M150.7 195.4h0M142.4 165.1h0M113.5 148h0M171.7 185.4h0M133.5 191.4h0M85.8 154.9h0M209.1 190.4h0M174.5 182.6h0M127.9 146.8h0M86.2 141.9h0M182.2 229.4h0M172.4 142.5h0M154.9 150h0M178.4 170.7h0M157 191.1h0M92.7 155.1h0M180.6 186.7h0M169.5 188.8h0M134.7 126.7h0M195.9 184.1h0M158.8 205.9h0M170.5 214.9h0M148.6 152.5h0M101.6 189.8h0M99.9 103.5h0M150.4 215.7h0M77.5 108.6h0M155.9 185h0M185.3 210.6h0M151.5 108.1h0M179.8 176.4h0M209.9 204.3h0M203 192.4h0M86.2 116.5h0M183.2 175.6h0M149.6 214.6h0M101.6 128.5h0M100 111.7h0M86.4 105.5h0M205.3 206.8h0M164.9 165.3h0M186 220.8h0M160.8 211.4h0M190.2 165.3h0M176.8 212.3h0M144.4 180.5h0M181.4 186.2h0M161.9 177.8h0M63.2 107h0" stroke="#0000ff" stroke-width="2.2" stroke-linecap="square" fill="none"/>
<path d="M210 183.8h0M102.4 171h0M230.3 146.1h0M226.7 142.3h0M186.8 154.2h0M96.8 179.8h0M221.4 145h0M114 197.8h0M102.3 183.6h0M87.6 184.2h0M79.6 153.2h0M200.5 153.6h0M105.2 183.4h0M213 161.7h0M219.7 150.6h0M97.7 172.9h0M158 178.3h0M221.6 174.1h0M189.9 162.7h0M87.5 176.8h0M132.6 149.7h0M229.6 136.3h0M206.3 163.1h0M211.4 155.9h0M132.7 199.5h0M147.6 154.4h0M240.1 131.6h0M90.5 179.6h0M206.1 158.2h0M97.7 160.3h0M170.6 168.9h0M147.7 146.2h0M86.8 207.1h0M149.8 147.9h0M166.1 220.9h0M127.9 201.3h0M144.7 154.3h0M178.5 140.8h0M81.9 167.9h0M210.3 130.4h0M122.5 179h0M204.5 160.5h0M183.9 167.3h0M176.8 182.1h0M212.3 156.5h0M81.2 170.1h0M93.8 164.9h0M94.2 170.6h0M151.2 177h0M195.1 174.7h0M97.5 171.5h0M235.9 144.3h0M79.4 164.1h0M122.7 168.3h0M164.3 176.5h0M232.9 136.7h0M142.4 184h0M192.7 160.8h0M203.6 178.6h0M225.3 155.4h0M79.3 171.1h0M82.3 172.9h0M108 167.3h0M207.4 145.7h0M156.8 167.4h0M169.2 191.8h0M132.5 156.7h0M78.8 157.2h0M111.8 199.3h0M130.2 198.1h0M203.5 161.4h0M223.6 157.7h0M80.7 172.6h0M133.7 158.6h0M230.8 156.2h0M102.8 175.8h0M100.2 188.2h0M135.9 193.4h0M97.3 189.3h0M80.6 157.8h0M115.3 160.5h0M232.7 113.7h0M217.7 144.4h0M178.4 175.1h0M214 140.2h0M170.6 152h0M204.9 160.7h0M99.9 206.1h0M155.3 187h0M223.8 161.1h0M79.6 161.7h0M167.3 190.4h0M96 186.5h0M198.5 171.3h0M209.2 155.6h0M218.6 162.5h0M94.2 186.3h0M101.4 209.7h0M213.1 169.4h0M143.5 155.3h0M210 148.3h0M196.6 138.9h0M110 170.2h0M117.8 194.7h0M160.6 170.2h0M142.5 190.7h0M78.3 193.9h0M201.9 178.3h0M152.8 174.9h0M157.8 190h0M108.7 192.9h0M180.4 139.7h0M98.5 192.4h0M112 192.5h0M150.7 208.3h0M127 163.4h0M164.4 155h0M122 157.9h0M92.5 163.4h0M80 190h0M208.9 171.4h0M109.8 211.9h0M83.5 201.6h0M89.6 179h0M202.2 143.7h0M83 190.8h0M144.5 150.7h0M168.6 160.6h0M217.2 173.1h0M157.8 209.6h0M182.7 153.6h0M89 161.6h0M205.9 174.1h0M91.5 196.3h0M140.3 144.4h0M217.6 147.1h0M106.6 200.6h0M114.4 169.6h0M96.3 196.8h0M131.3 173.6h0M94.1 205h0M213.4 178.9h0M173.7 161.1h0M80.6 175.2h0M121.1 200.4h0M148.6 127.3h0M165.5 172.5h0M107.9 209.7h0M211.2 153.6h0M161.9 159.2h0M140.8 151.8h0M121 166.1h0M209.1 168.5h0M218.2 174.4h0M131.1 131.4h0M129 162.2h0" stroke="#ff00ff" stroke-width="2.2" stroke-linecap="square" fill="none"/>
<path d="M173.2 248.1h0M184.7 264.2h0M83.2 153.7h0M85.4 81.5h0M108.5 93.1h0M78.2 55.2h0M96.9 85.4h0M181.2 226h0M112.8 146.9h0M122.5 140.9h0M68.4 119.3h0M123.4 107.7h0M71.9 118.7h0M198 214h0M176.8 211.3h0M174.6 260.6h0M120.5 164.3h0M172.5 199h0M176 252.9h0M151.4 222.6h0M101.1 128.5h0M117.2 128h0M138 132.5h0M170.8 194.1h0M109.2 166.4h0M92.7 71.7h0M193.6 238.2h0M102 142.9h0M127.1 120.9h0M186.5 221.9h0M133.3 117.6h0M146.5 135.7h0M194.3 263.9h0M126.3 128.4h0M155.7 240h0M199.5 235.1h0M125.8 112.4h0M176.1 222.5h0M127.6 214.8h0M80.7 66.6h0M93 110.8h0M199.2 210h0M59.7 98.4h0M105.7 114.9h0M96 72.8h0M94.9 139.4h0M144.2 121.5h0M182.4 241.4h0M87.2 146.5h0M201.9 218.5h0M98.2 115.1h0M155.1 230.4h0M92.9 71.2h0M69.2 58.3h0M158.5 220.4h0M143.1 210.8h0M129.2 113.7h0M104.9 98.7h0M84.7 118.3h0M79.7 55.7h0M73.9 100.3h0M211.5 189.3h0M159.8 246h0M203.2 244.7h0M95.4 170.4h0M70.3 116.9h0M187.6 248.6h0M132.3 123.9h0M116.9 139.2h0M93.5 93h0M71.7 132.7h0M101.3 111.3h0M155.2 199.5h0M95.1 88.5h0M201.1 221.7h0M184.7 224.6h0M142.8 125.2h0M109.5 143.2h0M102.2 104.6h0M200.2 191.2h0M209 188.2h0M84.6 94h0M90.4 83h0M153 226.4h0M137.1 215.5h0M131.9 127.5h0M110.7 116.1h0M122.4 110.6h0M131 104.5h0M115 119.5h0M70.4 77.6h0M156.4 232h0M92.8 131.8h0M100 164.6h0M92.4 157.8h0M118.5 110.4h0M72 75h0M137.8 136.4h0M78.6 76.7h0M156.2 171.8h0M97.3 90.8h0M212.7 186.1h0M87 115h0M71.6 114.8h0M91.1 136.9h0M75.9 95.2h0M79.8 69.3h0M167.5 226.4h0M196.2 267.1h0M94.2 135.2h0M181 258.7h0M189.3 257.7h0M100.3 117.6h0M76 139.9h0M161.9 223.6h0M127.1 128h0M96.9 85.4h0M166.8 105.3h0M179.6 218.1h0M193.9 265.5h0M136.3 223.9h0M96.7 148.6h0M92.2 128.9h0M128.8 116.7h0M119.6 128.8h0M131.7 130.5h0M176 254.9h0M102.6 112.1h0M128.5 133.5h0M131.9 109.1h0M208 219.1h0M123.4 213.8h0M185.7 249.3h0M194.2 263.7h0M154.2 230.8h0M72 85.7h0M107 96.3h0M85.2 79.2h0M79.8 55.4h0M138.1 211.1h0M133 202.8h0M59.9 101.7h0M168.1 252.9h0M196.2 222.2h0M127.5 114.7h0M76 119.2h0M117.8 119.4h0M93.2 77.5h0M194.6 252.1h0M124.8 205.8h0M92.9 111.7h0M103.2 92.7h0M91.1 84.8h0M68.8 64.4h0M111.5 89.7h0M70.4 73.3h0M190.6 274h0M177.4 268.8h0M84.7 124h0M85.2 97.8h0M110.7 109.1h0M172 208h0M74.1 127.3h0M94.2 169.2h0M77.5 75.3h0M101.8 115.2h0M111.8 109.3h0M156.1 229.4h0M142.3 121.4h0M121.4 142.7h0M113.7 108.3h0M123.2 158.4h0M160.2 247.3h0M132.8 146.7h0M140.8 151.3h0M185.6 266h0M132 131.2h0M116.9 99.9h0M166.4 116.8h0M197 221.9h0M127.4 139.4h0M122 113.8h0M125.3 140h0M92 138.2h0M198.6 200.9h0M121.9 149.9h0M186.3 246.8h0M149.4 130.1h0M189.6 235.8h0M120.6 108.4h0M115.8 121h0M188.4 242.4h0M142.3 131.1h0M161.5 249.9h0M178.6 262.3h0M138.3 125.7h0M95.2 134.6h0M112 86h0M186.4 248.5h0M181.1 266h0M191.2 230.1h0M109.5 103.5h0M91.4 88.5h0M111.7 121.7h0M127.3 204.2h0M75.5 50.3h0M72.8 75.9h0M188.9 234.5h0M175.1 245.2h0M67.7 116h0M119.4 187.7h0M160.6 240.5h0M115.1 96.5h0M121.7 121.4h0M199.5 208.2h0M139.2 112.4h0M99.3 141.3h0M139.7 115.1h0M190.7 260.4h0M135.1 119.4h0M90.7 158.8h0M127.7 111.8h0M183.7 271.1h0M147.4 120.9h0M82.9 94.3h0M90.7 87.7h0M118 150.8h0M168.2 247.8h0M124.8 124.8h0M190.1 227.9h0M100.9 119.9h0M73.1 118.7h0M208.8 209.3h0M119.4 116.3h0M90.1 112.8h0M82.7 147.3h0M151.3 163.5h0M84.4 62.7h0M96.7 142h0M91.4 87.8h0M194.2 262.8h0M193 253.6h0M181.1 255.1h0M75.2 94.6h0M192.2 216.5h0M182.7 230.4h0M170.1 218.2h0M203.9 218.4h0M164.8 218.9h0M187.9 233h0M85.4 147.4h0M101.3 89.5h0M142.8 215.6h0M143 108h0M136.2 218.2h0M130.3 122.2h0M94.5 90.7h0M94.5 84.9h0M113 159.3h0M108.1 122.2h0M81.1 81.3h0M148.4 226.1h0M116.4 103.2h0M187 227.3h0M197.7 233.5h0M152.8 231.5h0M94.3 99.9h0M98.5 151.9h0M106.3 119.2h0M81.3 83.1h0M174.8 234.7h0M177.5 266.1h0M113.7 121.6h0M181.6 254.3h0M189.4 215.7h0M155.4 241.9h0M203.9 232.2h0M102.4 115.8h0M118.5 114.8h0M157.5 246.8h0M99 78.4h0M114.2 149h0M182.8 268.1h0M95.6 101.1h0M105.4 118.6h0M101.4 127.7h0M201.5 212.5h0M93.6 103.2h0M180.3 241.6h0M160.7 233.6h0M110.4 152.1h0M101.9 109.7h0M125.9 103h0M64.2 97.9h0M188.1 254.4h0M112.8 133.6h0M135 114h0M188.5 257.9h0M118.9 142.5h0M84.6 86.5h0M142.4 231h0M98.2 154.1h0M139.3 164.5h0M127.2 126h0M99.1 81.2h0M74 85.8h0M158.8 242h0M185.6 257.5h0M202.5 213.7h0M188 245.3h0M87.9 103.4h0M70.8 78.8h0M109.3 96.3h0M64.2 100.4h0M119.4 146.6h0M168.7 220.5h0M87 81.6h0M168.7 234.1h0M69.4 72.6h0" stroke="#00cd00" stroke-width="2.2" stroke-linecap="square" fill="none"/>
<path d="M208.6 138.2h0M134.9 180.9h0M96.1 192.6h0M210.9 142.2h0M146 159.3h0M131 218.1h0M121.3 176.1h0M139.9 212h0M166.2 102.9h0M158.6 226.5h0M90.9 203.8h0M217.8 160.1h0M243 119.5h0M113.3 206.6h0M97.3 204.5h0M144.1 127.1h0M82.1 180.7h0M170.7 140.9h0M232.5 131.1h0M81.7 171h0M188.4 155.7h0M151.3 158.4h0M102.7 193h0M166.8 172.5h0M188.6 157.2h0M219.1 124.8h0M139.8 180h0M97 171.9h0M86.1 162.6h0M182.9 177.2h0M90.8 167.3h0M199.3 146.9h0M207.4 180.8h0M158.8 116.6h0M165.5 118.4h0M178.2 120h0M103 211.6h0M184.1 156.1h0M233.4 122.1h0M139.8 153h0M183.4 173.3h0M211 153.6h0M168 132.3h0M221.4 132.7h0M141.5 221.6h0M173.4 176.4h0M113.9 175.9h0M245.1 120.5h0M147.9 153.3h0M243.2 129.2h0M102.6 199.9h0M176 170.9h0M234.5 119.7h0M165.9 155.2h0M196.3 165.5h0M121.5 212.4h0M203.9 149.9h0M195.9 146.1h0M147.3 236.5h0M86.6 184.1h0M145.8 141.4h0M209.2 173h0M197 148.7h0M93.6 211.5h0M185.1 111.9h0M141.8 129.6h0M138.4 174.1h0M195.6 156.6h0M214.5 136.9h0M240.1 124.9h0M130.7 129h0M243.7 115.2h0M155.8 157.5h0M181.8 170.7h0M163.7 152.9h0M136 203.5h0M129.5 173.9h0M240.1 121.5h0M148.6 205.4h0M162.3 162.9h0M233.3 145h0M134.1 143.2h0M105.3 188.1h0M225.9 153h0M165.8 127.2h0M119.9 178.7h0M205.5 118.4h0M102.8 179.7h0M146.1 159.7h0M190.1 168.2h0M226.8 139.5h0M166.2 156.4h0M121.3 188.6h0M157.4 164.1h0M243.9 124.4h0M138.4 116.6h0M86.1 154.5h0M201.8 170.2h0M171.8 153.3h0M167.5 209.8h0M177.4 145.5h0M109.7 181.5h0M132.4 204.2h0M152.5 197.5h0M213.7 150.3h0M96.6 198.5h0M101.7 169.5h0M157.8 150.3h0M101.6 189.7h0M162.4 148h0M104.4 213.4h0M156.8 156.6h0M163.5 165.9h0M108.7 194.7h0M104.3 191.4h0M200.1 177.6h0M103.6 207.4h0M189.4 148.4h0M230.9 119.3h0M161.5 144.1h0M187.5 115.3h0M100.9 189.5h0M101.7 167.5h0M176.9 155.8h0M235.8 122.9h0M133.5 105.4h0M133.1 171.2h0M140.2 141.8h0M159.2 164.9h0M197.5 148.2h0M198.5 133.6h0M231.1 120.4h0M160.5 136h0M234.9 129h0M122.4 182.7h0M240.6 129.1h0M186.4 152.2h0M187.4 159.5h0M110 200.2h0M184 145.8h0M161.7 252h0M161.7 135.4h0M131.3 111.4h0M119 176.4h0" stroke="#ff0000" stroke-width="2.2" stroke-linecap="square" fill="none"/>
<path d="M129.7 208.5h0M188 201.3h0M189.8 194h0M100.1 127.7h0M159.4 173.5h0M78.2 139.6h0M127.7 200.3h0M136 186.4h0M120.2 139.9h0M120.6 152.1h0M132 182.7h0M158.8 179.8h0M103.7 160.4h0M220.9 162.5h0M140.1 201.6h0M72.4 108h0M90.3 129.1h0M216.2 184.2h0M184.4 191.4h0M64.7 108h0M146.7 208.6h0M71.3 138.8h0M201 209.7h0M91.9 130.4h0M87.1 138.5h0M185.8 222.8h0M139.3 120.3h0M149.1 116.1h0M70.5 109.6h0M119.4 151h0M79 125.2h0M99 153.1h0M202.8 187.1h0M146.8 192.1h0M72.8 145.1h0M188.9 176.1h0M97.9 162.7h0M75.8 136h0M150.1 110.6h0M170 219.8h0M94.1 166.6h0M178.7 205.8h0M131.6 119.5h0M184.5 191.3h0M154.8 184h0M82.5 135.5h0M125.5 148.6h0M199.4 195.4h0M176.4 199.7h0M64 107.7h0M79.7 154.9h0M171.3 166.1h0M108.7 146.7h0M104.8 152.7h0M90.3 131.4h0M90.5 144.8h0M87.7 102.8h0M195.4 193.3h0M161.1 176.4h0M155.4 150.5h0M146.3 220.5h0M161.5 163.9h0M72.8 134.4h0M145 217.5h0M147.1 185.9h0M179.9 209.8h0M88.5 118.1h0M157.8 214.3h0M87.9 157.9h0M132.2 109.3h0M96 134.4h0M190.8 189h0M141.6 168.1h0M114.8 193.5h0M170.1 252.7h0M73.9 111h0M183.7 214.7h0M62.7 104h0M66.3 120.1h0M79.9 167.8h0M104.9 159h0M144.5 193.4h0M204.3 168.4h0M135 186.3h0M82.9 105.3h0M149.8 183.6h0M190.4 208.3h0M216.8 190h0M67.6 124.7h0M85.8 139.6h0M102.1 171h0M84.4 150.2h0M74.7 121.3h0M124 150.1h0M115.7 167.5h0M149.2 216.8h0M74 142.2h0M183 179.3h0M124.3 185.1h0M179.7 169.5h0M118.9 148.2h0M179.2 207.8h0M188.4 209.3h0M170.3 200.4h0M193.7 218.2h0M91.4 125.7h0M183.5 188.6h0M130 148.5h0M203.9 168.2h0M59.2 105.6h0M177.7 179.7h0M182.1 206.4h0M110.2 124.6h0M198.7 185.1h0M90.1 139.7h0M205.6 213.4h0M118.3 134.8h0M206.3 216.1h0M203.7 187h0M111.7 141.8h0M197.4 173.4h0M156.4 165.9h0M143.6 117.9h0M144.7 178.8h0M206.3 211.1h0M96.3 141.9h0M181.8 186.3h0M200.4 205.5h0M69.7 115.5h0M94.7 144.3h0M161.6 172h0M166.1 216.2h0M116.9 158.6h0M70.6 115.7h0M152.7 202.9h0M159.1 159.8h0M131.2 146.8h0M76.2 113.9h0M79 152.3h0M129.5 127.1h0M180.8 218.3h0M173.2 228.8h0M173 207.1h0M130.6 211.7h0M136.2 175.8h0M146.1 218.2h0M206.2 204h0M189 189.7h0M205.8 205.1h0M209.1 208h0M107.9 179.6h0M207.4 226.3h0M167.5 201.3h0M164.3 185.1h0M205.2 210.4h0M174.9 191.3h0M176.7 107.6h0M112.2 97.5h0M177.6 189.8h0M185 190.8h0M146.9 214h0M98.2 141.6h0M79.9 146.4h0M80.5 135.7h0M176.6 225.8h0M161.7 198.1h0M173.1 188.4h0M202.7 207h0M146.7 123.1h0M167.7 113h0M123.6 117.9h0M185.8 184.8h0M68.9 109.9h0M220.4 177.1h0M155.4 185.2h0M141.6 216.4h0M112.5 151.6h0M178.8 200.4h0M153 108.8h0M219.4 178.4h0M93.1 136.9h0M81.9 124.9h0M204.2 189.9h0M129.4 114.7h0M168.3 222.9h0M72.2 115.4h0M74.5 127.9h0M145.1 187.5h0M174.2 105h0M78.6 156.7h0M101.6 125.5h0M210.7 207h0M149 110.8h0M184.6 200.3h0" stroke="#0000ff" stroke-width="2.2" stroke-linecap="square" fill="none"/>
<path d="M84.5 163.8h0M173.9 162.5h0M140.4 208.5h0M127.6 157.3h0M219 171.9h0M224.1 146.1h0M169.8 170.7h0M148.3 171.3h0M147.1 150.8h0M178.7 157.3h0M169.7 160.6h0M195.4 145.6h0M134.5 217.4h0M122 164.1h0M149.8 149.7h0M200.4 132.5h0M110.9 184.9h0M215.7 171h0M201.5 168.4h0M203.9 154.4h0M173.6 175.1h0M169.8 184.3h0M136.5 172h0M111.2 188.7h0M136.9 198.4h0M151.3 208.5h0M220.5 178h0M82 151.8h0M198.6 176.1h0M183 159.1h0M198.1 178.3h0M170.8 179h0M82.9 166.4h0M229.8 145.2h0M220.5 166.1h0M145.7 170.8h0M152.8 151.9h0M232.3 152.5h0M95.5 155.2h0M217.7 174h0M99.6 193.3h0M123.4 186.2h0M114.8 180.2h0M142.6 214h0M165.1 147.5h0M129.6 132.3h0M119.3 196.2h0M131 211.5h0M101.6 172.6h0M209 175.7h0M158.8 161.2h0M159.1 193.9h0M214.4 141.1h0M154 171.8h0M233.3 143.7h0M89 179.7h0M154.9 149h0M98.9 178.6h0M158.2 146.5h0M95.5 185.1h0M151.5 155.8h0M102.4 180.5h0M231 129.3h0M224.7 147h0M196.1 182.3h0M139.6 214.5h0M157.7 144.8h0M164.1 197.3h0M95 170.5h0M86.9 176.8h0M209.8 175.6h0M136.3 208.3h0M107.3 165.1h0M227.4 152h0M162.9 147.6h0M232.2 149.4h0M121.6 178.1h0M80.1 175.3h0M227 158.4h0M105.2 170.3h0M140.3 137.8h0M137.8 175.2h0M157.2 166.6h0M192.8 147.4h0M160.8 172.8h0M227.9 151.8h0M81.9 167.5h0M201.9 170.1h0M154.6 134.8h0M214.6 182.2h0M233.1 149.1h0M198.7 164.3h0M76.5 197.1h0M217.7 147.2h0M77.8 177.4h0M236.3 147.7h0M134 204.8h0M216.8 169.6h0M109.2 170.9h0M109.8 183.7h0M202.4 181h0M186.3 169.9h0M227.1 141.2h0M103.7 184.6h0M131.4 212.7h0M146.2 146.1h0M88.8 167.6h0M180.8 154.7h0M227.1 157.6h0M219.1 155h0M82.9 178.6h0M234.5 145.2h0M174.3 178.1h0M85.6 180.3h0M89.4 190.3h0M158.9 154.9h0M92.5 176.9h0M87.1 160.9h0M219.2 183.3h0M149.8 150.6h0M196.1 147.9h0M222.8 157.1h0M143.5 155.6h0M155.3 168.6h0M147.2 201.4h0M101.2 189.7h0M86.6 175.5h0M181.2 164.6h0M214.2 180.1h0M104.7 174.9h0M221.3 164.2h0M84.1 180.5h0M143.3 153.5h0M158.6 153.1h0M92.8 162.6h0M172 205.2h0M101.2 166.9h0M139.5 195.6h0M161.8 162h0M227.8 141.5h0M128.8 192.2h0M126.4 194.1h0M226.4 145.8h0M232 143h0M78.6 188.3h0M96.2 204.9h0M102 166.8h0M197.9 160.7h0M92.1 166.9h0M213.2 161.5h0M215 162.5h0M85 153h0M125 153.3h0M132 188.7h0M235.8 148.6h0M200.8 153.6h0" stroke="#ff00ff" stroke-width="2.2" stroke-linecap="square" fill="none"/>
<path d="M92.9 133.6h0M98.4 86.4h0M187.1 261.7h0M164.2 217.6h0M134.7 144.2h0M94.7 94.6h0M201.6 227.9h0M91.4 163.6h0M71.6 74.7h0M138.9 138h0M178.4 261.5h0M189.4 281.4h0M131.4 208.9h0M74.9 99.9h0M196.6 220.9h0M195.5 251.4h0M93.9 102h0M161.9 246.4h0M93.7 82.2h0M64.2 103.3h0M90.3 94.5h0M174.6 237.7h0M124.2 106.3h0M173.5 243h0M178.7 269h0M72.4 89.5h0M130.2 112.4h0M185.1 256.4h0M182.3 210.8h0M83.2 67.2h0M108.8 110.2h0M197.3 266h0M133.6 218.9h0M92.8 81.8h0M71 90.1h0M183.9 261.9h0M165.5 161.8h0M82.9 59.3h0M205.2 226.6h0M127.5 150.5h0M195.7 210.9h0M139.3 177.2h0M85.4 94.1h0M180.1 262.8h0M91.2 86.2h0M176.9 257h0M98.5 192.2h0M196.6 218.7h0M182.1 227h0M76 86.4h0M144.9 112.2h0M164 215.1h0M95.6 121h0M118.1 116.8h0M103.8 104.2h0M183.6 219.5h0M162.9 109.9h0M200 243.5h0M198.8 237.7h0M113.2 132.3h0M114.4 94.4h0M195.8 178.9h0M106.6 90.7h0M194 264.5h0M189.3 179.8h0M93.3 165.7h0M183.5 202.2h0M129 103.8h0M67.5 103.7h0M111.9 90.4h0M211.1 200h0M171.7 122.2h0M72.5 64.9h0M86 98.2h0M195.8 236.9h0M117.6 118.8h0M191.2 272h0M116.9 126.3h0M92.7 129h0M67.6 101h0M134.6 112.2h0M176.1 266.4h0M90.2 100.7h0M97.2 136.2h0M118.4 106h0M169.6 219.2h0M90.2 100.4h0M169.1 199.9h0M196.4 251.2h0M100.3 134.7h0M132.1 161.2h0M189.3 214.6h0M93.1 80.2h0M153.3 221.8h0M165.4 110.5h0M100.5 89h0M84.5 94.8h0M76.8 96.1h0M68.7 59.3h0M148.9 237h0M86.8 102.7h0M170.8 186.3h0M101.5 103.3h0M135.1 107.4h0M75.4 86.4h0M158 229.1h0M157.1 114.1h0M86 141.8h0M195.8 211.5h0M188.4 258.6h0M81.1 105.9h0M71.5 57.8h0M97.2 80.5h0M174.8 230.6h0M132.7 112.1h0M166 253.6h0M143.5 129.6h0M105.3 194.5h0M170.9 242.4h0M73.3 79h0M198.8 193.2h0M107.8 107.7h0M122.1 131.1h0M101.1 134.5h0M146.7 132.3h0M117.6 108.3h0M159.5 232.8h0M96.5 95.5h0M194.5 244.8h0M100.2 113h0M148.5 210h0M116.9 94.8h0M195.7 266h0M70.6 92.8h0M208.7 188.1h0M126.3 143h0M72.4 94h0M128.7 151.5h0M104.6 135.6h0M98.8 137.9h0M75.3 64.2h0M69.2 90h0M128.4 113.7h0M84.6 155.1h0M157.6 194.9h0M78.3 83.6h0M172.7 242h0M78.8 125.3h0M112.7 128.3h0M116.5 125.1h0M108.5 89h0M96.7 82.7h0M151.1 230.3h0M85.7 92.7h0M100.5 153.8h0M119.9 102h0M135.1 108.6h0M197.8 228.5h0M140.7 227.1h0M178.3 245.3h0M126.7 187.5h0M204.4 210.8h0M120.4 107.3h0M130.3 148.5h0M85 84.2h0M139.5 227h0M164.4 193.3h0M121 145h0M198 228h0M182 266.8h0M145.9 224.7h0M199 243.4h0M85.9 92.2h0M82 57.6h0M179.8 207.8h0M139.7 129h0M71.2 131.6h0M213.7 186.6h0M170.2 220.9h0M70.9 74.9h0M187.7 191.8h0M118.6 105.9h0M196 233.9h0M121.5 115.1h0M192.2 282.5h0M143.5 231.6h0M180.2 219.1h0M107.2 133h0M79.9 132.1h0M147.3 115h0M176.4 247.1h0M186.2 271.5h0M95.3 131h0M205 204.3h0M96.4 70.1h0M73.8 69h0M69.2 68.2h0M135.5 141.1h0M182.8 267.9h0M75.5 55.9h0M191.4 236h0M204.5 193.1h0M96.5 121.7h0M103.1 115.2h0M91.2 75.1h0M67.5 98.7h0M77.2 83h0M198 226.6h0M181 252.6h0M171.7 116.6h0M75.5 76.9h0M108.7 96.4h0M157 222.1h0M206.5 222.1h0M174.2 258.2h0M91.7 119.7h0M125.8 133.8h0M166.4 246.3h0M82.3 145.6h0M184 264.4h0M194.8 279.2h0M80.4 146h0M107.5 89.8h0M114.3 101.3h0M93.2 109h0M201.4 217.6h0M181.3 248.2h0M132.8 137.6h0M76.7 115.3h0M79.9 55.1h0M112.2 175.2h0M200.4 258.8h0M190.2 275.2h0M93.3 90.3h0M83.2 58.8h0M88.8 79.3h0M78.6 91.6h0M185.4 254.9h0M84.4 151.1h0M148 112.7h0M121.9 147.4h0M126.8 122.3h0M105.1 79.9h0M179.1 248h0M182.8 253.4h0M98.5 122.5h0M210.7 195.8h0M96.5 146.8h0M121 139.7h0M90.6 103.1h0M127.4 112.3h0M98.6 106.9h0M96.8 91.5h0M105.6 117.6h0M172.2 123.4h0M96.5 103.4h0M189.5 207.8h0M110 111.5h0M135.1 112.1h0M59.7 99.5h0M179.4 256h0M84.8 82.7h0M98 76.2h0M117.9 126.8h0M195 269.5h0M177.9 249.7h0M125.2 134.1h0M156.4 214.6h0M192 231.3h0M198.8 222.4h0M123.6 111.4h0M135.4 151.6h0M180.3 247.5h0M141.7 229.5h0M109.7 83.7h0M141.2 190.7h0M149.8 227.5h0M121.2 125.3h0M80.1 71.9h0M170.9 211.1h0M158 209h0M103.6 103.9h0M176 223.6h0M89.8 142.2h0M125.4 208.8h0M194.1 270.1h0M171.9 232.2h0M124.6 116.9h0M200.9 246.9h0M125.1 108h0M115.3 103.7h0M150.1 191.4h0M144.8 218.5h0M200.1 222.6h0M95.6 128.5h0M133.9 121.7h0M193.6 275.2h0M175.8 225.6h0M81.5 75.5h0M136.8 119h0M111.2 103.7h0M95.3 104.2h0M171.1 244.4h0M192.9 208.3h0M132.1 107.9h0M73.1 68.5h0M205.2 219.3h0M89.4 88.5h0M197.6 241.6h0M139.2 226.6h0M197.1 249.8h0M103.2 127.6h0M87.6 98h0M134.4 141.9h0M87.8 125.3h0M193.9 238.2h0M189.7 240.7h0M81.4 65.2h0M193 238.8h0" stroke="#00cd00" stroke-width="2.2" stroke-linecap="square" fill="none"/>
<path d="M119.1 206.8h0M235.3 128.8h0M199.9 122.5h0M195.5 126.3h0M148.8 204.4h0M132.6 132.3h0M223.9 137.4h0M162.7 233h0M231.5 130.1h0M94.5 176.4h0M202.9 177.2h0M222.9 139.2h0M137.4 133.7h0M189 135.8h0M210.2 131.6h0M154.3 131.9h0M172.9 155h0M133.9 120.7h0M114.2 166.8h0M160.6 200.8h0M168.2 158.3h0M138 186h0M116.6 179.2h0M180 184.2h0M192.6 157.6h0M231 136.2h0M149 170.7h0M89.1 180.5h0M173.1 143.1h0M186.9 160h0M79.9 173.9h0M182.5 170.6h0M154.6 156.6h0M92 198.3h0M113.8 190h0M99.8 192.9h0M115 152.9h0M154 235.5h0M144.7 155h0M164.1 143.3h0M229.4 157.6h0M119.4 175.8h0M175.4 180.5h0M210.8 141.3h0M201.7 165.1h0M200.7 133.2h0M130.6 195.8h0M129.1 110h0M157.8 154.1h0M119.7 158h0M101.5 177.5h0M124 186.7h0M221.2 152.2h0M163.7 179.3h0M246.3 123.8h0M159.6 125.4h0M146 189.8h0M125.8 152.9h0M123.7 181.2h0M103.3 180.9h0M143.9 157.5h0M79.5 160h0M97 165.4h0M120.6 201.6h0M117.7 197.5h0M183.2 158.8h0M96.7 171.9h0M218.9 136.6h0M84.1 165.3h0M168.2 153.6h0M139.7 190.6h0M138.4 216.2h0M179.5 169.2h0M147.4 223.8h0M205.1 140.6h0M168 121.8h0M178.6 133.2h0M242.4 123.8h0M106 158.9h0M142.4 196.9h0M78.2 161.1h0M126.9 165.8h0M174.5 205.6h0M219.3 138.9h0M87.2 191h0M148.2 179.8h0M96.7 153.8h0M141.7 173.1h0M139.8 130.9h0M190.2 154.1h0M160.8 205.7h0M238.2 130.7h0M85 168h0M119.6 206.6h0M111.8 156.5h0M166.2 160h0M213 129.4h0M144.9 117.5h0M101.7 177.5h0M155.1 135h0M129.5 193.6h0M167.7 255.3h0M122.2 189.1h0M197.2 114.9h0M161 113.9h0M181.8 138.5h0M113.3 182.7h0M187.8 154.4h0M90.4 200.9h0M156.9 161.4h0M106.4 211.8h0M173.2 186.8h0M91.7 189.8h0M159.7 147.7h0M232.3 127.4h0M99.3 203.5h0M117.5 217.2h0M164.2 150.5h0M169.6 120h0M132.3 196.9h0M116 167h0M200.6 166.5h0M127.2 156.9h0M241.9 110.4h0M239 129.4h0M131.6 162.9h0M219.2 136.3h0M151.3 143.4h0M196.8 163.8h0M201 169.3h0M114.7 203.8h0M185.8 166.4h0M144.5 165.8h0M116.2 177h0M117.3 195.5h0M166.2 162.4h0M174.1 148h0M205.4 130.3h0M78.5 160.5h0M112.1 204.7h0M125 147.5h0M173.9 156.3h0M98.8 193.1h0M144.6 191.8h0" stroke="#ff0000" stroke-width="2.2" stroke-linecap="square" fill="none"/>
<path d="M202.3 164h0M184.7 225.3h0M166.4 187.8h0M124.2 176.2h0M165.7 214.4h0M134.8 174.1h0M73.4 104.2h0M86 137.8h0M102.8 119h0M123.5 137.3h0M187.4 193.2h0M204.1 193.8h0M94.4 130.8h0M121 142.9h0M99.9 133.9h0M132.6 187.9h0M178.3 160h0M168.5 106.3h0M119.2 124.3h0M155.1 194h0M215.7 177.7h0M158 185.4h0M113.3 131.1h0M103.5 132.5h0M101.4 152.1h0M131.9 189.6h0M162.7 167.1h0M100.8 151.8h0M217.1 186.2h0M66.6 113.9h0M162.7 110.5h0M184.7 197.4h0M186.8 189.4h0M107.1 139.4h0M191.4 196h0M90.3 130.5h0M161.9 209.1h0M178.8 215.1h0M168.1 204.9h0M148.8 206.9h0M153.6 223.1h0M84.9 166.6h0M92.3 145.5h0M187.2 221.4h0M95.3 120.5h0M125.7 150h0M193.3 195.4h0M145.7 207.3h0M179.8 145.2h0M132 171.1h0M161.9 136.9h0M149.2 108.7h0M129.3 216.8h0M168.5 169.9h0M174.5 201.2h0M123 122.6h0M203.5 181.3h0M165.2 205.3h0M99.2 147.5h0M91.7 120.6h0M203.1 179.2h0M189.5 210.1h0M87.4 152.2h0M136.4 156.1h0M117 152h0M112.5 106.1h0M114.7 88.4h0M121.5 178.2h0M157.1 174.1h0M131.3 145.9h0M159.8 179.4h0M149.2 208.1h0M122.8 216.3h0M196.4 231h0M80.9 117.2h0M183.3 185h0M91.9 99.8h0M175.9 198.6h0M75.9 92.4h0M116 195.4h0M72.9 145.7h0M96.3 153.1h0M185.7 233.2h0M144.9 222h0M68.6 114.5h0M110.5 122.6h0M165.2 183.8h0M101.3 109.2h0M176.2 216.6h0M95.5 153.6h0M166.5 186.7h0M59.8 104.2h0M162.9 199.2h0M150.6 119.4h0M202.4 204.1h0M86.4 109.8h0M86.1 125.4h0M77.8 110.9h0M85.2 104.8h0M179.5 178.3h0M193.8 175.2h0M181.1 200.8h0M183.5 246.5h0M209.6 205h0M78.8 107.5h0M131.9 172.5h0M133.9 207.8h0M202.7 193.5h0M153.1 196.6h0M93.8 113.7h0M148.2 195.3h0M212.8 193.9h0M174.7 202.9h0M189.7 224.9h0M166.7 164.5h0M161.1 115.7h0M110.9 138.5h0M181.3 219.4h0M179.2 217.5h0M125.5 145.3h0M73.8 130.4h0M198.5 197.2h0M169.1 182.2h0M175.1 206.8h0M193.3 170.7h0M145.8 133.3h0M153.8 117h0M201.9 221.6h0M103.2 162.2h0M165.4 207.1h0M129 195.3h0M188.8 180.3h0M85 153.9h0M95.7 133h0M95.1 158h0M133.9 186h0M80.1 117.8h0M110.4 128.5h0M153.3 132.2h0M128.7 153.4h0M146.1 211.4h0M114.8 216.7h0M159.9 210.3h0M85.1 172.8h0M61.7 106.5h0M100.9 130.9h0M62.3 110.8h0M81.2 143.9h0M157.1 210.8h0M176.6 108.3h0M186.7 211.2h0M108.2 153.2h0M173.9 192.1h0M162.3 143.8h0M79.6 96h0M104 157.1h0M84.7 141.1h0M172.8 196.9h0M73.7 116.8h0M204.9 188h0M141.6 180.5h0M80.2 132.6h0M85.8 148.6h0M138.2 209.4h0M90.7 105h0M164.5 161.6h0M164.5 212.6h0M103.9 118.6h0M211 183.7h0M159.6 155.8h0M95.8 135.8h0M98.5 147.5h0M196.2 188.4h0M129.2 163.1h0M103.4 121.6h0M195.5 219.4h0M178.9 206.7h0M172.4 145h0M169.5 189.4h0M96.9 162.6h0M184.5 231.7h0M187.5 196.6h0M171.7 230.2h0M208.9 191.3h0M202.5 196.9h0M167.6 191.4h0M177.9 177.6h0M168 107.1h0M147.7 213.5h0M109.6 125.4h0M117.8 146.8h0M90.3 143.3h0M165.6 191.7h0M75.6 108.5h0" stroke="#0000ff" stroke-width="2.2" stroke-linecap="square" fill="none"/>
<path d="M187.1 163.2h0M167.1 149.7h0M171.6 168.2h0M194.2 181.1h0M225.7 133.6h0M80.1 199.7h0M154.4 143.7h0M114.5 176h0M175.2 174.9h0M110.9 204.4h0M225.1 140h0M180.3 187h0M196.5 189.6h0M222.7 147h0M195.6 176h0M183.7 175h0M166.2 125.7h0M152.3 189.1h0M95.2 199.6h0M201.5 149.9h0M166.7 163.5h0M121 186.4h0M239.7 136.5h0M99.7 198.6h0M85.8 197.4h0M231.8 136.6h0M213.4 165.4h0M113.3 205.4h0M82 187.8h0M216.1 158.4h0M117.4 182.3h0M122 162.5h0M217 162.8h0M114.3 159h0M182 159.3h0M184.9 162.3h0M195.7 150.1h0M171.2 172.7h0M82.6 192.1h0M141.4 162.1h0M104.4 195.9h0M161.1 196.9h0M137.9 147.6h0M200.4 182.2h0M170.2 149.2h0M171.6 156.9h0M232.6 149.4h0M90.5 197.4h0M93.6 168.1h0M147.1 168.2h0M229.9 140.9h0M178 172.3h0M153.7 183.7h0M127.1 150.4h0M169.2 156.9h0M126.5 204.6h0M160.9 205.1h0M77.7 178h0M213 181.4h0M91.6 170.6h0M130.4 160h0M226.3 155.6h0M183.1 167.3h0M161.8 199.9h0M201.1 180.7h0M227.1 154h0M122.6 200.9h0M145.1 160.1h0M100.5 200.4h0M78.7 198.8h0M145.3 155.3h0M150.1 175.5h0M182 176.1h0M110.7 174.9h0M232.5 145.4h0M86.6 183.8h0M236.7 143.3h0M192.6 132.5h0M229.8 152.3h0M157.7 164.2h0M96.3 168.7h0M224.5 143.6h0M133.6 197.4h0M84.5 194.3h0M151.3 169.7h0M180.9 155.3h0M217.7 169.4h0M202.7 134.9h0M167.8 155.4h0M110.8 189.4h0M117.3 165h0M90.3 152.4h0M89.9 206.7h0M193.5 142.6h0M154.9 170.4h0M80.6 168.5h0M98.5 207.4h0M140.8 176.1h0M134.8 150.9h0M157.5 167.3h0M163.9 160.3h0M216.7 146.9h0M93.2 178h0M123 189h0M100.8 197.3h0M226.5 159h0M141.3 197.1h0M218.2 180.8h0M197.5 164.8h0M203.6 184.7h0M93.8 206.7h0M117.1 160.1h0M173.1 172.4h0M218.5 163.4h0M124 187.6h0M208.6 163h0M149.2 147.9h0M233.3 123.4h0M174.8 181.8h0M82 194h0M78.1 162h0M174.5 212h0M100.6 184.5h0M239.1 129.6h0M193 148h0M148.1 130.8h0M96.3 203.3h0M179.8 186.1h0M167.4 169.8h0M152.6 179.1h0M171 153.6h0M219.2 144.6h0M231.8 157h0M220.2 167.3h0M121.2 216.3h0M195.8 171.4h0M182.2 188.8h0M144.4 181.7h0M84.8 199.9h0M112.1 209.3h0M233.5 137.5h0M105.3 186.6h0M82.9 173.3h0M114.1 198.2h0M95.9 197.2h0M233 143.5h0M210.5 164.5h0M234.8 137h0M222.3 127.6h0M212.2 156.6h0M101.2 183.9h0M104.5 165.6h0M162.1 150.3h0M92.6 198.3h0M84.3 198.1h0M149.5 176.4h0" stroke="#ff00ff" stroke-width="2.2" stroke-linecap="square" fill="none"/>
<path d="M200.8 184.6h0M100.8 144.3h0M190.4 216.2h0M112.4 158.3h0M199 262h0M152.8 227.3h0M202.9 226.6h0M132.6 113.9h0M192.9 280.4h0M170.6 232.8h0M94.8 112.8h0M111.8 172.8h0M118.5 126.2h0M88.9 75.7h0M97.8 157.1h0M174.7 260.1h0M195.2 233.4h0M148.3 229.3h0M86.6 119.9h0M138.3 116.9h0M94.1 108.4h0M196.5 263.8h0M184.9 272.3h0M133.4 113.9h0M80.8 56.3h0M193.6 193.8h0M75.7 125.5h0M171.1 260.7h0M93.9 76.6h0M163.3 115.9h0M79.7 74.3h0M159.4 209.5h0M84.3 117.4h0M94.7 101.3h0M89.6 124.5h0M136.5 129.9h0M106.6 123.8h0M81.1 118.3h0M212.4 183.3h0M75.9 56.8h0M108.1 115.5h0M71.6 104.7h0M123.3 107.7h0M86.9 84.7h0M138.2 174.6h0M193.4 273.6h0M209.1 181.8h0M177.9 250.6h0M83.7 78.5h0M134.4 143.5h0M189.8 236.3h0M75.4 80.6h0M119.4 153.3h0M159.3 127.7h0M105.6 103.7h0M198.7 262h0M110.4 97.9h0M70 116.2h0M81.1 65.1h0M182.5 267.7h0M190.6 188.4h0M154.8 177.2h0M178.8 224h0M109 116.8h0M106.2 118.2h0M159.9 239.7h0M136.7 135.9h0M72.6 79.5h0M137.2 140h0M191.2 204h0M189.5 232.9h0M102.7 83.2h0M85.9 65.6h0M70.1 103.9h0M100.4 101.2h0M92.3 107.6h0M188.8 263.9h0M64.5 102.7h0M172.6 222.6h0M179.5 253.3h0M113.6 115.2h0M123 118.2h0M96.5 78.9h0M179.8 268.7h0M191.4 226.6h0M160.7 117.9h0M125.2 119.2h0M167.2 230.4h0M201.8 209h0M121.7 115.4h0M93.2 117.3h0M199 235.6h0M117.2 120.8h0M191.2 216.5h0M113.6 100.9h0M195.3 273.4h0M192 277.7h0M95 112.8h0M191.6 274.4h0M139.9 133.3h0M118.6 144.4h0M209.8 216.5h0M195.5 277.4h0M115.1 106.7h0M128.7 103.1h0M136.7 137.2h0M109.5 90.9h0M193.8 208.9h0M116.7 131.4h0M111 146.2h0M134.9 133.2h0M69.6 128.7h0M80.8 124h0M122.6 126.6h0M167.9 234.6h0M192.8 234.3h0M112.6 146.2h0M200.3 193.1h0M181.4 268.5h0M189.1 268.9h0M115.6 193.4h0M196.1 201.1h0M191.9 252.6h0M83.1 61.1h0M183.1 263.5h0M188.1 227h0M199.1 224.5h0M100.6 77.6h0M140.8 121.5h0M124.2 176.2h0M62 112.4h0M153.6 224.7h0M78.7 160h0M215.4 191.3h0M64 106.5h0M199.4 246.1h0M188.8 188.2h0M136.8 107.5h0M100.6 150.2h0M190.9 239.7h0M97.3 87.9h0M92 99.3h0M184.8 240.8h0M161.1 226.4h0M182.4 255.6h0M77.4 100.1h0M84.9 104.3h0M102.7 120.8h0M175.7 266.3h0M110.8 87.9h0M107.2 122.5h0M121 145.1h0M128.8 107.8h0M138.1 164.5h0M120.2 154.6h0M89.3 96.7h0M68.5 80.2h0M74.4 77.1h0M206.6 200.3h0M179.1 239.5h0M85.1 99.7h0M182.9 260.5h0M185.6 274h0M197.9 188.9h0M174 244h0M110.8 93.3h0M175.6 236.3h0M187.7 226.1h0M189.9 246h0M98.6 79.3h0M74.4 74.4h0M170.6 210.3h0M101.6 120.1h0M95.4 125.8h0M142.2 225.1h0M69.1 74.2h0M143.7 151.8h0M160.9 110.1h0M156.6 228.5h0M123.2 105.5h0M137.7 113.5h0M190.2 229.5h0M149.4 116.1h0M87.2 123h0M82.5 132.8h0M98.7 86.3h0M71.7 72.4h0M104.5 102.6h0M130.1 167.5h0M184.4 272.5h0M207.2 218.7h0M172.8 251.8h0M147.7 207.4h0M104.9 116.8h0M140.7 112.2h0M123.6 126.8h0M121.5 118.9h0M183.6 236.1h0M188.7 214.6h0M66.4 103.9h0M158.2 229.3h0M96.6 103h0M109 113.1h0M64.5 116.2h0M161.6 246h0M127.4 107.5h0M118.2 106.7h0M113.9 98.8h0M86.7 119.5h0M102.9 99.7h0M136.4 128.2h0M186.8 276.1h0M127.6 104.9h0M202.7 233.2h0M76.9 100.5h0M109.3 128.6h0M110.8 138.1h0M96.2 83.7h0M188.1 192h0M84.2 100.6h0M189.8 236h0M163.8 243.1h0M81.3 134.6h0M130.7 116.9h0M127.4 153.1h0M133.1 142.6h0M112.1 139.9h0M182.9 228.6h0M70.7 51.2h0M84.7 81.4h0M152.2 242.7h0M154.6 241.4h0M101.6 107.3h0M73.4 117.7h0M97.1 70.8h0M200.4 200.4h0M134.6 108.3h0M190.1 260h0M95.8 109h0M84.9 89.7h0M103.2 82h0M189.7 264.9h0M96.8 125.6h0M203.5 214.6h0M177.5 260h0M106.9 90.6h0M77.7 93.4h0M192 240.8h0M119.6 95.8h0M74.2 68.9h0M172.1 257.8h0M170.9 215.5h0M166.2 234.4h0M100.9 128h0M95.9 70.9h0M165.4 226.5h0M134.9 119.8h0M94.9 107.3h0M89.3 66.5h0M99.7 93.3h0M191.6 245.4h0M72.4 75.1h0M172.8 235.9h0M201.8 221.7h0M83.8 72.6h0M142.8 137.3h0M187 268.7h0M123.6 96.8h0M58.6 99.5h0M96.8 106.8h0M82.4 135.7h0M130.8 137.1h0M103.2 145.3h0M89.1 90h0M131.9 104.1h0M150.7 217h0M115.2 137.5h0M97.1 77.2h0M160.3 116.2h0M118.2 91.2h0M111.4 94.7h0M79.6 70.2h0M73.2 73.4h0M146.5 216.4h0M194.8 224.7h0M75.4 71.2h0M183 267.6h0M108.3 133.1h0M77.2 61.5h0M83.6 96.8h0M116.7 109.7h0M102.1 77.1h0M115.9 114.4h0M181.1 268h0M187.8 249.6h0M119.3 161h0M206.1 193.8h0M113.2 106.1h0M62.9 109.7h0M198.2 263.9h0M157.5 227.3h0M136.1 122.5h0M59.9 101.3h0M80.6 62.5h0M159.1 186.1h0M98.3 115.7h0M144.6 135h0M134.4 137.4h0M149 214.7h0M115.1 143.9h0M107.1 98.8h0M87.1 89.8h0M82 65.4h0M76.4 95.6h0M155.7 238.1h0M131.8 138.4h0M199.6 206.2h0M182.5 260.7h0M176.6 262.8h0" stroke="#00cd00" stroke-width="2.2" stroke-linecap="square" fill="none"/>
<path d="M124.5 203.9h0M189.8 170h0M130.4 193h0M167.7 138.5h0M199.5 180h0M165.3 227.3h0M156.6 157.2h0M129.9 164.7h0M152.7 224h0M140.9 137.8h0M142.1 144.7h0M174.9 145.9h0M132.4 197.3h0M187.4 152.1h0M141.7 154.4h0M91 199.9h0M141.1 191.2h0M115.9 207.2h0M203.7 145.1h0M152.4 125h0M97.7 183.8h0M134.5 201.9h0M130.6 131.5h0M92.3 156.1h0M126.5 145.8h0M106.5 199.8h0M152.3 198.6h0M119.4 190h0M107.6 191.8h0M185.1 176.2h0M216.7 152h0M180.9 155.3h0M144.6 161.1h0M99.6 162.2h0M218.3 153.6h0M168 238.2h0M210.5 133.2h0M201.9 160.8h0M172.3 209.8h0M159.4 143.3h0M158.9 157.2h0M137.4 211.1h0M182.6 169h0M164.1 112.2h0M238.1 142.2h0M234.2 131.4h0M173.4 163.7h0M106.2 204.1h0M184 163.5h0M98.5 157.7h0M204.8 144.6h0M79.9 200h0M95.4 174.7h0M216.6 167.1h0M214.9 144.4h0M178.1 150.6h0M171.1 124.4h0M211.9 151.9h0M198.4 161.3h0M213.5 147.1h0M163.6 240.6h0M112.3 163.2h0M136.7 182.7h0M235.4 131.8h0M199.2 160.7h0M235.1 127.1h0M135.3 203.3h0M126.6 183.7h0M142.3 175.9h0M169.3 208.1h0M174.6 112.2h0M142.4 188.3h0M196.8 181h0M224.2 111.5h0M143.7 148.6h0M173 117h0M153.6 149.1h0M220.1 134.9h0M214.4 163.4h0M147.8 178.7h0M142.6 189h0M186.1 129.5h0M127.6 114.4h0M93 191h0M133.1 181.6h0M133.3 212.1h0M131.5 197.3h0M138.3 228.4h0M101.8 192.6h0M115.7 161.6h0M146.7 162.2h0M160.9 209.3h0M151.3 169.5h0M155.5 214.4h0M102.1 155.2h0M147.8 166.6h0M113.6 189.9h0M87.5 156.9h0M222.9 127.7h0M149.1 186.6h0M196.8 146.2h0M225.5 152.4h0M117.4 164.8h0M151.9 203.2h0M83 159.5h0M206.4 131.8h0M206.1 156.8h0M145.1 150.9h0M215 146.7h0M154.8 124.8h0M90.9 161.3h0M170.6 145.1h0M139.3 179.5h0M154.9 193.3h0M131.6 191.3h0M157.4 125h0M154.5 163.9h0M143.1 203h0M133.8 139.5h0M194.5 152h0M215.3 149h0M156.4 133.6h0M100.3 207.7h0M208.7 147h0M191.5 139.3h0M224.2 147.9h0M163.8 178.2h0M168.8 117.2h0M115.5 204h0M177 156.1h0M138.3 137.9h0M234.6 125.4h0M100.1 194.8h0M141.2 160.4h0M89.3 176.7h0M155 220.6h0M96.7 169.9h0M179.1 140.1h0M165.1 217.1h0M124.9 165h0M158.8 152.7h0M172.6 123.4h0M169.6 175.7h0M171.1 152.5h0" stroke="#ff0000" stroke-width="2.2" stroke-linecap="square" fill="none"/>
<path d="M97.6 148.3h0M121.3 136.5h0M193.2 179h0M73.1 118.2h0M94.7 97.8h0M93.7 141.5h0M169.8 179h0M186.7 209.5h0M134 203h0M208 204h0M120.7 131.6h0M82.2 135.5h0M161.8 180.7h0M211.7 188.6h0M86 139.7h0M183.6 185.8h0M135.1 215.9h0M83.6 161.1h0M208.2 205.9h0M143.4 174.1h0M70.9 110.1h0M140.1 205.2h0M87.1 119.9h0M123.5 156.9h0M189.1 191.9h0M86.1 141.9h0M183.2 207.7h0M181.3 191.5h0M167.6 184h0M117.3 145.4h0M166 203.1h0M138.7 111.3h0M207.1 212.4h0M172.1 173.3h0M186.4 184.1h0M185.9 158.4h0M220.2 176.7h0M171.5 106.8h0M125 217.4h0M147.4 190.9h0M92.1 122.1h0M170.6 197.8h0M180.6 202.7h0M75 120.7h0M79.6 150.3h0M207.4 213.7h0M167.1 221.3h0M198 186.6h0M168.4 167.4h0M136 118.4h0M180.4 185.2h0M72.1 132.7h0M202.4 182.1h0M161.2 164.1h0M110.2 162.1h0M169.8 194.5h0M111.6 130.2h0M139.7 202.7h0M65.2 113.4h0M96.6 116.4h0M197 223h0M177.2 210h0M189.2 234h0M197.8 183.7h0M100 109.3h0M200.3 222h0M121.1 121.4h0M170.8 151.8h0M89 166.6h0M61.6 100.5h0M90.8 113.1h0M106.1 138.4h0M146.2 197.7h0M165 227.1h0M100.5 167.5h0M193.9 152.6h0M117.7 213.9h0M71.1 135.9h0M181.1 245h0M126.8 99.6h0M153.6 213.1h0M130.6 173.1h0M95.1 132.1h0M123.3 140.2h0M172.6 145.8h0M205.2 191.7h0M172 206.8h0M104.8 137.5h0M201.5 253.5h0M149.7 147.5h0M93.5 143.6h0M135 162.7h0M183.3 179.4h0M131.9 222.5h0M90.4 138.5h0M186.3 181.9h0M144.1 162.3h0M159.5 202.2h0M172.3 196.7h0M101.2 133.2h0M196.6 185h0M210.6 199.8h0M215.4 190.3h0M170.2 158.2h0M175.6 201.6h0M134.1 145.1h0M163.9 167.3h0M96.2 138h0M135.1 150h0M165.2 209.6h0M68.8 111.7h0M84.3 154.9h0M207.6 197.5h0M154.2 135.2h0M158.7 155.5h0M211.5 184.6h0M115.8 164.6h0M109.8 209.4h0M221.4 162.5h0M191 238.8h0M126.5 216.4h0M167.1 213.1h0M132.4 190.8h0M107.2 95h0M202.6 220.4h0M187.3 174.8h0M187.1 149.1h0M183.8 199.9h0M108.8 148.8h0M183 220.7h0M159.6 191.1h0M207.6 197.2h0M163 225.8h0M154.8 219.2h0M119.4 139.5h0M163.1 171.9h0M156.3 110h0M89.7 117.9h0M76.4 139.9h0M125 200.4h0M207.9 200.5h0M214.5 182h0M83 152.8h0M214.9 177.9h0M162.6 190.4h0M133.4 195.6h0M141.1 213.6h0M66.8 112h0M125 190.9h0M189.3 212.3h0M111.1 151.1h0M90.1 165.6h0M75.5 129.7h0M89.8 142.2h0M182.5 210h0M204 208.8h0M157.9 115.4h0M178.7 163.6h0M161.7 170.8h0M175.1 205.7h0M94.8 156.4h0M65.2 105.1h0M128.1 175h0M86.8 120.7h0M152 178.4h0M148.5 186.8h0M78.5 119.5h0M129.2 181.2h0M174.5 191.8h0M90.8 135.4h0M206.4 187.7h0M168.3 201.2h0M199.6 188.2h0M122.3 148.4h0M179.8 196.6h0M185.7 215.6h0M74.8 115.9h0M129.5 138.3h0M193.5 182.6h0M93.3 129.4h0M66.4 115.2h0M84.8 136.9h0M130 162.6h0M192 182.8h0M82.1 121.3h0M164.4 181.6h0M63.6 102h0M161.1 206.9h0M184.9 210.1h0M136.4 208.6h0M151.2 162.5h0M173.5 224.7h0M176.7 154h0" stroke="#0000ff" stroke-width="2.2" stroke-linecap="square" fill="none"/>
<path d="M187.8 152h0M98.8 195.7h0M164 148.1h0M115.4 215.9h0M145.6 133.7h0M227.2 159.8h0M81.9 173.5h0M220 168.6h0M100.9 157h0M89.4 193.4h0M120.9 168h0M223.1 167.4h0M81.1 157.2h0M236.2 141.5h0M90.9 185h0M209.8 172.8h0M197.4 154h0M112.4 182.2h0M130.4 171h0M140.4 200.1h0M91 194.3h0M201.1 164.8h0M98 197.9h0M85.3 175.6h0M129.9 158.4h0M130.4 158h0M197.2 155.6h0M142 158.2h0M206.3 171.1h0M112.9 192.3h0M220 149.5h0M106.3 134.4h0M78 162.8h0M117.2 176.8h0M219.7 169.5h0M163 143.8h0M98.8 187h0M95.8 164.9h0M112.3 169.4h0M188.9 148.1h0M128.4 158.8h0M93.5 207.2h0M83.3 192.4h0M100.3 179.7h0M141.5 142.4h0M210.3 148h0M79.9 184.2h0M113.1 150.1h0M125 168.9h0M131.3 161h0M142.5 211h0M126.8 188.6h0M209.3 155.1h0M95.1 180.7h0M112.1 167.5h0M155.3 157.6h0M125.8 217h0M190.7 172h0M167.6 111.4h0M152.9 164.8h0M92.2 154.7h0M216.6 154.2h0M97 212.2h0M221.7 161.8h0M240.2 138.8h0M212.9 141.7h0M207.6 155h0M77.6 167.9h0M116 179.6h0M184.4 165.5h0M100.4 194.5h0M145.8 132.3h0M190.1 169.5h0M127 180.9h0M132.8 175.6h0M203.8 172.4h0M215 179.6h0M158.1 191.1h0M229.3 143h0M198.7 139.3h0M164 161.1h0M137.5 160.6h0M174.2 176.6h0M169.9 164.5h0M86.6 165.4h0M108.1 178.9h0M189.5 178.6h0M78.5 187.6h0M109.2 194h0M203.8 169.2h0M147.1 193.5h0M76 154.9h0M172.5 150.9h0M99.8 179.6h0M145.1 166.5h0M103.5 188.8h0M106 181.3h0M192.5 169.4h0M184.2 164.3h0M180.5 142.6h0M167.8 109.3h0M167.6 229.6h0M109.9 194.1h0M181.4 157.3h0M168.8 156.1h0M193 167.9h0M86 200.8h0M144.9 145.1h0M221.3 158.8h0M132.9 209h0M208.3 151.6h0M111.4 196.8h0M109.4 196.5h0M91.6 164.2h0M150.3 167.9h0M136.1 155.1h0M165 177h0M227.8 151.8h0M90.8 181.9h0M190.2 163.3h0M92 179.4h0M221.7 144.1h0M232.5 135.8h0M143.6 192h0M122.8 193.1h0M137 220.1h0M84.4 167.8h0M221.1 156.3h0M88.3 187.7h0M201.6 138.5h0M235.3 148.2h0M175 175.7h0M232.4 141.9h0M230.2 129.4h0M131.1 221h0M93.8 179.7h0M116.7 170.9h0M81.1 196.9h0M203.8 184.5h0M93.8 173.5h0M170.2 141.6h0M97.4 157.3h0M203 148.6h0M200.7 165.9h0M138.8 186.7h0M95.3 152.2h0M178.2 181.6h0M114.4 171.7h0M129.3 168.5h0M187.2 124h0M99.6 167.8h0M134.5 155.8h0M92.3 148.5h0M155.6 165.4h0M80.9 200.5h0M111.8 184.6h0" stroke="#ff00ff" stroke-width="2.2" stroke-linecap="square" fill="none"/>
<path d="M210.4 212.9h0M71.6 53.8h0M168.5 233.5h0M82.6 149h0M161.9 225.8h0M202.9 246.1h0M184.9 221.2h0M151.4 108.3h0M72.4 66h0M73.6 65.6h0M205.4 189.8h0M73.3 110.2h0M109.7 93.6h0M136.9 124.7h0M164.9 108.7h0M107.1 117.1h0M104 117.5h0M105.4 162.1h0M64.9 120.7h0M104.2 106.2h0M121.4 146.7h0M195.7 272.4h0M96.3 100.4h0M105.7 105.3h0M115.4 139h0M80.9 64h0M78.2 80.1h0M80.6 89.3h0M83 73.8h0M190.7 246.9h0M173.4 264.6h0M98.3 128.3h0M179.7 208.6h0M107.2 97.9h0M122.4 130.7h0M192.9 229.8h0M70.7 58.6h0M150.9 121h0M71.8 117.4h0M181.7 250.4h0M142.6 138.6h0M147.2 226.8h0M106.3 112.3h0M74.1 57.3h0M136.3 213.9h0M96.1 152.2h0M197.3 275.4h0M197.9 277.1h0M78.9 55.1h0M197.7 246h0M81.1 64.6h0M84.8 93.1h0M181.9 273.3h0M166 240.2h0M100.3 99.9h0M195.9 189.8h0M71.8 69.8h0M148.5 237.5h0M89.5 111.7h0M123.8 136.1h0M153.2 209.3h0M170.7 251.6h0M77.6 54.5h0M102.4 76.5h0M122.8 120.6h0M85.5 107h0M126.1 131.9h0M64.8 115.9h0M172.6 219.7h0M212.7 188.4h0M179.1 269h0M131.2 109.4h0M181.9 240.1h0M160.7 236.1h0M103.4 161.2h0M87.1 66.8h0M84.8 149.9h0M111.2 89.1h0M188.3 255.5h0M75 124.3h0M74.4 74h0M116.1 141.3h0M133.3 222.6h0M148.4 134h0M185.2 230.3h0M114.2 93.2h0M69.7 50.8h0M80.3 104.4h0M116.5 90.9h0M162.2 217.4h0M104.4 191.9h0M96.7 93.1h0M114.6 203.9h0M189.4 248.9h0M79.3 94.9h0M191.1 277.4h0M194 280.3h0M65.1 114.5h0M111.1 118.7h0M201.3 219h0M68.7 68.3h0M81.3 66.2h0M81.6 91.3h0M101.9 94.4h0M168.7 203h0M98.9 112.1h0M141.5 224.2h0M199.8 216.7h0M106.2 102h0M72.6 133h0M74.8 82.1h0M174.9 186.1h0M93.9 140.2h0M100.5 76.2h0M72.4 53.4h0M98.7 86.6h0M83.9 112h0M191.4 203.5h0M99.2 122.5h0M205.5 232.6h0M170.9 220.7h0M181.9 266.3h0M144.8 233h0M96.3 81.6h0M162.5 109.9h0M165.5 254h0M191.9 267.5h0M87.2 70.6h0M171.4 252.5h0M100.3 76.2h0M81.2 61.2h0M162.9 248.7h0M145.5 109h0M75.6 151h0M124.2 143.2h0M141.6 126.4h0M107.3 101.1h0M82 87.1h0M191.9 264.1h0M84.6 130.9h0M108.7 121h0M163.2 248.1h0M92.2 102.2h0M207.4 193.5h0M148.1 229.7h0M126.2 119.3h0M164.2 130h0M121.6 174.7h0M140.9 120.7h0M82.6 102.6h0M130.4 176.5h0M181.3 243.3h0M76.9 135.7h0M102.5 92.6h0M119.9 137.2h0M180.8 230.4h0M182.9 270.1h0M128.1 128.6h0M97.5 107.3h0M155.3 118.1h0M130.4 114.1h0M147.8 123.8h0M180.8 268.8h0M71.6 101.1h0M105.9 132.2h0M104.8 79.1h0M71 79.5h0M129.7 112.2h0M192.3 235.3h0M155.5 231.8h0M152.2 233.6h0M121.3 115.2h0M141.3 195.9h0M78.8 99.9h0M88.9 92.7h0M123.6 122h0M197.4 233.1h0M100.1 110.6h0M67.8 110.2h0M194.5 177.8h0M83.7 69.3h0M94.6 79.2h0M167 111.5h0M99.2 73.6h0M69.5 82.1h0M202.1 184.7h0M142.2 118.3h0M177.6 211.9h0M88.5 68.8h0M95.5 72.5h0M92.4 95.6h0M127.7 134.5h0M166.5 254.7h0M82.7 136h0M194.1 282.9h0M112.6 98.7h0M82.4 57.8h0M130.4 111.5h0M188.3 271.5h0M87.4 103.2h0M111.5 92h0M83 57.5h0M68.2 102h0M194.6 209.1h0M140.4 139.2h0M155.9 184.5h0M97.9 92.9h0M92.7 72.6h0M199.1 264h0M142.7 212.9h0M164.4 249h0M109.6 129.5h0M142.5 124.2h0M68.5 67.3h0M125.3 101.3h0M165.7 241.9h0M72.6 82.6h0M107 153.3h0M93.2 121.5h0M210.3 193.9h0M94 129.8h0M109.1 138.7h0M90.8 96.3h0M194.2 247h0M164.1 253.9h0M70 91.1h0M182.8 236.7h0M189 237h0M115.5 129.5h0M87.9 107.2h0M193 278.6h0M98.4 77.3h0M159.6 221.3h0M159.6 241.8h0M86.3 101.6h0M109.6 88.7h0M124.6 140.5h0M123 114.2h0M189.5 223.3h0M153.3 193.3h0M142.3 109.7h0M128 100.2h0M190.1 225.9h0M74.9 78.9h0M119.3 125h0M91.2 95.8h0M196.1 236.1h0M69.5 79.2h0M139.9 117.9h0M118 99.5h0M97.7 103.5h0M176.3 114.7h0M153 170.5h0M71.5 112h0M184.7 265.3h0M86.9 68.4h0M61.1 100.3h0M76.7 65.9h0M93 151.3h0M162 237.6h0M94.2 102.8h0M154.8 232.9h0M180.2 267.1h0M76.6 67.8h0M147.3 233.6h0M168.9 216.4h0M173.8 232.7h0M75.9 54.4h0M156 219.2h0M174 255.4h0M183.8 179.3h0M77.1 132.9h0M142 110.9h0M83.9 136.5h0M93.8 117.2h0M176.1 218.6h0M108.6 115.1h0M72.9 65.6h0M81.7 96.6h0M125.8 131.6h0M78.7 147.4h0M70 82h0M108 159.9h0M84.6 125.3h0M139.1 122.6h0M135.9 137h0M82.6 105.4h0M93.3 109.3h0M171.9 103.9h0M94.6 74.3h0M125.9 99.1h0M112.6 150.1h0M118.1 112.1h0M117.9 90.7h0M168.4 113.8h0M85.5 78.2h0M155.5 218.1h0M114.5 131.1h0M91.4 78.1h0M87.6 147.5h0M153 126.2h0M199.5 215.7h0M121.8 163.7h0M128.3 100.8h0M203.7 226.1h0M92.8 79.6h0M193.7 212.1h0M133.1 106.1h0M191 246h0M193.9 226.6h0M80.7 121.8h0M112.7 126.4h0M99.4 78.9h0M124.3 151.9h0M184.3 249h0M93.9 98.9h0M121.2 205.7h0M146.7 134h0M196.1 266.9h0" stroke="#00cd00" stroke-width="2.2" stroke-linecap="square" fill="none"/>
<path d="M240.4 137.3h0M168.9 144.2h0M245.1 121.1h0M171.2 166.5h0M134.2 159.6h0M138.6 126.3h0M174.2 154.7h0M131.7 155.9h0M131.3 202.1h0M145.6 139.2h0M240.3 136.7h0M200 145.5h0M211.7 175.6h0M114.6 198.7h0M128.6 212.8h0M168.3 172.6h0M88.8 172h0M168.4 245h0M230.6 142.8h0M128.7 178.7h0M142.8 142.6h0M202.5 126.1h0M163.2 120.1h0M162.4 138.1h0M181.4 121.9h0M133.2 119.9h0M224.1 155.7h0M123 203.6h0M114.7 189.9h0M134 148.6h0M149.2 173.7h0M183.2 147.9h0M86.9 204h0M132 220.2h0M126.9 206.8h0M127.9 162.7h0M97.5 182.7h0M203.1 146.4h0M140.3 169.3h0M212 146.1h0M108.7 196.4h0M145 165.6h0M111.3 200.3h0M192.8 136.4h0M210.9 130.8h0M222.3 136.5h0M215.3 179.3h0M159.8 133.4h0M208.7 162.3h0M123.6 184h0M143.4 157.8h0M189.8 174.5h0M100.4 167.8h0M117.4 188h0M228.5 143.6h0M107.5 188.8h0M93 184.8h0M99.3 195.9h0M78.1 167.7h0M219.5 145.9h0M189.5 142.7h0M143.1 191.1h0M185.2 110.5h0M93.4 207.6h0M146.8 187.6h0M166.1 155.2h0M231.5 147h0M195.3 152.6h0M168.2 193.2h0M105.4 187.4h0M121.5 173.8h0M170.1 126.8h0M217.1 111.5h0M128.2 144.3h0M129.7 177.4h0M173.8 134.1h0M215.6 164.9h0M159.4 206.9h0M200.9 155.4h0M180 168h0M163.1 141.7h0M102 159.5h0M118.1 159.5h0M89.4 183.2h0M135.6 128.6h0M197 152.9h0M221.6 166.5h0M209.5 165.5h0M79.8 185.3h0M212.1 164.6h0M136.9 151.7h0M115.5 169.2h0M113.3 176.1h0M140.7 171.1h0M118.6 190.4h0M100.4 175.9h0M121 173.1h0M119 186.5h0M156.3 197.3h0M144.6 135h0M131.5 151h0M159 150.1h0M150.9 170.2h0M139.2 184.6h0M108 203.6h0M106.1 157.9h0M86.7 184.1h0M151.3 146.6h0M206.6 120.1h0M182.2 151.2h0M116.5 171.8h0M138.8 222.4h0M107 203.5h0M163.3 204.9h0M161 243.4h0M138.8 168.5h0M217.4 126.8h0M176 163.9h0M198.1 163.6h0M199.2 141h0M152.3 134.3h0M153.1 166.4h0M89.8 164.8h0M122.1 195.8h0M222.5 141.6h0M119.1 178.1h0M155.5 221.3h0M196.6 128.3h0M161.7 144.1h0M122 186.8h0M92 180.9h0M237.9 135.3h0M110.5 198.5h0M79.8 188.8h0M79.7 179.2h0M222 152.4h0M183.6 131.1h0M129.1 219.2h0M164.5 146.8h0M123 200.2h0M212.3 132.7h0M178.2 164.5h0M197.8 160h0" stroke="#ff0000" stroke-width="2.2" stroke-linecap="square" fill="none"/>
<path d="M150.4 111.4h0M168.3 165.4h0M180 196.2h0M108 131.9h0M180.6 99.3h0M163.2 199.5h0M173.4 108.9h0M209.4 187.7h0M111.5 185.6h0M124.8 164h0M121.6 215.8h0M134.2 119.5h0M181.8 181.9h0M143.8 112.9h0M101.6 153.2h0M164.1 224.7h0M146.7 192.5h0M113.1 113.8h0M180.3 221.8h0M156.9 198.1h0M82.8 147h0M147.2 201h0M111.4 162.1h0M186.4 202.4h0M93.8 164.7h0M123.6 189.9h0M116.8 154.2h0M141.2 199.8h0M82.7 129.7h0M213.6 192.2h0M123.9 197.6h0M120 139.8h0M184.3 193.5h0M114.9 177.3h0M81.9 150.4h0M147.5 208.1h0M200.6 177h0M87.3 106.2h0M159.8 209.9h0M183.7 220h0M172.9 217.7h0M120.9 188.3h0M121.3 215.3h0M181.4 191.6h0M158.3 170.9h0M96.7 142.9h0M193.8 193.8h0M108.4 184.2h0M148.6 183.2h0M80.7 118.2h0M78.4 103.2h0M93.3 175.7h0M74.1 135.1h0M88 144.3h0M194.3 179.9h0M152.8 164.7h0M80.9 136.2h0M156.9 179.8h0M154.6 195.2h0M183.6 185.9h0M211.9 189.4h0M128.9 173.9h0M72 134.1h0M174 186.4h0M147.1 206.3h0M82.9 110.8h0M170.9 190.9h0M208.4 202.2h0M137.3 155.4h0M179.3 187.7h0M172.9 193.5h0M211.8 208.5h0M89.3 148.1h0M158.3 179.1h0M99.8 138.4h0M77.5 114.6h0M175.7 187.4h0M178.6 198.2h0M146.5 215.2h0M117.5 163.6h0M79.5 103.6h0M71.6 130.1h0M151.2 220.1h0M159.4 188.7h0M181.1 202h0M158.1 168.4h0M98.4 134.7h0M78.6 167.8h0M162.8 157.6h0M180.3 195.7h0M174.5 222.3h0M141 113.4h0M118.2 145.8h0M143.2 221.1h0M133.6 216h0M92.5 147.7h0M106.5 139.5h0M81.8 164.9h0M146.7 203.9h0M193.7 222.6h0M86.2 141.7h0M63.1 111.9h0M169.6 208.5h0M169 216h0M141.4 198.8h0M178.7 228.2h0M170.2 211.9h0M85.3 154.5h0M193.1 233.6h0M108.6 144h0M133.5 215h0M123.5 219h0M161.6 174.3h0M188.4 185.6h0M121.9 216.8h0M151.9 199.2h0M176.8 193.8h0M75.5 113.2h0M138.1 183.6h0M201.4 196.8h0M89.1 137.8h0M158.3 175.4h0M168.2 187.8h0M85.1 120.1h0M129.9 176.9h0M190.7 206.2h0M90.4 140.3h0M151.5 194.4h0M145.6 181.5h0M98.8 200h0M186.6 195.9h0M94.5 173.9h0M157.4 206.8h0M187 217.5h0M167.6 202.7h0M80.5 144.8h0M191.6 194.1h0M131.7 188.6h0M79.1 115.5h0M85.2 159.9h0M100.9 124.3h0M89.9 121.5h0M95.9 137.5h0M168.1 187.7h0M90.1 164h0M126.8 197.9h0M95.6 169.2h0M150.6 149.8h0M142.6 211.8h0M78 105.8h0M159.2 120.6h0M171.2 191.2h0M150.9 145.8h0M141.5 156.8h0M183.8 208.1h0M177.3 216.7h0M94 169.1h0M118.3 112.7h0M158.5 171.7h0M186 197h0M140.9 164.8h0M152.6 152.6h0M156.8 145.7h0M207.6 200.8h0M144.9 176h0M182.1 206.4h0M193.6 158.6h0M122 119.3h0M103.8 149.2h0M115 183.9h0M100.7 150.2h0M88.2 178h0M115.4 128.2h0M200.6 173.5h0M146.3 189.5h0M163.4 165.2h0M156.3 193.9h0M94.1 141.1h0M123.2 115.9h0M196.4 210.5h0M197.6 204.1h0M109.2 123.8h0M206.3 182.2h0M88.5 139.1h0M159.9 109.5h0M149.6 131.6h0M188.2 213h0M194.6 167.6h0M197.8 207.3h0M68.5 122.3h0M150 191.7h0M85.3 118.8h0M183.9 154.2h0" stroke="#0000ff" stroke-width="2.2" stroke-linecap="square" fill="none"/>
<path d="M202.1 169.5h0M189.8 171.7h0M181.6 165.7h0M207.4 157.2h0M204.6 181h0M166.5 168.4h0M98.3 196h0M199.4 169.5h0M114.7 215h0M212.9 172.7h0M245.6 122.4h0M201.3 156.7h0M133.1 147.9h0M210.4 145.3h0M137.4 182.2h0M104.9 153.5h0M110.5 170h0M95 210.6h0M105.3 158.5h0M204.3 152.4h0M182.9 155.3h0M212 153.9h0M87.3 180.8h0M108.1 176.9h0M200.4 181.2h0M142.4 175.6h0M167.7 183.4h0M147.2 187.4h0M227.5 163.8h0M86.5 181h0M189.6 155.2h0M103.6 209.3h0M184.3 176.3h0M129.7 183.7h0M141.7 200.8h0M222.5 168.4h0M218.8 166.3h0M161.9 166.2h0M126.5 147.8h0M159.7 166.1h0M87.2 199.9h0M213.1 177.5h0M155.4 157.3h0M141.2 180.4h0M217.4 160.9h0M95.4 196.9h0M88.1 194.6h0M228.4 130.6h0M196.2 179.8h0M165.1 150.6h0M95.2 191h0M159.6 153h0M224.4 133.7h0M236.1 149.4h0M80.7 176.3h0M196.2 165.3h0M230.7 147h0M107.5 207.5h0M83 148.4h0M133.1 153h0M179.3 149.5h0M206.7 164.8h0M204.6 162.9h0M237.1 138.7h0M180.2 170.1h0M220.2 162.5h0M124.8 203.6h0M166.8 163.4h0M117.9 162.7h0M108.3 197.4h0M120.7 160.8h0M120.4 196.9h0M86.1 191.6h0M124.9 217h0M221.6 141h0M182.5 159.2h0M192.9 163.3h0M205 162.3h0M168.7 168h0M221.7 170.9h0M90.7 175h0M104.6 209.3h0M150.5 169.3h0M174.4 171.7h0M226 145.1h0M198.9 173.8h0M91.4 185.3h0M182.5 141.4h0M238 142.9h0M187.3 136.2h0M144.5 175.8h0M89.3 192.1h0M228.9 160.2h0M120.9 205.6h0M131.3 177.3h0M100.4 168.6h0M131.2 205.8h0M85.1 182.8h0M165.2 174.2h0M226.3 139.5h0M160.6 170.8h0M107.4 167.1h0M96.5 154.8h0M86.1 181h0M136.2 169.2h0M186.5 141.1h0M77.1 194.4h0M155.4 120.2h0M184.6 173.5h0M172.2 205.6h0M134 204.3h0M232.1 143h0M79.4 177.9h0M90.1 199.2h0M115.4 216.7h0M96.6 186h0M180.2 173h0M201.8 169.5h0M78.7 150.2h0M106.2 173.2h0M153.2 170.4h0M96.3 164.3h0M96.2 178.5h0M227.1 146.1h0M232.4 146.3h0M188 187.7h0M221.5 164.5h0M104.9 151.9h0M181.9 184.5h0M114.8 178.3h0M226.1 144.3h0M212.8 145.3h0M94.7 201.1h0M133.4 153h0M93.9 182.1h0M110.1 191.9h0M93.1 190.5h0M143.7 182.8h0M219.4 153h0M119.6 209.6h0M199.6 153.8h0M162.9 151.1h0M84.6 202h0M228.4 157.7h0M147 214.4h0M190.2 133.6h0M88.7 197.1h0M188.6 178.7h0M195.2 154.8h0M194.2 156h0M216.3 162.1h0M114.6 182.3h0M221.9 169.1h0M138.5 190.2h0M199.2 155.5h0M221.4 168h0" stroke="#ff00ff" stroke-width="2.2" stroke-linecap="square" fill="none"/>
<path d="M161.7 107.8L160.8 115M187.2 213.1L183.7 210.2M104.8 212.1L108.7 207.8M105 102.1L108.7 109.9M157.5 183.1L155.7 175.3M177.8 224.5L173.9 219.5M200.9 180.7L196.7 179.2M175.4 218.6L171.8 211.8M194.1 165.2L188.3 164.8M192.1 188.2L187 183.9M198.1 212.8L193.3 208.6M77.7 149L85.1 151.2M199.6 170.5L192.5 170.9M160.9 125.7L159.6 131.8M58.8 103.8L65.4 106.5M100.1 133.8L106.9 137.6M71.2 114.9L77.1 117.4M193.8 200L187.9 195.7M98.6 154.9L107.1 156.9M201.9 168.3L194.4 166.2M78.4 162.1L86.9 161.3M166.5 140.3L162.7 147.9M170.1 212.1L166.1 206.3M178.7 205.9L176.6 201.8M89 115.9L96.5 120.5M185.8 183.7L177.5 181.3M193.9 168.2L189.7 168.5M140.5 232L142.6 226M69.9 116.9L77.2 120.6M105 195.1L110.3 189.4M205.2 241.6L200.2 236.5M103.5 200.3L109.9 194.3M203 203.8L197.6 201M122 101.5L125.2 105.6M157 106.6L156.6 113.1M221.1 187.6L213.9 184.5M161.3 111.2L160.5 116.3M113.7 138.7L118.7 143.5M209.8 190.8L204.1 188.4M192.8 193.9L189.3 190.6M200.9 203.3L195.4 197.4M173.6 222.6L173 218.6M170.4 232.2L167.4 226.9M186.4 150L179.7 153.4M203.1 196.6L197.1 193.1M188.3 184.5L182.2 181.3M129.5 224.6L132.9 217.3M200.1 184.1L193.7 182.4M73.3 118.8L77.9 120.4M98.1 208.3L101.2 205.6M187.7 221.9L184.7 214.5M79 109.6L82.9 111.4M87.4 138.7L93 142.6M101.1 109.2L106.2 113.6" stroke="#0000ff" stroke-width="1.4" fill="none" stroke-dasharray="2.6,1.2"/>
<path d="M226.7 145.4L221.7 147.1M144.7 162L148.2 164.7M214.8 153.9L209 156.1M212.1 160.4L203.7 162.8M109.3 206.4L113.1 202.6M74.4 193L81.6 188.8M166.6 152.8L159.8 157.5M88.6 201.9L93.7 198.6M78.1 186L82.1 185.4M219.6 170.5L213.1 171.3M198.6 168.2L191.1 166.6M245.7 125.3L238.2 127.3M206.2 153.2L198.3 156.2M95 155.4L101.2 156.5M115.6 186.9L119.6 185.4M187.7 174.2L180.1 172.1M94.1 197.6L101 193.9M95 208.5L98.5 205.8M223.9 174.5L218.7 173.6M77.1 195.4L82.9 194.1M243.3 132.6L239.4 134M156.3 213.8L154.3 206.6M223.2 183.5L215.4 179.7M120.5 208.5L123.2 202.3M171.2 146.7L164.9 150.2M80.3 195.2L84.5 192.8M209.6 146.9L201.8 149.3M213.4 145.9L204.8 147.7M133.1 190.4L134.8 186.3M208.2 166L202.1 165.6M163.2 163.6L155.2 165M90.3 194L94.4 190.9M99.4 180.4L104 179.8M194.1 134L190.6 136.5M198.9 176L192.5 173.5M233.1 133.3L226 137.9M214.7 165.1L209.4 164.3M226.7 147.9L222.6 149.5M200.4 157.1L195.7 156.9M112.2 164.3L119.2 163" stroke="#ff00ff" stroke-width="1.4" fill="none" stroke-dasharray="2.6,1.2"/>
<path d="M105 192.2L108.9 188.8M195.9 173L190.1 171.8M207.3 148.3L201.2 149.4M115.1 191.6L119.7 188.6M103.6 154.7L111.2 155M76.9 187.3L81.8 185.5M159.1 105.7L158.4 113M123.7 223.2L126.1 214.6M101.5 209.6L105.1 206.5M239.3 129.6L234.9 130.2M77.3 189.4L83.2 188M219.7 171L214.3 171.2M143.5 201.9L144.2 194.2M174.5 162.2L169.1 163.7M105.6 166.3L112.9 164.5M232.4 136.2L228.5 138.2M95.8 155.5L101.9 155.3M106.6 207.6L111.9 203.7M238.4 124.1L231.7 128.7M81.4 187.7L88 187.1M96 171.6L102.2 170.9M233.4 141.5L224.4 142.1M199.6 143.6L192.6 146.1M89.1 200.5L93.7 196.8M237.7 120L233.3 122.5M74.8 162.4L81.6 161.3M201.7 117.4L197.7 119.6M236.2 117.9L229.5 121.8M242.1 133.2L235.6 137.1M111.5 200.3L115.6 197.4M238.1 133.1L232.9 135.7M116.3 193.4L123.3 189.4" stroke="#ff0000" stroke-width="1.4" fill="none" stroke-dasharray="2.6,1.2"/>
<path d="M200.5 212.2L195.9 208.4M185.1 261.1L184.6 257M194 261.9L191.3 257.8M196.9 258.7L194 252.5M124.9 100.2L127.7 107.2M156.5 113.9L156.1 119.4M73.5 71.4L75.6 75.6M95.4 112.5L101.7 116.8M106.2 85.1L110.5 90.3M178 258L176.3 251.2M124.2 103.7L126.1 110.6M204.3 200.9L197.2 196.3M152.4 222.9L150.8 216.8M188.9 205.9L185.4 203.4M158.6 253.5L158.5 244.8M100.5 148.5L106 151.2M81.5 109.9L85.7 112M87.1 120.3L91.6 123.5M208.5 184.7L203.4 183.5M96.8 145.3L103.4 146.9M183 232.4L180.5 227.2M200.3 241.2L197.5 236M96.1 104.3L98.7 107.4M129.5 178.6L136 174.2M89.8 118.6L95 123.8M84.8 109.7L91 116M159 231.1L158.8 223M65 108.5L68.1 111.3M194.3 259.7L192 256M198.7 264.7L195.5 260M76.6 65.3L81.1 70.2M75.9 84.4L80.2 90.1M172.8 220.4L171.5 214.1M155.5 131.6L153.3 138.4M190.9 261L188.5 256.4M69.5 95.7L74.6 102.3M164.9 252.8L162.8 246.7M152.4 111.9L150.3 119.3M140.8 119.5L143.6 126.6M136.9 218.1L137.5 209.7M106.2 197.9L111.5 192.3M135.8 217.5L139.1 209.3M165.6 249.9L165.5 245.4M97.6 121.3L102.9 124.9M196.8 281.8L195.6 277M99.3 110.4L105.2 115.3M96.6 78L98.3 81.8M111.3 138.5L117.9 143.2M156.1 241L155.9 233M103.2 106.2L108.5 110.9M184 268.5L180 261.9M196 261.8L192.9 253.9M197.5 256L195.1 250.4M107.5 152.9L114.7 155.4M85 90L90.7 96.4M101.5 141.9L106.8 145.7M175.9 251.2L174.8 244.4M179.5 246.7L177 239.9M173.8 227.8L171 223.1M105.4 131.3L109 134.8M70.2 108.8L76.6 114.4M130.7 104.2L131.8 108.5M93.2 102.9L97.7 106.9M112.7 99.9L116.3 105.1M129.2 103.6L131.7 108.7M182.7 264.8L180.9 259M199.6 243.1L195 235.7M80.6 53.5L83.4 59.8M211.2 191.2L202.8 189M187.6 209.8L184 202.9M207.2 232.5L204 229.5M73.3 103L77.8 106.3M114.7 114L118.5 118M144 225.2L144.8 220.8M86.7 83.8L91.9 89.4M174.4 236.9L169.7 229.3M187 279.9L186.3 274.4M191 270.7L189.5 264.1M82 77.8L85.4 80.9M213.4 204.4L208.2 200.9M91.9 129.8L97.9 134.8M94.6 83.6L96.6 87.8M175.6 252.6L175.2 248.1M172.3 253.4L171.1 248.5M74.8 83.1L78.4 85.5M160.3 229.4L160.8 223.3M100.8 85.3L103.1 91.2M104.9 84.3L107.5 92.6M131.1 211.1L133.2 205.1M71.3 46.2L73.8 53.3M183.4 238.6L181.5 230.1M70.2 87.7L74.9 93.5M189.9 268.4L188.9 260.9M199.1 244.8L196.8 240.2M189.7 247.1L188.2 243.1M79.9 88.1L83.7 93.7M165.1 107.3L161.3 114.6M95.2 133.5L102.8 136.8M76.1 62.9L79.9 71M106.6 149.2L112.3 152.3M100.4 137.3L104.4 139.9M184.8 219.2L179.7 214.1M100 110.5L105.6 115.6M147.9 108.5L148.3 113.4M131.7 110.5L133.7 117.7M163.8 216.1L162.4 211.9" stroke="#00cd00" stroke-width="1.4" fill="none" stroke-dasharray="2.6,1.2"/>
<path d="M193 190.6L185.7 185.5M199.4 224.9L196.4 220.7M112.7 95.7L117.1 101M96.8 192.4L104 189.3M205.2 209L200.3 204.6M133.9 120.5L135.3 129.2M203.6 251.6L201.3 245.6M76.7 131.8L80.4 134.5M169.2 209.9L166 201.9M97.3 130.6L104.6 133.8M192.1 189.8L186.4 185.9M71.6 121.5L77.3 126.4M84.4 156.3L93 158.6M107.3 125L114.2 130.6M200 227.3L197.3 223.2M76.9 135.3L80.9 136.1M64.6 122.2L69.8 124.4M159.3 217.5L157.8 213M77.8 141L83.1 141.7M206.8 224.3L203.1 219.6M193.3 205.8L189.2 200.9M208.8 213L203.4 207.2M81.2 152.2L87.2 154.4M162.8 219.1L161.3 211.2M163 206.9L162.5 200.8M109.2 138.4L114.4 141M186.1 197.9L181.6 195.1M204.6 190L198.2 188.5M97.8 137.5L104.6 140.9M184.4 230.1L179.9 222.9M208.1 210.9L205.3 207.8M179.4 217.6L177 210.4M88.4 177.5L96.1 175.6M74.6 125.5L79.8 127.2M194.2 229.1L189.3 221.8M199 213.2L193.3 207.8M155.6 220.1L156.4 213M83.1 138L89.8 139.1M177.1 222.2L173.8 216.6M186 211.6L181.4 205.6M205.3 242.3L199.8 236.4M164.4 200.4L162.9 192.3M120.7 107.7L125.1 113.3M184.6 225.7L180.2 220.2M188.5 186.7L182.7 183M74.2 113.1L81.2 117M186.4 141.4L183 144.4M89.4 138.9L96.8 142M62.7 98.8L69.9 103.8M76.3 122.8L81.5 125.8M83.9 135.2L88.5 137.3M120.7 162.3L125.1 162.5M194.3 206.5L189.2 203.4M198.7 207.2L192 201.9" stroke="#0000ff" stroke-width="1.4" fill="none" stroke-dasharray="2.6,1.2"/>
<path d="M83.7 204.3L87.8 202.5M83.2 185.7L89.6 183.4M208.7 139L201.8 141.2M86.5 186.4L91.8 185.3M93.9 164.5L101.8 165.1M155.1 179.9L152.6 172.2M92.5 150.4L98.6 152.8M225.3 136L218.5 138.6M86.8 187.3L93 184.3M75.7 173.1L80.4 172.3M88.9 164.9L93 164.5M213.5 171.2L208.2 170.4M84.9 195.8L88.2 193.2M224.7 153.1L219.2 153.4M145.8 150.4L148 156.6M96.3 168L102.1 168M106.1 176.4L110.8 176.1M120.8 207.1L125.3 199.5M92.6 177.4L99.6 175.8M109.7 205.3L112.9 201.3M201.8 154.9L195.8 156.8M96 176.1L101.3 174.9M81.4 194.3L88.7 191.4M79.2 186.2L85.8 184.7M219.6 165.3L213.4 164M212.4 143.4L204 146.3M114.8 178.5L121.2 174.9M204 137.4L197 142M195.1 141L189.6 144.5M76.7 184.6L82.3 182.5M196.6 166.1L191.6 166.6M228 138.5L222.1 139.3M230.2 148L221.2 148.3M169.7 197.3L165.2 190M75.4 190.7L82.2 188.4M227.7 153.8L223.3 153.4M89 149.5L97.1 149.6M212 168.4L207.7 167.2M231.4 162.3L223.5 163M243.6 134.9L237.5 138.2" stroke="#ff00ff" stroke-width="1.4" fill="none" stroke-dasharray="2.6,1.2"/>
<path d="M228.6 132L220.7 134.1M193.8 179.6L187.8 176.5M93.1 184L97.1 183.4M224.1 157.8L216.6 156.8M207.2 131.1L202.2 135.2M116.6 193L120.1 191.1M115.6 217.2L120.6 209.9M227.5 147L222.1 148M182.5 134.1L176.7 140.6M175.4 175.7L169.2 172.8M241.4 121.9L234.6 125M231.7 130.4L225.2 133.3M93.2 158.5L97.3 158.9M134.9 135.7L137.7 143.9M197.7 178.8L189.8 176.7M159.8 229L157.5 221.8M210.3 147.8L203.3 148.3M167.7 106.2L167.4 111M199.8 140.8L192.2 144.9M243 130.3L235.7 134.9M180.2 136L176 140.3M160.1 219.7L159.7 212.4M170 154.7L162.9 158.7M233.2 123.5L227.4 125.8M203 169.8L194.3 168.1M217.5 149.3L212.9 150.2M198.6 155.4L191.2 155.8M227.8 118.2L223.7 121M249.9 119.6L245.9 122.3M149 214.4L148.9 210.1M235.2 144.9L227.3 145.5" stroke="#ff0000" stroke-width="1.4" fill="none" stroke-dasharray="2.6,1.2"/>
<path d="M129.6 103.7L130.6 107.8M195 266.3L192.8 259.8M71.5 46.4L77.8 52.7M185.9 222.1L184.3 217.3M167.6 217.5L165.8 210.5M163 107.6L159.5 114.9M59.5 101.9L64.3 105.8M81.5 88.7L84.6 92.7M92.8 102.2L98.4 109.1M77.7 80L81.9 87.6M99.7 137.5L106.9 139.7M102.9 85.7L105 91.9M149.3 235.4L149 228.2M109.5 134L115.8 137.3M100.5 118.4L104.9 125M107.9 105.6L111.1 113.2M193.3 253.8L188.1 246.9M74.7 77.3L77.7 81M120.7 122.6L122.3 126.6M123.3 119.3L126.8 125.2M198.1 258.5L195.9 249.9M151.9 236.3L152 229.8M73 130.6L79.8 134.4M75 132.4L79.7 134.1M110.9 107.8L114.1 114.4M205.5 212.1L201.4 208.6M75.4 81.1L79.8 84.3M198.9 274.5L195.6 269.9M195.3 255L192 247M111.1 108.2L113.7 111.4M193.1 260.9L191.6 256.3M72.9 93L76.9 95.3M175.4 266.6L173.8 259M97.7 90.8L100.6 96.9M189.7 214.2L184.4 209.3M113 125.1L116.3 130.3M163.6 254L162.1 248.7M197.7 228.7L193.8 224.9M67.6 90.8L74.3 96.5M71.1 87.9L78.3 92.5M97.1 89.6L99.9 94.6M207.4 214L202.8 208.7M90 76.3L94.9 82.1M174.5 264.9L173.1 259.1M67.2 75.3L72.1 81.5M109.1 152.2L113.2 153.1M105.3 145.5L112.5 148.6M120.2 95.4L123.9 101.5M120.1 129.6L125.1 134.5M161.1 247.8L158 239.4M67.2 100.3L71.1 102M107.4 131.9L114.1 135.8M85.7 95.6L89.8 102.7M79.8 54.6L83.4 61.9M163.7 244.2L160.9 236.7M140.7 221.2L140.9 216.3M98.1 103.6L101.2 107M93.4 94.2L97.7 102M117.7 103.4L120.2 110.2M150.4 224.8L150.8 220.5M110.9 96.5L113.9 101.2M182.5 112.8L178.1 120.2M200.9 195.9L195.3 191.5M79.9 113.9L83.5 116.3M121.2 131L125.8 138.1M119 104.2L121.1 112.1M191.6 257.7L189.2 249.2M170.3 234.2L169.3 225.8M138.1 227.7L139.6 223.6M185.1 227.4L183.2 223.4M88 86.2L92.3 91.2M106.4 94.6L108.8 98.3M111.7 134L117.5 136.8M119.6 129.9L124.2 134M66.1 122L74 125.6M102.5 83.9L105.6 89.9M79.5 125.2L86.4 129.3M98.5 140.2L106 143.3M194.6 276.4L190.5 268.8M179.3 225.8L176.3 220.7M92.7 133.4L99.1 137.7M193.9 241.7L192.3 236.1M76.6 92.5L82.8 98M184.1 245.7L180 239.2M185.5 223.7L183.1 220.2M198.3 248.6L196.5 244.5M183.2 255.5L182 246.9M82.8 104.8L87.3 108.9M200.2 268.8L198.4 261.1M160.8 210.1L159.6 202.7M70.2 131.6L76.7 134.9M79.2 131.2L83.9 133.7M106 133.9L110.8 137.4M111.8 125.5L116.8 131.7M188.7 281.8L187.2 277.4M108.5 88.8L110.9 94.2M184.7 232.3L182.3 229M93.1 134.2L100.5 137.1M171.5 242.4L169.4 234.6M111 123.9L114.5 129.6M69.9 51.7L74.4 58.1M191.8 247.6L189.7 241.3M153.7 122.3L154.4 126.5M198 264.1L196.1 259.8M140.2 132.5L141.9 136.4" stroke="#00cd00" stroke-width="1.4" fill="none" stroke-dasharray="2.6,1.2"/>
<path d="M178.4 212.8L176.6 208.9M186.5 168.4L179.9 168.4M73.6 143.3L80.3 145M231.5 164.5L222.8 163.5M115.6 131.8L121 138.2M218.1 183.2L210 182.3M201.1 220.2L197.8 215.5M171.5 217.9L170.1 211.3M72.8 134.2L80.3 136.5M115.7 193.9L120.6 188.8M206.3 195.4L199.8 192.9M210.6 213L205 207.3M81.4 131.8L85.1 134M106.8 146.4L111 149.3M196.2 195.8L192 193.3M205 216.3L199.2 212.1M141.3 111.1L143.5 116.4M160.3 102.6L157.2 110.7M94.7 149.8L101.5 152.4M67.4 139.1L75.4 142.4M193.8 186.1L188 184.1M200.5 186.7L196.2 184.5M73.2 157.7L80.3 158.6M216.3 182.1L210.7 179.7M77.9 126.4L85.6 131.1M194.2 245.6L189.6 238.1M159.1 217.8L159.4 210.2M102.8 121.7L106.7 126.8M188.5 213.5L185.9 210.5M158.4 208.1L155.7 200.6M126.5 113.8L127.7 118.1M221.3 186.4L215.9 184M206.1 210.1L201.9 205.6M101.9 163.9L108 165.4M145.4 188.6L146.6 183.6M143.8 114.1L146.7 122.1M177.6 209L172.6 202M72.8 123.8L76.6 126.1M214.4 201.7L209.1 199.7M102.6 100.7L105.9 105.9M101.2 216.8L106.6 210.3M176.8 230.7L176 225.6M90.2 155.2L94.3 155.7M151.7 106.6L150.6 115M82.3 118.5L88.5 122.7M179.7 202.9L176 198.9M69.4 140.3L77.9 143M73.6 150.4L78.6 151.5M143 209.9L143.1 202M130.4 121.3L132 126.7M117.3 211.2L119.2 207.2M205.7 204.4L201.4 199.9M88.6 127.9L93.6 130.1M151.1 219.7L149.8 214.1" stroke="#0000ff" stroke-width="1.4" fill="none" stroke-dasharray="2.6,1.2"/>
<path d="M209 156.7L202.4 156.4M82.1 195.1L87.8 193.7M237.1 135.5L230.9 136.5M168.3 208.7L164 202.2M206 167.4L200.4 167.7M135.1 219L136.6 212.8M211.2 156.4L203.9 156.3M160.7 207.4L158.9 202.2M92.5 192.5L97.7 190.7M109.2 191.9L115.7 186.7M85.2 199.4L90 197.7M141.5 210.8L143.3 206.6M225.3 135.6L220.9 138.4M202.4 130.6L195.4 133.1M220.2 126.5L216.6 128.5M193.8 151.9L189.2 153M81.7 182.2L88.5 181.4M78.4 169.7L83.7 168.5M79.2 186L84.2 183.7M204.9 155.3L200.4 155.6M215.1 145.7L209.4 148.8M229.3 142.6L224.9 143.7M219.4 162.1L214.3 161.4M162.4 204.4L160.4 200.5M165.9 206.7L162.4 199.6M226.8 146.3L221.7 148.2M223.8 158.7L219.7 159.2M220 165.3L213.5 163.9M222.1 178.1L217.6 176.6M199.5 176.6L192.3 174.5M123.4 199.8L128.1 195.8M234.2 152.7L228.5 154.2M99.3 166.4L105.4 164.9M97.7 168.7L105.5 168.4M228.1 137.5L223.7 138.8M90.6 182.3L95 181.4M195.3 180.9L188.5 177.9M104 199.6L107.2 195.9M81.3 181L88.8 179.9" stroke="#ff00ff" stroke-width="1.4" fill="none" stroke-dasharray="2.6,1.2"/>
<path d="M183.4 146.6L176.7 150.1M91.3 204.5L96.2 202.1M207.4 110L201.6 116M75.4 172.4L83.1 170.3M215.8 159.7L209.3 160.4M119.6 211.4L123.7 205.2M175.5 242.4L173.9 238.3M210.6 165.4L206.3 166.2M244.9 123.4L239.8 126.7M214.7 157.9L210.5 158.6M210.9 140.3L202.8 143.6M186.2 118.7L182 126M78.3 152.4L87.1 154.3M109.6 204.3L115.7 199.8M98.5 176.8L103 176.5M230.5 168.2L222 166.7M136.9 109.5L137.4 114.1M120.1 209.1L125.4 203.3M154.2 135.8L154.5 144.7M105.4 169.9L112.8 168.6M103 200.8L106.6 198.3M220.3 137.3L212.8 139.3M192.7 156L187 156.2M117.5 197.9L120.9 193.4M80.7 169.6L86.8 168.1M107.7 207.1L111.9 204.4M93.5 156.5L100.4 158.8M148.9 240.9L149.7 232.9M97.5 212.2L103.6 206.1M191 163.9L185.2 164.1M94.1 176.2L99.2 176.3" stroke="#ff0000" stroke-width="1.4" fill="none" stroke-dasharray="2.6,1.2"/>
<path d="M71.5 93.5L76.8 97.1M83.1 63.2L86.6 67.5M199.5 250.9L194.4 243.6M91.5 73.7L94.1 80.1M141.6 109.3L143.8 116.9M190.1 231L185 225.2M79.2 152.1L87.6 152.7M100.6 139.6L107.1 141.3M108.1 139.3L111.3 142.2M214.3 201L208.2 197.2M195.2 220.2L190.7 214.4M102 73.5L103.5 78.9M82.2 125.9L86.1 128.3M93.4 79.3L95.9 82.8M69 76.3L73.4 83.8M106.4 82.5L110.1 87M199.9 198.5L192.1 195.3M198.7 199.4L194.8 197.4M84.6 65L86.7 69M201.3 259L199.1 251.5M93.3 118.9L100.6 124M153.6 233.6L152 227.1M70.4 97.9L74.9 101.3M80.2 98.8L85.1 101.7M193.6 251.9L191 248.7M112 128L117.8 132.5M66.5 98.7L71.1 103.9M117.3 99.5L120.7 103.8M113.8 112.6L116.7 118.1M96.6 89.4L98.3 93.4M81.4 81.3L83.4 85.1M187.2 204L183.6 199.6M91.4 105L98 109.3M174.6 226.6L172.7 222.4M197.8 247.6L194.2 241.9M151.8 238.2L151.1 231.1M207.3 222.6L204.4 217.9M99.8 127.5L104.7 131M198.7 205.6L194.9 203.5M87.2 69.6L89.2 74.2M65.6 97.8L69.7 101.4M71.7 91.1L76.6 96.3M69.2 67.3L72.4 72.6M86.9 68.6L88.9 72.1M95.5 132.8L101.3 136.5M171.4 248L171 243.2M94.6 112.4L101.2 117.6M105.6 84.5L110.3 90M184.7 224.1L181.8 220.8M77 103L79.7 106.1M184.4 262.1L183.5 253.3M88.9 86.6L91.7 92.4M198.6 263.8L196.4 255.2M196.8 235.4L194.1 231.5M141.2 234.2L142.1 228.5M201.6 227.7L195.7 222.9M197.6 281.6L196.5 276.6M204.1 236.6L200.1 231.1M110.2 117.1L112.4 120.9M76.5 104.5L82.6 108.9M96.1 88.3L99.7 94.2M175.7 243.1L174 235.2M197.2 216.5L193.7 211.5M98.4 92.1L100.7 95.9M207.6 223L203.1 219.4M109.6 84.9L113.1 92.8M157.2 241.7L157.6 237M68 62.6L72.5 69.8M118.5 119L120.3 122.7M205.8 200.4L199.4 195.8M106.5 95.6L112 102M153 239.2L151.6 233.3M126.2 99.6L127.2 107M106.2 173.8L113.9 171.2M69.7 67.6L72.8 71.4M171.4 219.7L169.4 214.9M74.2 127.4L78 129M182 197L178.5 191.9M197.4 240.7L195.3 236.5M202.4 255.3L199.7 250.2M175.8 246.5L175.4 239.4M174.3 257.7L172.2 249.6M207.7 225.8L204.9 222M116.3 112.6L120.7 119.3M215.1 208.7L209 202.1M185.5 233L182.1 227.9M143 220.2L144.4 216.2M189.6 277L187.1 268.7M101.9 89.2L105.4 95.5M133 104.6L134.1 112.9M88.4 62.7L93.6 69.8M87.2 145.4L91.9 146.6M125.1 117.5L129.2 123.1M71.6 79L75.3 82.4M94.6 118.8L99.7 122.8M184 206.9L180.3 200.4M104.1 97.1L109.1 103.8M76.1 107.7L82.5 112M89.9 74.9L94.4 79.6M76.4 93.5L79.5 98.3M88.7 107.2L92 111.7M85.6 143.6L91.1 146.8M74.8 64.1L77.5 67.5M73.3 104.9L77.6 107.9M127 109.6L128.4 113.8" stroke="#00cd00" stroke-width="1.4" fill="none" stroke-dasharray="2.6,1.2"/>
<path d="M68.4 132.5L72.5 133.6M80 103.4L84.8 106.8M94 102.5L99.8 107.4M62.6 117.8L66.1 119.7M202.9 158.6L195.2 159M155.6 221.5L154.8 216.6M116 220.2L121 213.4M81.2 116.1L86.5 118.8M74.8 131.6L79.5 133.7M200.7 210.6L194.5 205.3M74.2 115.4L79.8 119.2M201.2 235.4L198.2 232M205.7 176.1L200.3 173.6M190.9 198.1L187.6 194.3M140.8 214.3L141.6 208M96.2 125.9L100.8 130.4M213.5 171.9L209.4 170.7M187.7 221.7L183.8 214M190 185L186 181.8M73.8 106.2L78.6 109.3M146.3 213.7L147.9 204.9M92.9 134.8L96.6 136.6M197.2 214.9L192.8 210.8M105.3 214.1L108.5 208.7M116.1 205.9L118.9 201.9M79.5 131.3L85.6 134.4M76.6 103.1L81.5 106.4M121 215.8L123.6 209.3M144.7 159.4L148.3 164.6M80.5 144.5L86.1 146.4M220.9 187.2L215.5 185.6M152.8 189.7L151.2 180.9M84.2 125.1L91.7 128.2M72.5 107.2L77.9 110.5M175.4 204.8L171.5 198.5M65.2 113.1L72 115.8M76.5 117.9L80 120.3M189.8 186.7L182.2 182.8M152.6 180.5L150.9 174.9M178.7 198.9L175.3 194.5M192.6 155.6L186.1 156.1M196.8 168.2L189.6 168.9M175.2 161.5L167.7 163M77.4 141.1L84 143.5M164.6 201.9L163 196.2M210.8 217.7L207.2 214.3M83.6 130.6L87.7 134.2M199.6 186.1L196.2 183.7M212.4 164.2L206.1 164.2M207.5 184.9L200.6 180.9M199.2 229.6L194.9 223.8M194.8 197.1L191.6 193.5M157.6 211.4L157.7 206M214.1 208.6L210.4 205.4" stroke="#0000ff" stroke-width="1.4" fill="none" stroke-dasharray="2.6,1.2"/>
<path d="M99.8 179.7L106.5 178.4M100.6 202.5L104.8 199.6M223.5 157.2L217.5 158.5M144.6 165.7L149.3 165.5M200.6 151L195.9 152.4M84.7 195.7L92.7 193.9M210.8 163.8L202.9 163M217.3 135.8L212.4 138.4M77.2 182.5L86.1 182.4M231.9 153.3L227 154M225.8 156.6L220.2 158.5M206.6 175.4L199.5 173.6M101.1 175.2L107.5 175M235.9 149.4L231.1 149.6M95.2 197.9L102 193.5M74.5 178.5L82 178.5M144.4 189.8L146.5 182.9M191.8 154L186.1 156.6M77.9 188.5L83.3 185.8M211.4 172.3L204.8 170M193.1 172.1L186.9 170.3M237.3 132.2L229.9 134.3M213.6 167.8L209 168.1M141.3 194.8L143.7 190.1M75.3 177.5L81.6 177.8M84.8 188L88.2 185.9M235.9 139.1L229.4 141.9M132.2 217.7L133.6 211.6M98.4 178L106.6 177.8M204.8 141.5L197.5 144.3M197.8 142.3L191.5 146.3M102.6 178.7L109.6 176M124.1 211.5L126.8 204M224.6 167.6L220.5 166.7M79 176.9L86.9 173.8M211 158.8L202.2 158.3M167 112L165.9 119.7M220.4 175.6L215.2 175.3M226.1 171.1L218.3 171.4" stroke="#ff00ff" stroke-width="1.4" fill="none" stroke-dasharray="2.6,1.2"/>
<path d="M163.4 118.9L161.6 123.2M224.2 122.6L219.8 126.8M161.4 157.8L156.4 162M195.8 127L192.1 130.2M119.4 198.7L122.8 193.9M83.1 155.8L87.6 155.9M202.3 149.7L194.1 153.3M107.5 188.8L114.5 185.7M154.6 224.8L153 218M213.2 147.5L205.4 148.3M233.4 131.8L224.8 133.8M82.4 163.5L88.4 164M158.1 244.1L157.8 239.3M114.1 192.7L117.7 190.6M192.6 126.4L188.8 130.6M199.4 152.9L191.4 156.2M195.7 135.9L188.8 141.1M122 192.9L125.2 189.7M80.7 197.8L88.1 193.4M221.6 128.6L214 131.6M108.3 203.3L114.9 199.4M235.6 127.2L227.7 130.5M137.8 168.6L143.3 166M102 199.6L108 195.3M138.5 227.7L140 221.9M91.2 184.6L96.1 183.3M198.9 110.5L195 113.3M118.5 215.1L122.6 209.9M243.1 131.3L236.4 134.1M172.3 207L170.2 200.7M246 125.9L238.4 130.4" stroke="#ff0000" stroke-width="1.4" fill="none" stroke-dasharray="2.6,1.2"/>
<path d="M122.7 110.2L127.5 116M154.9 241.2L153.5 236.5M102.8 78L106.2 86M200.4 276.5L196.7 269.8M135.6 111.6L139 118.4M192.4 261.1L187.7 253.9M106.4 123.3L111.2 127.6M192.1 261.1L190.3 255.7M102.7 96.1L106 99.5M80.9 169.7L86.9 168.8M164.6 245.5L162.9 239.6M66 93.9L71.7 97.9M177.8 256.1L175.1 248.9M190 231.3L186.3 226.2M67.5 85.6L73.8 90.7M195.4 262.7L193.6 254.8M144.9 213.2L146.3 204.9M172 225.9L169.5 220.1M174.4 244.9L173.1 241.1M119.5 153.1L125 154.5M177.4 207.7L172.7 202.2M184.6 236.9L180.7 231.7M74.6 55.9L80.2 61.4M95.6 95.9L98.5 101.7M99.5 115L104.8 120.6M167.6 233.3L166.2 225.2M165.8 208L163.8 204.2M78.6 132.4L85.8 133.9M121.4 98L124.5 102.8M195.8 260.5L194.1 255.9M147 120.1L146 127.7M92.2 86.2L95.1 89.4M192.3 239.4L187.7 234.5M84.6 82.2L88.6 88M213.5 195.3L209.7 193.1M78.5 84.8L83.3 88.5M104.5 101.3L108.3 107.9M115.3 153.1L123.5 155.9M74 81.9L78.8 88.1M71.1 61.4L73.1 65.5M103.7 112.7L105.9 116.7M173 249.2L172.2 241M189.3 219.9L184.6 214.6M73.3 95.3L79.4 100M167 251.3L166.3 243M108.7 124.2L114.2 128.5M113.8 95.9L118.5 101.4M182 271.2L180.7 264.4M111.4 102.3L115.5 106.8M185.9 249.1L182.1 242.4M85.3 102.6L91.8 107.1M133.8 110.2L135.7 114.6M143.4 119.7L144.6 126.9M86.7 108.3L91.2 111M91.8 66.9L93.2 71.3M207.9 223.4L202.4 217.6M120.4 213.1L126.4 206.6M163.7 223.9L162.6 216.5M79.3 50.9L82.5 57.8M186.9 236.6L185.2 231.3M194.8 268.6L189.8 261.4M161.7 238.5L161.9 231.3M92.5 125.5L98.4 130.2M148.9 111.1L147.2 120M117.6 118.2L121 121.8M184.6 252.7L181.5 244.9M154.9 244.8L155.2 239.6M109.9 82.9L113.4 87.1M110.4 126.6L116.8 132.2M67 75.5L70.8 78.6M114.1 129.9L117.7 132.5M181 238.6L177.4 232.9M197.1 284.5L194.8 279.8M178.1 210.7L176.4 206.9M157.4 247.4L156.7 241.9M93.1 66.6L98.2 72.6M122 125.8L123.9 129.8M189.5 256.4L188.4 250.3M106.2 145.2L114.2 148.8M197.5 197.8L191.9 192.1M62.7 104L68.7 107.1M203.7 244.5L199.1 238.2M211.3 198.2L207.6 196M174.5 260.3L171 252.4M90.6 72.3L94.3 76.8M196.8 202.8L192.4 197.5M138 230.5L139 226.2M170.8 261.3L167.8 253.8M82 97.1L85.4 100M118.4 123.5L122.6 128.1M191.1 281.5L189.9 275.6M102.6 155.8L111.4 157.2M68.1 101.9L73 104.6M84.6 157.6L90.6 157.5M200.3 260.8L197.9 256.9M132.6 106.3L134.8 111.6M179.6 242.9L178.8 237.4M187 274.5L183.3 267.6M195.6 274.9L192.2 267M70.7 60L75.7 66.9M77.8 88.5L81.1 93.8M202.6 232.4L200 227.9M84.7 103.4L90.1 108.8M172.3 233.6L170.4 227.3M94.6 128L100.3 132.9" stroke="#00cd00" stroke-width="1.4" fill="none" stroke-dasharray="2.6,1.2"/>
<path d="M110.4 117.1L114.7 124.8M200.9 186.4L194.3 182.9M148.9 211.7L147.9 206.8M186.6 202.2L182.7 198.6M207.7 197L201.3 194.7M199 158.7L190.8 158.3M68.6 123.7L73.3 126.4M151.7 181L151.7 176.5M201.3 213.3L196.7 207.5M192.4 192.9L189.2 190.4M111 201.5L115.8 196.1M151.9 218.9L153.1 210.5M71.6 127.5L78.6 129.1M91.8 144.7L100.4 146.3M137.3 212.5L137.8 208.3M203.6 181.4L196.2 179.1M104.4 173.6L112.2 170.3M123.3 128.6L126.2 133.4M67.4 118.2L74.4 122.2M184.7 211.4L180.7 204.1M208.9 202L204.9 199.4M114.7 132L120.7 137.9M158.6 202.8L157.5 198.7M78.8 165.6L84.6 165.5M101.9 119.7L107.1 127M86.8 147.8L93.9 150.1M78.6 100.7L81 104.2M207.5 192.3L201 187.3M71.6 125L78.3 129M195.4 191.8L191.7 188.2M67.1 111.5L70.9 113M91.4 135.1L96.9 137M178.6 201.5L175.7 197.8M100.4 129.9L106 134.4M197.8 201.7L194.5 198.8M172.7 207.1L170.7 202.6M72.9 108.8L77.6 112.9M67.1 129.1L73.2 133.2M167.3 217.8L165.9 209.6M211 196.8L204.7 191.6M100 150.2L108.4 152.5M188.1 192.2L182.5 186.5M117.9 193.6L123 190.5M173.3 144.5L168.8 148.1M210.1 191.5L206.7 189.4M70.1 114.3L76.1 120.3M185.6 200.7L180.8 194.8M121 208.9L124.5 204.8M86.8 131.7L93.2 136.8M230.5 159.8L223.6 160.6M201 201.7L196.5 197.2M169.8 184.5L165.9 179.3M154.8 216.4L154.8 211.9" stroke="#0000ff" stroke-width="1.4" fill="none" stroke-dasharray="2.6,1.2"/>
<path d="M212.4 167.8L208.2 167.2M74 158.1L82.6 160.5M87.6 166.1L94.2 166.9M95 197.9L99.8 193.4M220.2 145.3L213.1 146.1M103.7 197.1L107.8 193.6M115.8 203.2L120.9 195.8M79.2 174.5L85.1 175M205.7 168.6L200.5 167.8M154.4 145.9L153.2 150.9M208.1 160.8L203.2 160.3M211.2 157.5L206.3 159.2M77.2 178.4L81.9 178.1M82.1 187L86 184.7M217.4 146.6L211.7 147.3M224.8 143.7L220.2 145.7M106.6 159.9L111.6 161.6M216.3 170.2L209.6 170.6M210.9 148.3L204.8 149.8M141.3 210.6L144 203M240.3 145.5L233.4 148.3M188.8 158.4L184.2 159M125 205.5L127.7 201.5M239.3 138.8L234.1 141.5M160.6 155.9L156.9 158.4M206.7 149.7L201.6 150.3M84 206.6L88.2 204.3M222.7 154.8L217.5 154.8M88.3 191.7L96 189.7M74.7 149.8L81.5 150.7M101.2 217.8L105.3 210.4M77.9 173.7L85 172M79.2 164.3L85.9 166M75.1 161.7L79.4 161.8M78.2 173L85.7 170.6M223.5 149.6L218.1 150.9M90.5 182.6L96.9 181M227.7 155.8L222 156.1M230.4 134.4L223.9 136.8" stroke="#ff00ff" stroke-width="1.4" fill="none" stroke-dasharray="2.6,1.2"/>
<path d="M184.8 119.2L180.4 125.7M131.5 112.5L135 119M169.1 116.7L165.3 123.1M78.1 161.5L83.2 162.7M121.6 157L129.6 157.6M94.6 169.5L102.6 169M110.4 197.8L114.5 194.2M107.5 197.6L112.1 194.8M145.5 225.3L145.6 217.2M93.4 196.6L99.8 192.7M224.6 139.5L216.7 141M141.9 173.7L146 169.9M99.9 196.7L106.1 192M195.6 130.9L191.8 133.1M118.1 202.3L122.4 198.9M241.4 126.9L236.4 128M103.1 152.2L109.3 152.6M238.6 132.4L231.4 136.2M85.7 171.2L91.3 171.8M214.1 161.9L208.1 161.4M240 139.4L233 143.1M100.5 192.8L105.7 189.4M169.6 242.4L167.9 238.5M170.5 218.7L167 210.4M102.4 190.8L106.6 187.5M177.8 211.2L176.1 206.4M107.1 194.2L114 189.7M195.6 153.6L189.6 154.2M204.7 137.9L197.9 141.7M201.7 143.2L198.4 145.7M230 133.9L222.6 138" stroke="#ff0000" stroke-width="1.4" fill="none" stroke-dasharray="2.6,1.2"/>
<path d="M175.8 257.2L173.8 250.4M78.6 109.3L83.9 114.1M85.4 76.1L89.2 83.3M176.6 220.5L173.4 214.1M168.9 251.2L168.6 242.6M161.2 224L159.5 216M76 98.8L81.5 102.3M159.4 210.6L156.6 203.3M88.1 76.4L90.1 80.2M139.6 117.9L140.2 125.2M177 266L174.7 260M98.3 107.5L102 111.6M105.1 155.6L113.5 156.2M98.4 95.8L101.8 101.4M84.1 126L89.1 130.1M91.9 87L94.9 92.2M180.7 271.8L178.4 265.8M128 106.6L129.5 113.7M79.4 71.3L83.2 76.9M113.6 208.1L117.6 201.7M210.3 224.9L205.9 219.1M163.6 220.8L159.9 213M111.7 133.2L117.5 136.4M125 150.2L130.8 155.6M167.7 249.2L167.2 244.2M96.5 107.3L102.1 111.8M189 269L187.3 263.3M186.2 269L184.4 264.6M111.8 139.9L115.1 142.7M64.8 102.1L71.5 105.8M194.9 272.4L191.9 267.6M105.6 101.4L109.9 106.4M148.2 225.4L149.2 218.5M103.8 121.2L110.5 125.7M87.6 80.1L91.5 83.7M187.8 244.1L185.3 240M199.5 244.5L197 239.3M184.7 228.2L180.8 223.2M96.9 109.3L101.8 115.6M120.7 100.8L123.8 105.9M103.6 79.4L107.9 87.3M76.8 78.6L80.6 82.6M78.6 112.1L81.4 115.3M199.5 247.6L197.1 244.4M142.6 124.5L144.1 129.1M74.5 99.3L79.7 104.3M186.7 265.7L184.8 260.1M105.5 125.8L111 129.6M118.4 117.3L120.3 122.4M192.7 282.9L190.6 277.7M202.3 252.1L199.5 248.7M214.8 194.5L208.9 191.5M126.1 109.3L127.4 116.6M105.4 78.6L110.8 85.5M189.9 258.5L185.8 253M155.7 119.8L156.5 127.4M132.9 108.3L133.9 114M103.8 98.7L105.6 103.3M89.5 91.8L93.1 95.4M182.9 235.2L180.1 230.7M194.1 258.8L192.7 252M195.3 275.2L194 271.3M184.8 255.2L183.5 247.4M195.7 255.9L194.4 250.6M174.3 225.8L172.9 220.8M74.7 106.9L78.7 110.1M70.5 138.8L77.6 141M138.5 119.3L140.1 123.3M162.6 252.9L162.5 245.8M115.9 99L119.1 103.9M185.7 272.8L184.3 268.7M89.5 153.4L93.8 154.1M78.7 139.7L86.6 140.8M112 84.8L114.4 92.1M94.7 68L97.4 75.5M152.1 230.3L153.1 221.8M215 203.2L208.7 198.3M199.1 272L196.5 265.9M196.8 229.6L193.6 222.8M86 66.1L89.5 70M154.9 211.6L153.7 207.3M78.4 106.2L83.5 110.6M90.5 108.2L94 113.7M81.5 107.8L85 111.5M85.6 160.8L92.3 159.7M192.3 284.4L188.8 277.6M199.7 266L197.6 257.8M118 102.7L120.3 111.1M170 254.7L168.1 250.1M212.8 219.3L206.9 213.1M70.4 72.4L73.5 77.6M94.9 122.3L98.7 124.8M219.8 190.8L211 189.2M79 61L85 66.9M70.7 109.8L77.9 113.6M199.1 275.1L197.4 270.6M118 134.2L122.1 138.9M163.2 248.4L162.2 243.1M178 266.5L177.7 260.5M176.3 248.6L173.7 242.8M70.5 55.2L72.2 59.1M150.2 233.3L148.6 226.7M144.8 231.8L145.4 224.6M90.5 67.2L92.2 71.1M68.8 77.9L71.1 81.9" stroke="#00cd00" stroke-width="1.4" fill="none" stroke-dasharray="2.6,1.2"/>
<path d="M71.8 97.5L74.9 97.8M78.3 97.5L81.1 97.6M90.1 97.5L93.1 97.4M101.5 97.5L104 97.7M106.1 97.5L110 97.7M112.6 97.5L116.2 97.5M118.5 97.5L121.2 97.5M124.6 97.5L127.8 97.4M131 97.5L134.3 97.5M136.9 97.5L139.5 97.5M147.8 97.5L150.8 97.7M153.6 97.5L157.1 97.4M166 97.5L169.1 97.5M171.3 97.5L174.5 97.4M68.4 100.9L71.7 101M75.1 100.9L77.9 101M93.7 100.9L96.7 100.9M100.1 100.9L102.7 100.7M105.3 100.9L108.3 101.2M111.3 100.9L114.9 100.9M117.8 100.9L120.5 100.7M123.3 100.9L125.9 100.6M135.1 100.9L138.5 101.1M140.8 100.9L143.9 101.2M146.3 100.9L150 100.6M129.4 103.8L132.6 104M148.2 103.8L150.7 103.6M160.6 103.8L163.4 103.5M165.9 103.8L168.6 103.8M122.5 106.7L126.4 106.7M136 106.7L138.8 106.8M142.3 106.7L145.5 106.6M148.6 106.7L152.1 106.6M155 106.7L158.7 106.7M161.7 106.7L164.4 107M76 109.7L80 109.9M121.3 109.7L124.3 109.7M126.4 109.7L129.5 110M152.3 109.7L156 109.8M129.6 112.4L132.7 112.7M135.2 112.4L139.1 112.2M142.5 112.4L146 112.6M155.1 112.4L157.9 112.5" stroke="#0000ff" stroke-width="1.5" fill="none"/>
<path d="M68.8 49h0M68.8 52h0M68.8 55h0M68.8 58h0M68.8 61h0M68.8 64h0M68.8 67h0M68.8 70h0M68.8 73h0M68.8 76h0M68.8 79h0M68.8 82h0M68.8 85h0M68.8 88h0M68.8 91h0M68.8 94h0M68.8 97h0" stroke="#00cd00" stroke-width="4.2" stroke-linecap="round" fill="none"/>
<path d="M71.5 47.5h0M74.4 50.2h0M77.2 53h0M80.1 55.7h0M82.9 58.4h0M85.8 61.2h0M88.6 63.9h0M91.5 66.6h0M94.3 69.4h0M97.2 72.1h0M100 74.9h0M102.9 77.6h0M105.7 80.3h0M108.6 83.1h0M111.4 85.8h0M114.3 88.5h0M117.1 91.3h0M120 94h0" stroke="#00cd00" stroke-width="4.2" stroke-linecap="round" fill="none"/>
<path d="M57 99.2h0M57.8 101.9h0M58.6 104.5h0M59.5 107.2h0M60.3 109.9h0M61.1 112.6h0M61.9 115.2h0M62.7 117.9h0M63.5 120.6h0M64.4 123.3h0M65.2 125.9h0M66 128.6h0M66.8 131.3h0M67.6 133.9h0M68.5 136.6h0M69.3 139.3h0M70.1 142h0M70.9 144.6h0M71.7 147.3h0M72.5 150h0M73.4 152.7h0M74.2 155.3h0M75 158h0" stroke="#0000ff" stroke-width="4.4" stroke-linecap="round" fill="none"/>
<path d="M262 60.8h0M259.2 62h0M256.4 63.2h0M253.6 64.5h0M250.8 65.7h0M248 66.9h0M245.2 68.1h0M242.4 69.4h0M239.6 70.6h0M236.8 71.8h0M234 73h0M231.2 74.3h0M228.4 75.5h0M225.6 76.7h0M222.8 77.9h0M220 79.2h0M217.2 80.4h0M214.4 81.6h0M211.6 82.8h0M208.8 84h0M206 85.3h0M203.2 86.5h0M200.4 87.7h0M197.6 88.9h0M194.8 90.2h0M192 91.4h0M189.2 92.6h0M186.4 93.8h0M183.6 95.1h0M180.8 96.3h0M178 97.5h0" stroke="#b8860b" stroke-width="3.2" stroke-linecap="round" fill="none"/>
<path d="M262 60.8h0M260.9 64.3h0M259.9 67.8h0M258.8 71.3h0M257.7 74.9h0M256.6 78.4h0M255.6 81.9h0M254.5 85.4h0M253.4 88.9h0M252.4 92.4h0M251.3 95.9h0M250.2 99.5h0M249.1 103h0M248.1 106.5h0M247 110h0" stroke="#b8860b" stroke-width="3.6" stroke-linecap="round" fill="none"/>
<path d="M249 117h0M247.8 119.3h0M246.7 121.7h0M245.5 124h0M244.3 126.3h0M243.2 128.7h0M242 131h0" stroke="#ff0000" stroke-width="4" stroke-linecap="round" fill="none"/>
<path d="M236.5 132.9h0M240.3 125h0M247.5 118.5h0M240.1 117.9h0M236.2 130.4h0M238.8 119.6h0M246.3 128.2h0M247.3 125.1h0M243.8 132.7h0M233.3 122.4h0M244.4 120.3h0M235.5 130h0M241.7 126.7h0M232.9 132.3h0M246.9 119.3h0M242.9 117.1h0M240.9 125.8h0M235.1 122.8h0M243 123.2h0M237.8 129.8h0M241 129.9h0M242.4 125h0M235.6 129.7h0M233.4 122h0M244.1 118.9h0" stroke="#ff0000" stroke-width="3.6" stroke-linecap="round" fill="none"/>
<path d="M243 133h0M241.5 136h0M240 139h0M238.5 142h0M237 145h0M235.5 148h0M234 151h0M232.5 154h0M231 157h0M229.5 160h0M228 163h0M226.5 166h0M225 169h0M223.5 172h0M222 175h0" stroke="#ff00ff" stroke-width="3.6" stroke-linecap="round" fill="none"/>
<path d="M77.5 178h0M77.3 181.1h0M77.1 184.3h0M76.9 187.4h0M76.6 190.6h0M76.4 193.7h0M76.2 196.9h0M76 200h0" stroke="#ff00ff" stroke-width="4" stroke-linecap="round" fill="none"/>
<path d="M135 222h0M138.2 225.3h0M141.3 228.6h0M144.5 231.8h0M147.7 235.1h0M150.8 238.4h0M154 241.7h0M157.2 244.9h0M160.3 248.2h0M163.5 251.5h0M166.7 254.8h0M169.8 258.1h0M173 261.3h0M176.2 264.6h0M179.3 267.9h0M182.5 271.2h0M185.7 274.4h0M188.8 277.7h0M192 281h0" stroke="#00cd00" stroke-width="3.6" stroke-linecap="round" fill="none"/>
<path d="M207 228h0M206.1 231.8h0M205.3 235.6h0M204.4 239.4h0M203.6 243.1h0M202.7 246.9h0M201.9 250.7h0M201 254.5h0M200.1 258.3h0M199.3 262.1h0M198.4 265.9h0M197.6 269.6h0M196.7 273.4h0M195.9 277.2h0M195 281h0" stroke="#00cd00" stroke-width="3.0" stroke-linecap="round" fill="none"/>
<polygon points="55.5,99.5 57.0,97.6 62.0,99.0 68.0,102.5 71.0,125.0 76.0,145.0 77.0,156.0 75.0,156.0" fill="#0000ff"/>
<path d="M198.7 92.7L203.5 90.8M255.3 67.2L260.4 65.2M250.9 69.3L253.6 68.2M213.6 82.8L216.8 81.6M226.4 81.5L229.5 80.3M220.8 83.4L223.8 82.2M208.4 88.9L211.2 87.8M223.5 81.7L227.1 80.2M227.2 78.8L231.1 77.2M209 89.2L211.5 88.2M257 68.7L260.1 67.5M201.2 88.4L206.4 86.3M202.5 88.5L205.8 87.2M217.3 83L222.8 80.8M216.3 84.1L221 82.3M228.6 80.6L233 78.8M230 76.6L232.4 75.6M192.8 90.5L195.6 89.4M193.4 91.9L198.4 90M196.4 94.3L199.8 93M250.3 70.1L255.2 68.2M211.2 87.7L215.2 86M222.9 80.9L225.8 79.7M224.3 82.8L228.8 80.9M190.1 92.8L193.6 91.3M199.3 93.5L201.9 92.4M188.4 94.4L191.1 93.4M225.6 79.3L231 77.2M225.4 81.3L230.1 79.4M207.4 87L212.4 85M215 82.7L220.2 80.7M195.7 92.8L200.6 90.9M219.7 81.4L222.9 80.2M249.6 72.9L252.9 71.6M193 92.3L197.7 90.5M187.6 94.8L190.9 93.5M252.7 67.7L255.2 66.7M226.9 82.3L230.2 81M242.7 72.5L245.3 71.5M220.5 80L225.2 78.2M240.4 73.7L243.2 72.6M236.6 74.3L240.4 72.8M207.6 87.6L211.6 86M245.2 72.3L249.5 70.6M248.4 69.4L250.9 68.4M251 70.9L253.6 70.6M244 97.7L248.3 97.7M249.6 78.7L253.5 78.7M243.4 95.5L247.3 95M251.7 83.3L255.8 83M246.2 88.1L250.5 87.7M242 110.4L245.7 109.9M248.5 95L251.8 94.6M253.3 75.2L257 75M250.7 70.9L255 70.6M255 76.7L258.7 76.4M254.7 78.1L259.1 78M239.9 107.7L243.9 107.2M239.3 111.6L243.6 111.1M247.1 95L250.2 94.8M250 90.2L255 89.9" stroke="#fff" stroke-width="1.1" fill="none"/>
<path d="M197.7 218.2L215.4 217.8M208.5 178.9L229.4 178.9M191.9 234.1L210.5 232.7M212.1 180.3L229.1 179.6M197 215.2L216.7 214.5M201.4 193.3L223.1 192.2M198.9 219.4L216.1 218.4M186.3 231.7L211.1 229.2M198.4 210L219 207.9M198 214.9L215.7 212.7M202.7 207L219.7 205.3M196.2 202.1L221.1 201.7M199.8 216.5L216.6 215.1M205.8 189.8L225.2 187.3M200.3 189L224.3 188" stroke="#0000ff" stroke-width="1.5" fill="none" stroke-dasharray="3,1.8"/>
<path d="M178.4 263.3L200.4 261.1M194.3 234L211.8 231.9M185.5 229.6L211.4 229.4M188.3 247L206.8 246.5M194 219.3L213.9 219.3M189.4 238.3L207.8 237.2M178.3 257.3L203.3 257.2M183.3 262.7L200.1 261.9M200.6 208.5L219.2 207.4M187.1 245.7L207.7 245.3M203.2 188.3L224.6 188.3M196.8 205.7L219.9 204.5M194.3 233.6L211 231.7M191 240.3L208.3 238.8M201.7 207.2L219.2 206.6M183.7 238.5L208.9 236.7M210.6 191.5L225.3 190M180.4 259.9L200.8 259.2M181.3 245.5L205.8 245M189.4 246.6L206.4 246M210.3 187.5L224.9 186.5M185.4 263.3L202.1 260.8M190.4 221.9L213.9 221.6M189.8 242.5L208.5 241.7M190.8 244.1L205.6 243.5M196.3 219.3L214.8 217.3M179.1 255.2L204.2 254.5M196.3 231.6L211.5 230.8M179.5 254.4L205.3 252M180.8 255.4L202.7 254.4M203.5 201.4L220 200.7M190.9 241L207.5 240.1M183 261L201.5 259.3M185.7 248.8L204.5 246.4M195.7 205.3L221.3 203.5M195.2 200.2L221.2 197.9M185.8 250.3L203.3 249.8M186.9 242.2L207.6 239.9M204.7 190.4L225.3 188.2M194.7 226.5L212.3 225.5M176.1 259.8L201.8 258.5M181.9 258.4L201.8 258.3M196 201L222 199M204.2 189.9L225.9 189.4M181.4 257.4L201.2 256.6M189.2 251.9L205.4 251.3M190.9 221.2L215.8 220M201 204.5L219.9 203.4M200 224.1L215.4 222M201.9 188.4L225.7 187.1M183 261.5L201.4 259.9M190.1 242.8L207.2 241M193.7 220.4L213.6 219M206.7 196.9L223 195.1M187.5 258.5L201.5 257.2" stroke="#00cd00" stroke-width="1.2" fill="none" stroke-dasharray="1.3,1.5"/>
<path d="M92 209h0M94.6 209.8h0M97.3 210.5h0M99.9 211.3h0M102.5 212.1h0M105.2 212.9h0M107.8 213.6h0M110.5 214.4h0M113.1 215.2h0M115.7 216h0M118.4 216.7h0M121 217.5h0M95 207h0M99 208h0M104 210h0M110 212h0M116 214h0" stroke="#b8860b" stroke-width="4.6" stroke-linecap="round" fill="none"/>
<path d="M125.6 236.6L119.4 202.5M125.6 236.6L116.3 206.7" stroke="#0000ff" stroke-width="0.9" fill="none" stroke-dasharray="2,2" stroke-opacity="0.8"/>
<path d="M114.8 225.9L107.4 189.2M114.8 225.9L97.7 186.7" stroke="#0000ff" stroke-width="0.9" fill="none" stroke-dasharray="2,2" stroke-opacity="0.8"/>
<path d="M117.5 229.2L107.9 194.4M117.5 229.2L102.4 195.9" stroke="#0000ff" stroke-width="0.9" fill="none" stroke-dasharray="2,2" stroke-opacity="0.8"/>
<path d="M146.5 254.1L139.6 213.2M146.5 254.1L132.7 224.3" stroke="#0000ff" stroke-width="0.9" fill="none" stroke-dasharray="2,2" stroke-opacity="0.8"/>
<path d="M156.7 262L136.5 217.5M156.7 262L135.7 225.3" stroke="#0000ff" stroke-width="0.9" fill="none" stroke-dasharray="2,2" stroke-opacity="0.8"/>
<path d="M165.3 261.4L156.1 223.1M165.3 261.4L158.4 220.8" stroke="#ff00ff" stroke-width="0.9" fill="none" stroke-dasharray="2,2" stroke-opacity="0.8"/>
<path d="M168.5 262.6L152.1 224.5M168.5 262.6L146.7 236.9" stroke="#ff00ff" stroke-width="0.9" fill="none" stroke-dasharray="2,2" stroke-opacity="0.8"/>
<path d="M166 266L144.1 225.4M166 266L147 233.8" stroke="#ff0000" stroke-width="0.9" fill="none" stroke-dasharray="2,2" stroke-opacity="0.8"/>
<path d="M161 267.3L143.6 233.6M161 267.3L139.4 234.9" stroke="#b8860b" stroke-width="0.9" fill="none" stroke-dasharray="2,2" stroke-opacity="0.8"/>
<path d="M174.8 252.4L153.9 217.2M174.8 252.4L157.3 214.9" stroke="#ff0000" stroke-width="0.9" fill="none" stroke-dasharray="2,2" stroke-opacity="0.8"/>
<path d="M176.1 261.4L156 222.6M176.1 261.4L168.4 219.8" stroke="#ff0000" stroke-width="0.9" fill="none" stroke-dasharray="2,2" stroke-opacity="0.8"/>
<path d="M178 248.6L171.9 208.6M178 248.6L169 220.1" stroke="#b8860b" stroke-width="0.9" fill="none" stroke-dasharray="2,2" stroke-opacity="0.8"/>
<path d="M185.3 255.6L172.4 222.3M185.3 255.6L173.5 215.2" stroke="#ff00ff" stroke-width="0.9" fill="none" stroke-dasharray="2,2" stroke-opacity="0.8"/>
<path d="M195.5 254.1L187.5 216.3M195.5 254.1L180.4 213.8" stroke="#ff00ff" stroke-width="0.9" fill="none" stroke-dasharray="2,2" stroke-opacity="0.8"/>
<path d="M203.9 252.4L184.5 213.5M203.9 252.4L196.9 222.1" stroke="#ff00ff" stroke-width="0.9" fill="none" stroke-dasharray="2,2" stroke-opacity="0.8"/>
<path d="M145.1 274.5L124.7 229.9M145.1 274.5L130.7 235.9" stroke="#ff0000" stroke-width="0.9" fill="none" stroke-dasharray="2,2" stroke-opacity="0.8"/>
<path d="M150.6 276.7L140.5 238.4M150.6 276.7L140 244.1" stroke="#b8860b" stroke-width="0.9" fill="none" stroke-dasharray="2,2" stroke-opacity="0.8"/>
<path d="M154.4 272.8L146.2 230.9M154.4 272.8L139.4 237.1" stroke="#b8860b" stroke-width="0.9" fill="none" stroke-dasharray="2,2" stroke-opacity="0.8"/>
<path d="M189.9 226.3L182.5 195.5M189.9 226.3L173.4 189.9" stroke="#0000ff" stroke-width="0.9" fill="none" stroke-dasharray="2,2" stroke-opacity="0.8"/>
<rect x="123.6" y="234.6" width="4" height="4" fill="#0000ff"/>
<rect x="112.8" y="223.9" width="4" height="4" fill="#0000ff"/>
<rect x="115.5" y="227.2" width="4" height="4" fill="#0000ff"/>
<rect x="144.5" y="252.1" width="4" height="4" fill="#0000ff"/>
<rect x="154.7" y="260.0" width="4" height="4" fill="#0000ff"/>
<rect x="163.3" y="259.4" width="4" height="4" fill="#ff00ff"/>
<rect x="166.5" y="260.6" width="4" height="4" fill="#ff00ff"/>
<rect x="164.0" y="264.0" width="4" height="4" fill="#ff0000"/>
<rect x="159.0" y="265.3" width="4" height="4" fill="#b8860b"/>
<rect x="172.8" y="250.4" width="4" height="4" fill="#ff0000"/>
<rect x="174.1" y="259.4" width="4" height="4" fill="#ff0000"/>
<rect x="176.0" y="246.6" width="4" height="4" fill="#b8860b"/>
<rect x="183.3" y="253.6" width="4" height="4" fill="#ff00ff"/>
<rect x="193.5" y="252.1" width="4" height="4" fill="#ff00ff"/>
<rect x="201.9" y="250.4" width="4" height="4" fill="#ff00ff"/>
<rect x="143.1" y="272.5" width="4" height="4" fill="#ff0000"/>
<rect x="148.6" y="274.7" width="4" height="4" fill="#b8860b"/>
<rect x="152.4" y="270.8" width="4" height="4" fill="#b8860b"/>
<rect x="187.9" y="224.3" width="4" height="4" fill="#0000ff"/>
<circle cx="171" cy="95.6" r="1.9" fill="#111" stroke="#333" stroke-width="0.6"/>
<circle cx="185" cy="97.2" r="1.9" fill="#111" stroke="#333" stroke-width="0.6"/>
<circle cx="169" cy="101" r="1.9" fill="#111" stroke="#333" stroke-width="0.6"/>
<circle cx="174" cy="101" r="1.9" fill="#111" stroke="#333" stroke-width="0.6"/>
<circle cx="158" cy="107" r="1.9" fill="#111" stroke="#333" stroke-width="0.6"/>
<circle cx="164.5" cy="105.6" r="1.9" fill="#111" stroke="#333" stroke-width="0.6"/>
<path d="M152 176 L176 183 L196 186 M145 196 l-3 -8 l-2 -8 M229.5 161 L226 166 L221 171 L216 176 M131 172 l-2 6" stroke="#111" stroke-width="1.1" fill="none"/>
<g fill="none" stroke="#111" stroke-width="1"><circle cx="118.5" cy="176" r="2.2"/><circle cx="126" cy="175.5" r="2"/><circle cx="134.5" cy="176.5" r="2.2"/><circle cx="148.5" cy="175.5" r="2.3"/><circle cx="157" cy="178" r="1.8"/><path d="M121 172 v8 M137 173 v6"/></g>
<path d="M231 158 L227 165 L220 172 L214 178" stroke="#1010c0" stroke-width="1.6" fill="none"/>
<path d="M229.5 160.5 L226.5 165.5 M223 169 L218 173.5" stroke="#111" stroke-width="2.6" stroke-linecap="round" fill="none"/>
<text transform="translate(101.1,166.6) scale(1,1.1)" font-size="14.5" font-weight="bold" font-style="italic" fill="#0a0a0a">fish</text>
<text transform="translate(137.6,168.6) scale(1,1.1)" font-size="14.5" font-weight="bold" font-style="italic" fill="#0a0a0a">reptiles</text>
<text transform="translate(78.0,190.2) scale(1,1.1)" font-size="14.5" font-weight="bold" font-style="italic" fill="#0a0a0a">birds</text>
<text transform="translate(177.0,190.6) scale(1,1.1)" font-size="14.5" font-weight="bold" font-style="italic" fill="#0a0a0a">amphibians</text>
<text transform="translate(111.4,210.2) scale(1,1.1)" font-size="14.5" font-weight="bold" font-style="italic" fill="#0a0a0a">mammal</text>
</g></g>
<rect x="36.2" y="24.7" width="246.10000000000002" height="280.7" fill="none" stroke="#c4c4c4" stroke-width="1"/>
<line x1="45.0" y1="305.4" x2="45.0" y2="308.4" stroke="#bbb" stroke-width="1"/>
<text x="45.0" y="322.3" font-size="12" fill="#666" text-anchor="middle">-5.0</text>
<line x1="90.8" y1="305.4" x2="90.8" y2="308.4" stroke="#bbb" stroke-width="1"/>
<text x="90.8" y="322.3" font-size="12" fill="#666" text-anchor="middle">-2.5</text>
<line x1="136.6" y1="305.4" x2="136.6" y2="308.4" stroke="#bbb" stroke-width="1"/>
<text x="136.6" y="322.3" font-size="12" fill="#666" text-anchor="middle">0.0</text>
<line x1="182.4" y1="305.4" x2="182.4" y2="308.4" stroke="#bbb" stroke-width="1"/>
<text x="182.4" y="322.3" font-size="12" fill="#666" text-anchor="middle">2.5</text>
<line x1="228.2" y1="305.4" x2="228.2" y2="308.4" stroke="#bbb" stroke-width="1"/>
<text x="228.2" y="322.3" font-size="12" fill="#666" text-anchor="middle">5.0</text>
<line x1="274.0" y1="305.4" x2="274.0" y2="308.4" stroke="#bbb" stroke-width="1"/>
<text x="274.0" y="322.3" font-size="12" fill="#666" text-anchor="middle">7.5</text>
<line x1="31.800000000000004" y1="36.2" x2="36.2" y2="36.2" stroke="#bbb" stroke-width="1"/>
<text x="28.3" y="41.2" font-size="11.8" fill="#666" text-anchor="end">8</text>
<line x1="31.800000000000004" y1="105.9" x2="36.2" y2="105.9" stroke="#bbb" stroke-width="1"/>
<text x="28.3" y="110.9" font-size="11.8" fill="#666" text-anchor="end">4</text>
<line x1="31.800000000000004" y1="175.6" x2="36.2" y2="175.6" stroke="#bbb" stroke-width="1"/>
<text x="28.3" y="180.6" font-size="11.8" fill="#666" text-anchor="end">0</text>
<line x1="31.800000000000004" y1="245.3" x2="36.2" y2="245.3" stroke="#bbb" stroke-width="1"/>
<text x="28.3" y="250.3" font-size="11.8" fill="#666" text-anchor="end">-4</text>
<text x="84.3" y="15.5" font-size="15" font-weight="bold" fill="#111">Individual factor map</text>
<text x="282.3" y="337.6" font-size="12.6" font-weight="bold" fill="#111" text-anchor="end">Dim 1 (21.08%)</text>
<text transform="translate(11.7,111.9) rotate(-90)" x="0" y="0" font-size="12.6" font-weight="bold" fill="#111">Dim 2 (11.13%)</text>
<text x="12" y="367.9" font-size="10.7" fill="#222">Groups</text>
<text x="34.2" y="381.9" font-size="9" fill="#3bdb3b" stroke="#3bdb3b" stroke-width="0.25">Positive bioecological perceptions</text>
<text x="13.8" y="383.4" font-size="10.8" fill="#33cc33">a</text>
<path d="M14 377.29999999999995 H27.2 M22.6 374.9 L27.4 377.29999999999995 L22.6 379.59999999999997" stroke="#33cc33" stroke-width="0.9" fill="none"/>
<text x="34.2" y="392.7" font-size="9" fill="#3f7fbf" stroke="#3f7fbf" stroke-width="0.25">Positive attitudes</text>
<text x="13.8" y="394.2" font-size="10.8" fill="#4a86c8">a</text>
<path d="M14 388.09999999999997 H27.2 M22.6 385.7 L27.4 388.09999999999997 L22.6 390.4" stroke="#4a86c8" stroke-width="0.9" fill="none"/>
<text x="34.2" y="405.0" font-size="9" fill="#cc2f3a" stroke="#cc2f3a" stroke-width="0.25">Negative bioecological perceptions</text>
<text x="13.8" y="406.5" font-size="10.8" fill="#d0303a">a</text>
<path d="M14 400.4 H27.2 M22.6 398.0 L27.4 400.4 L22.6 402.7" stroke="#d0303a" stroke-width="0.9" fill="none"/>
<text x="34.2" y="420.0" font-size="9" fill="#c2a646" stroke="#c2a646" stroke-width="0.25">Hiper negative attitudes</text>
<text x="13.8" y="421.5" font-size="10.8" fill="#999">a</text>
<path d="M14 415.4 H27.2 M22.6 413.0 L27.4 415.4 L22.6 417.7" stroke="#999" stroke-width="0.9" fill="none"/>
<text x="34.2" y="434.6" font-size="9" fill="#cc33cc" stroke="#cc33cc" stroke-width="0.25">Negative attitudes</text>
<text x="13.8" y="436.1" font-size="10.8" fill="#cc33cc">a</text>
<path d="M14 430.0 H27.2 M22.6 427.6 L27.4 430.0 L22.6 432.3" stroke="#cc33cc" stroke-width="0.9" fill="none"/>
<text x="371.3" y="10.6" font-size="12.25" fill="#222">Contribution of groups to Dim-1</text>
<line x1="371" y1="163.6" x2="784" y2="163.6" stroke="#f2f2f2" stroke-width="0.8"/>
<line x1="371" y1="131.5" x2="784" y2="131.5" stroke="#f2f2f2" stroke-width="0.8"/>
<line x1="371" y1="99.4" x2="784" y2="99.4" stroke="#f2f2f2" stroke-width="0.8"/>
<line x1="371" y1="67.3" x2="784" y2="67.3" stroke="#f2f2f2" stroke-width="0.8"/>
<line x1="371" y1="35.2" x2="784" y2="35.2" stroke="#f2f2f2" stroke-width="0.8"/>
<line x1="371" y1="179.7" x2="784" y2="179.7" stroke="#ebebeb" stroke-width="1"/>
<line x1="368.4" y1="179.7" x2="371" y2="179.7" stroke="#333" stroke-width="1"/>
<text x="366.3" y="183.0" font-size="9.6" fill="#4d4d4d" text-anchor="end">0</text>
<line x1="371" y1="147.6" x2="784" y2="147.6" stroke="#ebebeb" stroke-width="1"/>
<line x1="368.4" y1="147.6" x2="371" y2="147.6" stroke="#333" stroke-width="1"/>
<text x="366.3" y="150.9" font-size="9.6" fill="#4d4d4d" text-anchor="end">5</text>
<line x1="371" y1="115.5" x2="784" y2="115.5" stroke="#ebebeb" stroke-width="1"/>
<line x1="368.4" y1="115.5" x2="371" y2="115.5" stroke="#333" stroke-width="1"/>
<text x="366.3" y="118.8" font-size="9.6" fill="#4d4d4d" text-anchor="end">10</text>
<line x1="371" y1="83.4" x2="784" y2="83.4" stroke="#ebebeb" stroke-width="1"/>
<line x1="368.4" y1="83.4" x2="371" y2="83.4" stroke="#333" stroke-width="1"/>
<text x="366.3" y="86.7" font-size="9.6" fill="#4d4d4d" text-anchor="end">15</text>
<line x1="371" y1="51.3" x2="784" y2="51.3" stroke="#ebebeb" stroke-width="1"/>
<line x1="368.4" y1="51.3" x2="371" y2="51.3" stroke="#333" stroke-width="1"/>
<text x="366.3" y="54.6" font-size="9.6" fill="#4d4d4d" text-anchor="end">20</text>
<line x1="371" y1="19.2" x2="784" y2="19.2" stroke="#ebebeb" stroke-width="1"/>
<line x1="368.4" y1="19.2" x2="371" y2="19.2" stroke="#333" stroke-width="1"/>
<text x="366.3" y="22.5" font-size="9.6" fill="#4d4d4d" text-anchor="end">25</text>
<line x1="419.2" y1="16.3" x2="419.2" y2="187.5" stroke="#ebebeb" stroke-width="1"/>
<line x1="498.7" y1="16.3" x2="498.7" y2="187.5" stroke="#ebebeb" stroke-width="1"/>
<line x1="578.1" y1="16.3" x2="578.1" y2="187.5" stroke="#ebebeb" stroke-width="1"/>
<line x1="657.7" y1="16.3" x2="657.7" y2="187.5" stroke="#ebebeb" stroke-width="1"/>
<line x1="737.1" y1="16.3" x2="737.1" y2="187.5" stroke="#ebebeb" stroke-width="1"/>
<rect x="391.2" y="24.2" width="56" height="155.5" fill="#4682b4"/>
<rect x="470.7" y="46.4" width="56" height="133.3" fill="#4682b4"/>
<rect x="550.1" y="46.9" width="56" height="132.8" fill="#4682b4"/>
<rect x="629.7" y="49.4" width="56" height="130.3" fill="#4682b4"/>
<rect x="709.1" y="88.4" width="56" height="91.3" fill="#4682b4"/>
<line x1="371" y1="51.6" x2="784" y2="51.6" stroke="#c2404a" stroke-width="1.2" stroke-dasharray="3.2,2.8"/>
<line x1="419.2" y1="187.5" x2="419.2" y2="190.1" stroke="#333" stroke-width="1"/>
<text transform="translate(425.6,195.5) rotate(-45)" font-size="8.6" fill="#4d4d4d" text-anchor="end">negleve</text>
<line x1="498.7" y1="187.5" x2="498.7" y2="190.1" stroke="#333" stroke-width="1"/>
<text transform="translate(505.0,195.5) rotate(-45)" font-size="8.6" fill="#4d4d4d" text-anchor="end">bioneg</text>
<line x1="578.1" y1="187.5" x2="578.1" y2="190.1" stroke="#333" stroke-width="1"/>
<text transform="translate(584.4,195.5) rotate(-45)" font-size="8.6" fill="#4d4d4d" text-anchor="end">negext</text>
<line x1="657.7" y1="187.5" x2="657.7" y2="190.1" stroke="#333" stroke-width="1"/>
<text transform="translate(664.0,195.5) rotate(-45)" font-size="8.6" fill="#4d4d4d" text-anchor="end">posi</text>
<line x1="737.1" y1="187.5" x2="737.1" y2="190.1" stroke="#333" stroke-width="1"/>
<text transform="translate(743.4,195.5) rotate(-45)" font-size="8.6" fill="#4d4d4d" text-anchor="end">bioposi</text>
<text transform="translate(350.2,100.9) rotate(-90)" font-size="9.9" fill="#222" text-anchor="middle">Contributions (%)</text>
<text x="367.0" y="239.1" font-size="12.25" fill="#222">Contribution of groups to Dim-2</text>
<line x1="367.4" y1="391.6" x2="779.5" y2="391.6" stroke="#f2f2f2" stroke-width="0.8"/>
<line x1="367.4" y1="358.1" x2="779.5" y2="358.1" stroke="#f2f2f2" stroke-width="0.8"/>
<line x1="367.4" y1="324.5" x2="779.5" y2="324.5" stroke="#f2f2f2" stroke-width="0.8"/>
<line x1="367.4" y1="291.0" x2="779.5" y2="291.0" stroke="#f2f2f2" stroke-width="0.8"/>
<line x1="367.4" y1="257.4" x2="779.5" y2="257.4" stroke="#f2f2f2" stroke-width="0.8"/>
<line x1="367.4" y1="408.4" x2="779.5" y2="408.4" stroke="#ebebeb" stroke-width="1"/>
<line x1="364.79999999999995" y1="408.4" x2="367.4" y2="408.4" stroke="#333" stroke-width="1"/>
<text x="361.5" y="411.7" font-size="9.6" fill="#4d4d4d" text-anchor="end">0</text>
<line x1="367.4" y1="374.8" x2="779.5" y2="374.8" stroke="#ebebeb" stroke-width="1"/>
<line x1="364.79999999999995" y1="374.8" x2="367.4" y2="374.8" stroke="#333" stroke-width="1"/>
<text x="361.5" y="378.1" font-size="9.6" fill="#4d4d4d" text-anchor="end">10</text>
<line x1="367.4" y1="341.3" x2="779.5" y2="341.3" stroke="#ebebeb" stroke-width="1"/>
<line x1="364.79999999999995" y1="341.3" x2="367.4" y2="341.3" stroke="#333" stroke-width="1"/>
<text x="361.5" y="344.6" font-size="9.6" fill="#4d4d4d" text-anchor="end">20</text>
<line x1="367.4" y1="307.8" x2="779.5" y2="307.8" stroke="#ebebeb" stroke-width="1"/>
<line x1="364.79999999999995" y1="307.8" x2="367.4" y2="307.8" stroke="#333" stroke-width="1"/>
<text x="361.5" y="311.1" font-size="9.6" fill="#4d4d4d" text-anchor="end">30</text>
<line x1="367.4" y1="274.2" x2="779.5" y2="274.2" stroke="#ebebeb" stroke-width="1"/>
<line x1="364.79999999999995" y1="274.2" x2="367.4" y2="274.2" stroke="#333" stroke-width="1"/>
<text x="361.5" y="277.5" font-size="9.6" fill="#4d4d4d" text-anchor="end">40</text>
<line x1="414.7" y1="245.8" x2="414.7" y2="416.0" stroke="#ebebeb" stroke-width="1"/>
<line x1="494.4" y1="245.8" x2="494.4" y2="416.0" stroke="#ebebeb" stroke-width="1"/>
<line x1="573.7" y1="245.8" x2="573.7" y2="416.0" stroke="#ebebeb" stroke-width="1"/>
<line x1="653.5" y1="245.8" x2="653.5" y2="416.0" stroke="#ebebeb" stroke-width="1"/>
<line x1="732.4" y1="245.8" x2="732.4" y2="416.0" stroke="#ebebeb" stroke-width="1"/>
<rect x="386.7" y="253.3" width="56" height="155.1" fill="#4682b4"/>
<rect x="466.4" y="340.6" width="56" height="67.8" fill="#4682b4"/>
<rect x="545.7" y="345.9" width="56" height="62.5" fill="#4682b4"/>
<rect x="625.5" y="381.3" width="56" height="27.1" fill="#4682b4"/>
<rect x="704.4" y="384.8" width="56" height="23.6" fill="#4682b4"/>
<line x1="367.4" y1="341.6" x2="779.5" y2="341.6" stroke="#c2404a" stroke-width="1.2" stroke-dasharray="3.2,2.8"/>
<line x1="414.7" y1="416.0" x2="414.7" y2="418.6" stroke="#333" stroke-width="1"/>
<text transform="translate(420.0,425.6) rotate(-45)" font-size="8.6" fill="#4d4d4d" text-anchor="end">bioposi</text>
<line x1="494.4" y1="416.0" x2="494.4" y2="418.6" stroke="#333" stroke-width="1"/>
<text transform="translate(499.7,425.6) rotate(-45)" font-size="8.6" fill="#4d4d4d" text-anchor="end">posi</text>
<line x1="573.7" y1="416.0" x2="573.7" y2="418.6" stroke="#333" stroke-width="1"/>
<text transform="translate(579.0,425.6) rotate(-45)" font-size="8.6" fill="#4d4d4d" text-anchor="end">negext</text>
<line x1="653.5" y1="416.0" x2="653.5" y2="418.6" stroke="#333" stroke-width="1"/>
<text transform="translate(658.8,425.6) rotate(-45)" font-size="8.6" fill="#4d4d4d" text-anchor="end">bioneg</text>
<line x1="732.4" y1="416.0" x2="732.4" y2="418.6" stroke="#333" stroke-width="1"/>
<text transform="translate(737.7,425.6) rotate(-45)" font-size="8.6" fill="#4d4d4d" text-anchor="end">negleve</text>
<text transform="translate(346.0,330.6) rotate(-90)" font-size="9.9" fill="#222" text-anchor="middle">Contributions (%)</text>
</svg>
</body></html>
